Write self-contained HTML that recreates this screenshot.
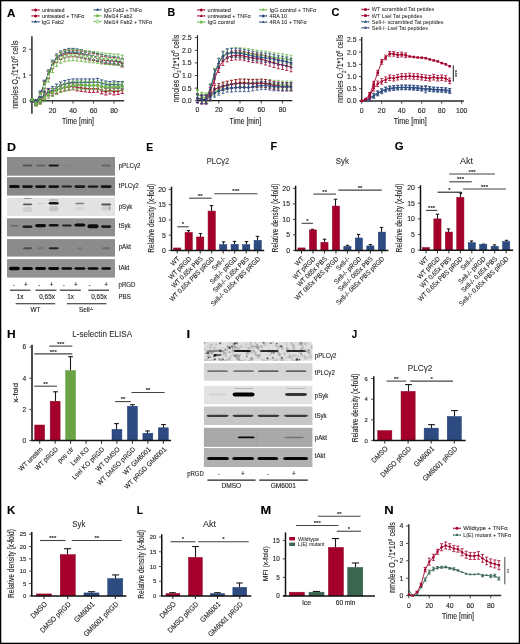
<!DOCTYPE html><html><head><meta charset="utf-8"><style>html,body{margin:0;padding:0;background:#fff;overflow:hidden;}svg{display:block;will-change:transform;}</style></head><body><svg width="520" height="644" viewBox="0 0 520 644" font-family='"Liberation Sans", sans-serif' fill="#1e1e1e"><defs><filter id="bl" x="-50%" y="-100%" width="200%" height="300%"><feGaussianBlur stdDeviation="0.55"/></filter><filter id="noiseI" filterUnits="userSpaceOnUse" x="203.9" y="341.9" width="108.5" height="18.9"><feTurbulence type="fractalNoise" baseFrequency="0.22" numOctaves="2" seed="7"/><feColorMatrix type="matrix" values="0 0 0 0 0  0 0 0 0 0  0 0 0 0 0  1.1 0 0 0 -0.52"/><feGaussianBlur stdDeviation="0.5"/><feComposite in2="SourceGraphic" operator="in"/></filter></defs><rect x="0" y="0" width="520" height="644" fill="#fff"/><text transform="translate(7.02 16.50) scale(1.001 1)" font-size="11.6" font-weight="bold" fill="#000" stroke="#000" stroke-width="0.12">A</text>
<line x1="31.80" y1="10.00" x2="39.30" y2="10.00" stroke="#a4002b" stroke-width="0.9"/>
<line x1="32.10" y1="9.10" x2="32.10" y2="10.90" stroke="#a4002b" stroke-width="0.6"/>
<line x1="39.00" y1="9.10" x2="39.00" y2="10.90" stroke="#a4002b" stroke-width="0.6"/>
<circle cx="35.55" cy="10.00" r="1.5" fill="#a4002b"/>
<text x="41.90" y="12.09" font-size="5.80" stroke="#1e1e1e" stroke-width="0.06" textLength="22.70" lengthAdjust="spacingAndGlyphs">untreated</text>
<line x1="31.80" y1="15.90" x2="39.30" y2="15.90" stroke="#a4002b" stroke-width="0.9"/>
<line x1="32.10" y1="15.00" x2="32.10" y2="16.80" stroke="#a4002b" stroke-width="0.6"/>
<line x1="39.00" y1="15.00" x2="39.00" y2="16.80" stroke="#a4002b" stroke-width="0.6"/>
<circle cx="35.55" cy="15.90" r="1.5" fill="#a4002b"/>
<text x="41.90" y="17.99" font-size="5.80" stroke="#1e1e1e" stroke-width="0.06" textLength="42.60" lengthAdjust="spacingAndGlyphs">untreated + TNF&#945;</text>
<line x1="31.80" y1="21.80" x2="39.30" y2="21.80" stroke="#2d4b80" stroke-width="0.9"/>
<line x1="32.10" y1="20.90" x2="32.10" y2="22.70" stroke="#2d4b80" stroke-width="0.6"/>
<line x1="39.00" y1="20.90" x2="39.00" y2="22.70" stroke="#2d4b80" stroke-width="0.6"/>
<path d="M35.55 20.10l1.6 2.7h-3.2z" fill="#2d4b80"/>
<text x="41.90" y="23.89" font-size="5.80" stroke="#1e1e1e" stroke-width="0.06" textLength="22.00" lengthAdjust="spacingAndGlyphs">IgG Fab2</text>
<line x1="93.80" y1="9.80" x2="101.30" y2="9.80" stroke="#2d4b80" stroke-width="0.9"/>
<line x1="94.10" y1="8.90" x2="94.10" y2="10.70" stroke="#2d4b80" stroke-width="0.6"/>
<line x1="101.00" y1="8.90" x2="101.00" y2="10.70" stroke="#2d4b80" stroke-width="0.6"/>
<path d="M97.55 8.10l1.6 2.7h-3.2z" fill="#2d4b80"/>
<text x="103.90" y="11.89" font-size="5.80" stroke="#1e1e1e" stroke-width="0.06" textLength="38.00" lengthAdjust="spacingAndGlyphs">IgG Fab2 + TNF&#945;</text>
<line x1="93.80" y1="15.80" x2="101.30" y2="15.80" stroke="#6cb84a" stroke-width="0.9"/>
<line x1="94.10" y1="14.90" x2="94.10" y2="16.70" stroke="#6cb84a" stroke-width="0.6"/>
<line x1="101.00" y1="14.90" x2="101.00" y2="16.70" stroke="#6cb84a" stroke-width="0.6"/>
<rect x="96.25" y="14.50" width="2.6" height="2.6" fill="#6cb84a"/>
<text x="103.90" y="17.89" font-size="5.80" stroke="#1e1e1e" stroke-width="0.06" textLength="28.50" lengthAdjust="spacingAndGlyphs">Mel14 Fab2</text>
<line x1="93.80" y1="21.60" x2="101.30" y2="21.60" stroke="#6cb84a" stroke-width="0.9"/>
<line x1="94.10" y1="20.70" x2="94.10" y2="22.50" stroke="#6cb84a" stroke-width="0.6"/>
<line x1="101.00" y1="20.70" x2="101.00" y2="22.50" stroke="#6cb84a" stroke-width="0.6"/>
<circle cx="97.55" cy="21.60" r="1.5" fill="#fff" stroke="#6cb84a" stroke-width="0.8"/>
<text x="103.90" y="23.69" font-size="5.80" stroke="#1e1e1e" stroke-width="0.06" textLength="48.30" lengthAdjust="spacingAndGlyphs">Mel14 Fab2 + TNF&#945;</text>
<line x1="31.90" y1="36.20" x2="31.90" y2="113.70" stroke="#444" stroke-width="1.7"/>
<line x1="29.20" y1="100.80" x2="31.90" y2="100.80" stroke="#333" stroke-width="0.9"/>
<text x="26.30" y="103.28" font-size="6.90" text-anchor="end" stroke="#1e1e1e" stroke-width="0.12">0</text>
<line x1="29.20" y1="75.10" x2="31.90" y2="75.10" stroke="#333" stroke-width="0.9"/>
<text x="26.30" y="77.58" font-size="6.90" text-anchor="end" stroke="#1e1e1e" stroke-width="0.12">1</text>
<line x1="29.20" y1="49.40" x2="31.90" y2="49.40" stroke="#333" stroke-width="0.9"/>
<text x="26.30" y="51.88" font-size="6.90" text-anchor="end" stroke="#1e1e1e" stroke-width="0.12">2</text>
<line x1="31.90" y1="100.80" x2="124.20" y2="100.80" stroke="#333" stroke-width="1.5"/>
<line x1="52.50" y1="100.80" x2="52.50" y2="103.60" stroke="#333" stroke-width="0.9"/>
<text x="52.50" y="112.68" font-size="6.90" text-anchor="middle" stroke="#1e1e1e" stroke-width="0.12">20</text>
<line x1="73.00" y1="100.80" x2="73.00" y2="103.60" stroke="#333" stroke-width="0.9"/>
<text x="73.00" y="112.68" font-size="6.90" text-anchor="middle" stroke="#1e1e1e" stroke-width="0.12">40</text>
<line x1="93.50" y1="100.80" x2="93.50" y2="103.60" stroke="#333" stroke-width="0.9"/>
<text x="93.50" y="112.68" font-size="6.90" text-anchor="middle" stroke="#1e1e1e" stroke-width="0.12">60</text>
<line x1="114.00" y1="100.80" x2="114.00" y2="103.60" stroke="#333" stroke-width="0.9"/>
<text x="114.00" y="112.68" font-size="6.90" text-anchor="middle" stroke="#1e1e1e" stroke-width="0.12">80</text>
<text x="78.00" y="124.00" font-size="8.60" text-anchor="middle" stroke="#1e1e1e" stroke-width="0.12" textLength="31.80" lengthAdjust="spacingAndGlyphs">Time [min]</text>
<text x="14.60" y="77.94" font-size="9.00" text-anchor="middle" stroke="#1e1e1e" stroke-width="0.12" textLength="68.30" lengthAdjust="spacingAndGlyphs" transform="rotate(-90 14.60 74.70)">nmoles O<tspan font-size="5.58" dy="2.52">2</tspan><tspan font-size="5.58" dy="-4.95">-</tspan><tspan dy="2.43">/1*10</tspan><tspan font-size="5.58" dy="-3.15">6</tspan><tspan dy="3.15"> cells</tspan></text>
<g stroke="#a4002b" fill="#a4002b" opacity="1.0">
<polyline points="32.00,100.80 36.10,102.08 40.20,95.66 44.30,84.87 48.40,75.10 52.50,65.33 56.60,59.17 60.70,56.08 64.80,54.54 68.90,53.51 73.00,53.25 77.10,53.77 81.20,54.54 85.30,55.57 89.40,56.60 93.50,57.11 97.60,58.14 101.70,59.68 105.80,60.19 109.90,60.96 114.00,60.96 118.10,61.74 122.20,63.53" fill="none" stroke-width="0.9"/>
<path d="M32.00 99.80V101.80M30.30 99.80h3.40M30.30 101.80h3.40" fill="none" stroke-width="0.9"/>
<circle cx="32.00" cy="100.80" r="1.3" stroke="none"/>
<path d="M36.10 99.88V104.28M34.40 99.88h3.40M34.40 104.28h3.40" fill="none" stroke-width="0.9"/>
<circle cx="36.10" cy="102.08" r="1.3" stroke="none"/>
<path d="M40.20 92.26V99.06M38.50 92.26h3.40M38.50 99.06h3.40" fill="none" stroke-width="0.9"/>
<circle cx="40.20" cy="95.66" r="1.3" stroke="none"/>
<path d="M44.30 81.47V88.27M42.60 81.47h3.40M42.60 88.27h3.40" fill="none" stroke-width="0.9"/>
<circle cx="44.30" cy="84.87" r="1.3" stroke="none"/>
<path d="M48.40 71.70V78.50M46.70 71.70h3.40M46.70 78.50h3.40" fill="none" stroke-width="0.9"/>
<circle cx="48.40" cy="75.10" r="1.3" stroke="none"/>
<path d="M52.50 61.93V68.73M50.80 61.93h3.40M50.80 68.73h3.40" fill="none" stroke-width="0.9"/>
<circle cx="52.50" cy="65.33" r="1.3" stroke="none"/>
<path d="M56.60 55.77V62.57M54.90 55.77h3.40M54.90 62.57h3.40" fill="none" stroke-width="0.9"/>
<circle cx="56.60" cy="59.17" r="1.3" stroke="none"/>
<path d="M60.70 52.68V59.48M59.00 52.68h3.40M59.00 59.48h3.40" fill="none" stroke-width="0.9"/>
<circle cx="60.70" cy="56.08" r="1.3" stroke="none"/>
<path d="M64.80 51.14V57.94M63.10 51.14h3.40M63.10 57.94h3.40" fill="none" stroke-width="0.9"/>
<circle cx="64.80" cy="54.54" r="1.3" stroke="none"/>
<path d="M68.90 50.11V56.91M67.20 50.11h3.40M67.20 56.91h3.40" fill="none" stroke-width="0.9"/>
<circle cx="68.90" cy="53.51" r="1.3" stroke="none"/>
<path d="M73.00 49.85V56.65M71.30 49.85h3.40M71.30 56.65h3.40" fill="none" stroke-width="0.9"/>
<circle cx="73.00" cy="53.25" r="1.3" stroke="none"/>
<path d="M77.10 50.37V57.17M75.40 50.37h3.40M75.40 57.17h3.40" fill="none" stroke-width="0.9"/>
<circle cx="77.10" cy="53.77" r="1.3" stroke="none"/>
<path d="M81.20 51.14V57.94M79.50 51.14h3.40M79.50 57.94h3.40" fill="none" stroke-width="0.9"/>
<circle cx="81.20" cy="54.54" r="1.3" stroke="none"/>
<path d="M85.30 52.17V58.97M83.60 52.17h3.40M83.60 58.97h3.40" fill="none" stroke-width="0.9"/>
<circle cx="85.30" cy="55.57" r="1.3" stroke="none"/>
<path d="M89.40 53.20V60.00M87.70 53.20h3.40M87.70 60.00h3.40" fill="none" stroke-width="0.9"/>
<circle cx="89.40" cy="56.60" r="1.3" stroke="none"/>
<path d="M93.50 53.71V60.51M91.80 53.71h3.40M91.80 60.51h3.40" fill="none" stroke-width="0.9"/>
<circle cx="93.50" cy="57.11" r="1.3" stroke="none"/>
<path d="M97.60 54.74V61.54M95.90 54.74h3.40M95.90 61.54h3.40" fill="none" stroke-width="0.9"/>
<circle cx="97.60" cy="58.14" r="1.3" stroke="none"/>
<path d="M101.70 56.28V63.08M100.00 56.28h3.40M100.00 63.08h3.40" fill="none" stroke-width="0.9"/>
<circle cx="101.70" cy="59.68" r="1.3" stroke="none"/>
<path d="M105.80 56.79V63.59M104.10 56.79h3.40M104.10 63.59h3.40" fill="none" stroke-width="0.9"/>
<circle cx="105.80" cy="60.19" r="1.3" stroke="none"/>
<path d="M109.90 57.56V64.36M108.20 57.56h3.40M108.20 64.36h3.40" fill="none" stroke-width="0.9"/>
<circle cx="109.90" cy="60.96" r="1.3" stroke="none"/>
<path d="M114.00 57.56V64.36M112.30 57.56h3.40M112.30 64.36h3.40" fill="none" stroke-width="0.9"/>
<circle cx="114.00" cy="60.96" r="1.3" stroke="none"/>
<path d="M118.10 58.34V65.14M116.40 58.34h3.40M116.40 65.14h3.40" fill="none" stroke-width="0.9"/>
<circle cx="118.10" cy="61.74" r="1.3" stroke="none"/>
<path d="M122.20 60.13V66.94M120.50 60.13h3.40M120.50 66.94h3.40" fill="none" stroke-width="0.9"/>
<circle cx="122.20" cy="63.53" r="1.3" stroke="none"/>
</g>
<g stroke="#2d4b80" fill="#2d4b80" opacity="1.0">
<polyline points="32.00,100.80 36.10,102.08 40.20,94.38 44.30,83.84 48.40,73.56 52.50,63.79 56.60,57.62 60.70,54.54 64.80,53.00 68.90,51.97 73.00,51.97 77.10,52.48 81.20,53.25 85.30,54.54 89.40,55.05 93.50,56.08 97.60,57.11 101.70,58.14 105.80,59.17 109.90,59.68 114.00,60.19 118.10,60.71 122.20,62.25" fill="none" stroke-width="0.9"/>
<path d="M32.00 99.80V101.80M30.30 99.80h3.40M30.30 101.80h3.40" fill="none" stroke-width="0.9"/>
<path d="M32.00 99.24L33.43 101.84L30.57 101.84Z" stroke="none"/>
<path d="M36.10 99.88V104.28M34.40 99.88h3.40M34.40 104.28h3.40" fill="none" stroke-width="0.9"/>
<path d="M36.10 100.52L37.53 103.12L34.67 103.12Z" stroke="none"/>
<path d="M40.20 90.97V97.78M38.50 90.97h3.40M38.50 97.78h3.40" fill="none" stroke-width="0.9"/>
<path d="M40.20 92.81L41.63 95.42L38.77 95.42Z" stroke="none"/>
<path d="M44.30 80.24V87.44M42.60 80.24h3.40M42.60 87.44h3.40" fill="none" stroke-width="0.9"/>
<path d="M44.30 82.28L45.73 84.88L42.87 84.88Z" stroke="none"/>
<path d="M48.40 69.96V77.16M46.70 69.96h3.40M46.70 77.16h3.40" fill="none" stroke-width="0.9"/>
<path d="M48.40 72.00L49.83 74.60L46.97 74.60Z" stroke="none"/>
<path d="M52.50 60.19V67.39M50.80 60.19h3.40M50.80 67.39h3.40" fill="none" stroke-width="0.9"/>
<path d="M52.50 62.23L53.93 64.83L51.07 64.83Z" stroke="none"/>
<path d="M56.60 54.02V61.22M54.90 54.02h3.40M54.90 61.22h3.40" fill="none" stroke-width="0.9"/>
<path d="M56.60 56.06L58.03 58.66L55.17 58.66Z" stroke="none"/>
<path d="M60.70 50.94V58.14M59.00 50.94h3.40M59.00 58.14h3.40" fill="none" stroke-width="0.9"/>
<path d="M60.70 52.98L62.13 55.58L59.27 55.58Z" stroke="none"/>
<path d="M64.80 49.40V56.60M63.10 49.40h3.40M63.10 56.60h3.40" fill="none" stroke-width="0.9"/>
<path d="M64.80 51.44L66.23 54.04L63.37 54.04Z" stroke="none"/>
<path d="M68.90 48.37V55.57M67.20 48.37h3.40M67.20 55.57h3.40" fill="none" stroke-width="0.9"/>
<path d="M68.90 50.41L70.33 53.01L67.47 53.01Z" stroke="none"/>
<path d="M73.00 48.37V55.57M71.30 48.37h3.40M71.30 55.57h3.40" fill="none" stroke-width="0.9"/>
<path d="M73.00 50.41L74.43 53.01L71.57 53.01Z" stroke="none"/>
<path d="M77.10 48.88V56.08M75.40 48.88h3.40M75.40 56.08h3.40" fill="none" stroke-width="0.9"/>
<path d="M77.10 50.92L78.53 53.52L75.67 53.52Z" stroke="none"/>
<path d="M81.20 49.65V56.85M79.50 49.65h3.40M79.50 56.85h3.40" fill="none" stroke-width="0.9"/>
<path d="M81.20 51.69L82.63 54.29L79.77 54.29Z" stroke="none"/>
<path d="M85.30 50.94V58.14M83.60 50.94h3.40M83.60 58.14h3.40" fill="none" stroke-width="0.9"/>
<path d="M85.30 52.98L86.73 55.58L83.87 55.58Z" stroke="none"/>
<path d="M89.40 51.45V58.65M87.70 51.45h3.40M87.70 58.65h3.40" fill="none" stroke-width="0.9"/>
<path d="M89.40 53.49L90.83 56.09L87.97 56.09Z" stroke="none"/>
<path d="M93.50 52.48V59.68M91.80 52.48h3.40M91.80 59.68h3.40" fill="none" stroke-width="0.9"/>
<path d="M93.50 54.52L94.93 57.12L92.07 57.12Z" stroke="none"/>
<path d="M97.60 53.51V60.71M95.90 53.51h3.40M95.90 60.71h3.40" fill="none" stroke-width="0.9"/>
<path d="M97.60 55.55L99.03 58.15L96.17 58.15Z" stroke="none"/>
<path d="M101.70 54.54V61.74M100.00 54.54h3.40M100.00 61.74h3.40" fill="none" stroke-width="0.9"/>
<path d="M101.70 56.58L103.13 59.18L100.27 59.18Z" stroke="none"/>
<path d="M105.80 55.57V62.77M104.10 55.57h3.40M104.10 62.77h3.40" fill="none" stroke-width="0.9"/>
<path d="M105.80 57.61L107.23 60.21L104.37 60.21Z" stroke="none"/>
<path d="M109.90 56.08V63.28M108.20 56.08h3.40M108.20 63.28h3.40" fill="none" stroke-width="0.9"/>
<path d="M109.90 58.12L111.33 60.72L108.47 60.72Z" stroke="none"/>
<path d="M114.00 56.59V63.79M112.30 56.59h3.40M112.30 63.79h3.40" fill="none" stroke-width="0.9"/>
<path d="M114.00 58.63L115.43 61.23L112.57 61.23Z" stroke="none"/>
<path d="M118.10 57.11V64.31M116.40 57.11h3.40M116.40 64.31h3.40" fill="none" stroke-width="0.9"/>
<path d="M118.10 59.15L119.53 61.75L116.67 61.75Z" stroke="none"/>
<path d="M122.20 58.65V65.85M120.50 58.65h3.40M120.50 65.85h3.40" fill="none" stroke-width="0.9"/>
<path d="M122.20 60.69L123.63 63.29L120.77 63.29Z" stroke="none"/>
</g>
<g stroke="#6cb84a" fill="#6cb84a" opacity="1.0">
<polyline points="32.00,100.80 36.10,103.37 40.20,96.17 44.30,86.66 48.40,76.38 52.50,66.88 56.60,60.71 60.70,57.62 64.80,56.08 68.90,55.31 73.00,55.05 77.10,55.31 81.20,55.82 85.30,56.34 89.40,56.60 93.50,57.11 97.60,57.62 101.70,58.40 105.80,58.91 109.90,59.17 114.00,59.68 118.10,59.68 122.20,60.71" fill="none" stroke-width="0.9"/>
<path d="M32.00 99.80V101.80M30.30 99.80h3.40M30.30 101.80h3.40" fill="none" stroke-width="0.9"/>
<circle cx="32.00" cy="100.80" r="1.3" fill="#fff" stroke-width="0.6"/>
<path d="M36.10 101.17V105.57M34.40 101.17h3.40M34.40 105.57h3.40" fill="none" stroke-width="0.9"/>
<circle cx="36.10" cy="103.37" r="1.3" fill="#fff" stroke-width="0.6"/>
<path d="M40.20 92.77V99.57M38.50 92.77h3.40M38.50 99.57h3.40" fill="none" stroke-width="0.9"/>
<circle cx="40.20" cy="96.17" r="1.3" fill="#fff" stroke-width="0.6"/>
<path d="M44.30 82.06V91.26M42.60 82.06h3.40M42.60 91.26h3.40" fill="none" stroke-width="0.9"/>
<circle cx="44.30" cy="86.66" r="1.3" fill="#fff" stroke-width="0.6"/>
<path d="M48.40 70.78V81.98M46.70 70.78h3.40M46.70 81.98h3.40" fill="none" stroke-width="0.9"/>
<circle cx="48.40" cy="76.38" r="1.3" fill="#fff" stroke-width="0.6"/>
<path d="M52.50 61.28V72.48M50.80 61.28h3.40M50.80 72.48h3.40" fill="none" stroke-width="0.9"/>
<circle cx="52.50" cy="66.88" r="1.3" fill="#fff" stroke-width="0.6"/>
<path d="M56.60 55.11V66.31M54.90 55.11h3.40M54.90 66.31h3.40" fill="none" stroke-width="0.9"/>
<circle cx="56.60" cy="60.71" r="1.3" fill="#fff" stroke-width="0.6"/>
<path d="M60.70 52.02V63.22M59.00 52.02h3.40M59.00 63.22h3.40" fill="none" stroke-width="0.9"/>
<circle cx="60.70" cy="57.62" r="1.3" fill="#fff" stroke-width="0.6"/>
<path d="M64.80 50.48V61.68M63.10 50.48h3.40M63.10 61.68h3.40" fill="none" stroke-width="0.9"/>
<circle cx="64.80" cy="56.08" r="1.3" fill="#fff" stroke-width="0.6"/>
<path d="M68.90 49.71V60.91M67.20 49.71h3.40M67.20 60.91h3.40" fill="none" stroke-width="0.9"/>
<circle cx="68.90" cy="55.31" r="1.3" fill="#fff" stroke-width="0.6"/>
<path d="M73.00 49.45V60.65M71.30 49.45h3.40M71.30 60.65h3.40" fill="none" stroke-width="0.9"/>
<circle cx="73.00" cy="55.05" r="1.3" fill="#fff" stroke-width="0.6"/>
<path d="M77.10 49.71V60.91M75.40 49.71h3.40M75.40 60.91h3.40" fill="none" stroke-width="0.9"/>
<circle cx="77.10" cy="55.31" r="1.3" fill="#fff" stroke-width="0.6"/>
<path d="M81.20 50.22V61.42M79.50 50.22h3.40M79.50 61.42h3.40" fill="none" stroke-width="0.9"/>
<circle cx="81.20" cy="55.82" r="1.3" fill="#fff" stroke-width="0.6"/>
<path d="M85.30 50.74V61.94M83.60 50.74h3.40M83.60 61.94h3.40" fill="none" stroke-width="0.9"/>
<circle cx="85.30" cy="56.34" r="1.3" fill="#fff" stroke-width="0.6"/>
<path d="M89.40 51.00V62.20M87.70 51.00h3.40M87.70 62.20h3.40" fill="none" stroke-width="0.9"/>
<circle cx="89.40" cy="56.60" r="1.3" fill="#fff" stroke-width="0.6"/>
<path d="M93.50 51.51V62.71M91.80 51.51h3.40M91.80 62.71h3.40" fill="none" stroke-width="0.9"/>
<circle cx="93.50" cy="57.11" r="1.3" fill="#fff" stroke-width="0.6"/>
<path d="M97.60 52.02V63.22M95.90 52.02h3.40M95.90 63.22h3.40" fill="none" stroke-width="0.9"/>
<circle cx="97.60" cy="57.62" r="1.3" fill="#fff" stroke-width="0.6"/>
<path d="M101.70 52.80V64.00M100.00 52.80h3.40M100.00 64.00h3.40" fill="none" stroke-width="0.9"/>
<circle cx="101.70" cy="58.40" r="1.3" fill="#fff" stroke-width="0.6"/>
<path d="M105.80 53.31V64.51M104.10 53.31h3.40M104.10 64.51h3.40" fill="none" stroke-width="0.9"/>
<circle cx="105.80" cy="58.91" r="1.3" fill="#fff" stroke-width="0.6"/>
<path d="M109.90 53.57V64.77M108.20 53.57h3.40M108.20 64.77h3.40" fill="none" stroke-width="0.9"/>
<circle cx="109.90" cy="59.17" r="1.3" fill="#fff" stroke-width="0.6"/>
<path d="M114.00 54.08V65.28M112.30 54.08h3.40M112.30 65.28h3.40" fill="none" stroke-width="0.9"/>
<circle cx="114.00" cy="59.68" r="1.3" fill="#fff" stroke-width="0.6"/>
<path d="M118.10 54.08V65.28M116.40 54.08h3.40M116.40 65.28h3.40" fill="none" stroke-width="0.9"/>
<circle cx="118.10" cy="59.68" r="1.3" fill="#fff" stroke-width="0.6"/>
<path d="M122.20 55.11V66.31M120.50 55.11h3.40M120.50 66.31h3.40" fill="none" stroke-width="0.9"/>
<circle cx="122.20" cy="60.71" r="1.3" fill="#fff" stroke-width="0.6"/>
</g>
<g stroke="#a4002b" fill="#a4002b" opacity="1.0">
<polyline points="32.00,100.80 36.10,103.88 40.20,100.80 44.30,95.66 48.40,92.58 52.50,91.80 56.60,90.01 60.70,88.46 64.80,87.44 68.90,86.92 73.00,86.41 77.10,87.44 81.20,87.95 85.30,88.46 89.40,88.98 93.50,88.98 97.60,88.72 101.70,90.52 105.80,91.55 109.90,90.52 114.00,91.55 118.10,91.03 122.20,90.01" fill="none" stroke-width="0.9"/>
<path d="M32.00 99.80V101.80M30.30 99.80h3.40M30.30 101.80h3.40" fill="none" stroke-width="0.9"/>
<circle cx="32.00" cy="100.80" r="1.3" stroke="none"/>
<path d="M36.10 101.88V105.88M34.40 101.88h3.40M34.40 105.88h3.40" fill="none" stroke-width="0.9"/>
<circle cx="36.10" cy="103.88" r="1.3" stroke="none"/>
<path d="M40.20 97.80V103.80M38.50 97.80h3.40M38.50 103.80h3.40" fill="none" stroke-width="0.9"/>
<circle cx="40.20" cy="100.80" r="1.3" stroke="none"/>
<path d="M44.30 92.26V99.06M42.60 92.26h3.40M42.60 99.06h3.40" fill="none" stroke-width="0.9"/>
<circle cx="44.30" cy="95.66" r="1.3" stroke="none"/>
<path d="M48.40 89.18V95.98M46.70 89.18h3.40M46.70 95.98h3.40" fill="none" stroke-width="0.9"/>
<circle cx="48.40" cy="92.58" r="1.3" stroke="none"/>
<path d="M52.50 88.40V95.20M50.80 88.40h3.40M50.80 95.20h3.40" fill="none" stroke-width="0.9"/>
<circle cx="52.50" cy="91.80" r="1.3" stroke="none"/>
<path d="M56.60 86.61V93.41M54.90 86.61h3.40M54.90 93.41h3.40" fill="none" stroke-width="0.9"/>
<circle cx="56.60" cy="90.01" r="1.3" stroke="none"/>
<path d="M60.70 85.06V91.86M59.00 85.06h3.40M59.00 91.86h3.40" fill="none" stroke-width="0.9"/>
<circle cx="60.70" cy="88.46" r="1.3" stroke="none"/>
<path d="M64.80 84.04V90.84M63.10 84.04h3.40M63.10 90.84h3.40" fill="none" stroke-width="0.9"/>
<circle cx="64.80" cy="87.44" r="1.3" stroke="none"/>
<path d="M68.90 83.52V90.32M67.20 83.52h3.40M67.20 90.32h3.40" fill="none" stroke-width="0.9"/>
<circle cx="68.90" cy="86.92" r="1.3" stroke="none"/>
<path d="M73.00 83.01V89.81M71.30 83.01h3.40M71.30 89.81h3.40" fill="none" stroke-width="0.9"/>
<circle cx="73.00" cy="86.41" r="1.3" stroke="none"/>
<path d="M77.10 84.04V90.84M75.40 84.04h3.40M75.40 90.84h3.40" fill="none" stroke-width="0.9"/>
<circle cx="77.10" cy="87.44" r="1.3" stroke="none"/>
<path d="M81.20 84.55V91.35M79.50 84.55h3.40M79.50 91.35h3.40" fill="none" stroke-width="0.9"/>
<circle cx="81.20" cy="87.95" r="1.3" stroke="none"/>
<path d="M85.30 85.06V91.86M83.60 85.06h3.40M83.60 91.86h3.40" fill="none" stroke-width="0.9"/>
<circle cx="85.30" cy="88.46" r="1.3" stroke="none"/>
<path d="M89.40 85.58V92.38M87.70 85.58h3.40M87.70 92.38h3.40" fill="none" stroke-width="0.9"/>
<circle cx="89.40" cy="88.98" r="1.3" stroke="none"/>
<path d="M93.50 85.58V92.38M91.80 85.58h3.40M91.80 92.38h3.40" fill="none" stroke-width="0.9"/>
<circle cx="93.50" cy="88.98" r="1.3" stroke="none"/>
<path d="M97.60 85.32V92.12M95.90 85.32h3.40M95.90 92.12h3.40" fill="none" stroke-width="0.9"/>
<circle cx="97.60" cy="88.72" r="1.3" stroke="none"/>
<path d="M101.70 87.12V93.92M100.00 87.12h3.40M100.00 93.92h3.40" fill="none" stroke-width="0.9"/>
<circle cx="101.70" cy="90.52" r="1.3" stroke="none"/>
<path d="M105.80 88.15V94.95M104.10 88.15h3.40M104.10 94.95h3.40" fill="none" stroke-width="0.9"/>
<circle cx="105.80" cy="91.55" r="1.3" stroke="none"/>
<path d="M109.90 87.12V93.92M108.20 87.12h3.40M108.20 93.92h3.40" fill="none" stroke-width="0.9"/>
<circle cx="109.90" cy="90.52" r="1.3" stroke="none"/>
<path d="M114.00 88.15V94.95M112.30 88.15h3.40M112.30 94.95h3.40" fill="none" stroke-width="0.9"/>
<circle cx="114.00" cy="91.55" r="1.3" stroke="none"/>
<path d="M118.10 87.63V94.43M116.40 87.63h3.40M116.40 94.43h3.40" fill="none" stroke-width="0.9"/>
<circle cx="118.10" cy="91.03" r="1.3" stroke="none"/>
<path d="M122.20 86.61V93.41M120.50 86.61h3.40M120.50 93.41h3.40" fill="none" stroke-width="0.9"/>
<circle cx="122.20" cy="90.01" r="1.3" stroke="none"/>
</g>
<g stroke="#2d4b80" fill="#2d4b80" opacity="1.0">
<polyline points="32.00,100.80 36.10,102.08 40.20,99.52 44.30,94.38 48.40,91.80 52.50,90.01 56.60,87.44 60.70,85.38 64.80,83.84 68.90,82.81 73.00,82.30 77.10,82.30 81.20,82.30 85.30,82.30 89.40,82.30 93.50,82.30 97.60,81.78 101.70,83.32 105.80,84.35 109.90,84.87 114.00,84.35 118.10,84.87 122.20,84.87" fill="none" stroke-width="0.9"/>
<path d="M32.00 99.80V101.80M30.30 99.80h3.40M30.30 101.80h3.40" fill="none" stroke-width="0.9"/>
<path d="M32.00 99.24L33.43 101.84L30.57 101.84Z" stroke="none"/>
<path d="M36.10 100.08V104.08M34.40 100.08h3.40M34.40 104.08h3.40" fill="none" stroke-width="0.9"/>
<path d="M36.10 100.52L37.53 103.12L34.67 103.12Z" stroke="none"/>
<path d="M40.20 96.52V102.52M38.50 96.52h3.40M38.50 102.52h3.40" fill="none" stroke-width="0.9"/>
<path d="M40.20 97.95L41.63 100.56L38.77 100.56Z" stroke="none"/>
<path d="M44.30 90.97V97.78M42.60 90.97h3.40M42.60 97.78h3.40" fill="none" stroke-width="0.9"/>
<path d="M44.30 92.81L45.73 95.42L42.87 95.42Z" stroke="none"/>
<path d="M48.40 88.40V95.20M46.70 88.40h3.40M46.70 95.20h3.40" fill="none" stroke-width="0.9"/>
<path d="M48.40 90.24L49.83 92.84L46.97 92.84Z" stroke="none"/>
<path d="M52.50 86.61V93.41M50.80 86.61h3.40M50.80 93.41h3.40" fill="none" stroke-width="0.9"/>
<path d="M52.50 88.45L53.93 91.05L51.07 91.05Z" stroke="none"/>
<path d="M56.60 84.04V90.84M54.90 84.04h3.40M54.90 90.84h3.40" fill="none" stroke-width="0.9"/>
<path d="M56.60 85.88L58.03 88.48L55.17 88.48Z" stroke="none"/>
<path d="M60.70 81.98V88.78M59.00 81.98h3.40M59.00 88.78h3.40" fill="none" stroke-width="0.9"/>
<path d="M60.70 83.82L62.13 86.42L59.27 86.42Z" stroke="none"/>
<path d="M64.80 80.44V87.24M63.10 80.44h3.40M63.10 87.24h3.40" fill="none" stroke-width="0.9"/>
<path d="M64.80 82.28L66.23 84.88L63.37 84.88Z" stroke="none"/>
<path d="M68.90 79.41V86.21M67.20 79.41h3.40M67.20 86.21h3.40" fill="none" stroke-width="0.9"/>
<path d="M68.90 81.25L70.33 83.85L67.47 83.85Z" stroke="none"/>
<path d="M73.00 78.90V85.70M71.30 78.90h3.40M71.30 85.70h3.40" fill="none" stroke-width="0.9"/>
<path d="M73.00 80.74L74.43 83.34L71.57 83.34Z" stroke="none"/>
<path d="M77.10 78.90V85.70M75.40 78.90h3.40M75.40 85.70h3.40" fill="none" stroke-width="0.9"/>
<path d="M77.10 80.74L78.53 83.34L75.67 83.34Z" stroke="none"/>
<path d="M81.20 78.90V85.70M79.50 78.90h3.40M79.50 85.70h3.40" fill="none" stroke-width="0.9"/>
<path d="M81.20 80.74L82.63 83.34L79.77 83.34Z" stroke="none"/>
<path d="M85.30 78.90V85.70M83.60 78.90h3.40M83.60 85.70h3.40" fill="none" stroke-width="0.9"/>
<path d="M85.30 80.74L86.73 83.34L83.87 83.34Z" stroke="none"/>
<path d="M89.40 78.90V85.70M87.70 78.90h3.40M87.70 85.70h3.40" fill="none" stroke-width="0.9"/>
<path d="M89.40 80.74L90.83 83.34L87.97 83.34Z" stroke="none"/>
<path d="M93.50 78.90V85.70M91.80 78.90h3.40M91.80 85.70h3.40" fill="none" stroke-width="0.9"/>
<path d="M93.50 80.74L94.93 83.34L92.07 83.34Z" stroke="none"/>
<path d="M97.60 78.38V85.18M95.90 78.38h3.40M95.90 85.18h3.40" fill="none" stroke-width="0.9"/>
<path d="M97.60 80.22L99.03 82.82L96.17 82.82Z" stroke="none"/>
<path d="M101.70 79.92V86.72M100.00 79.92h3.40M100.00 86.72h3.40" fill="none" stroke-width="0.9"/>
<path d="M101.70 81.76L103.13 84.36L100.27 84.36Z" stroke="none"/>
<path d="M105.80 80.95V87.75M104.10 80.95h3.40M104.10 87.75h3.40" fill="none" stroke-width="0.9"/>
<path d="M105.80 82.79L107.23 85.39L104.37 85.39Z" stroke="none"/>
<path d="M109.90 81.47V88.27M108.20 81.47h3.40M108.20 88.27h3.40" fill="none" stroke-width="0.9"/>
<path d="M109.90 83.31L111.33 85.91L108.47 85.91Z" stroke="none"/>
<path d="M114.00 80.95V87.75M112.30 80.95h3.40M112.30 87.75h3.40" fill="none" stroke-width="0.9"/>
<path d="M114.00 82.79L115.43 85.39L112.57 85.39Z" stroke="none"/>
<path d="M118.10 81.47V88.27M116.40 81.47h3.40M116.40 88.27h3.40" fill="none" stroke-width="0.9"/>
<path d="M118.10 83.31L119.53 85.91L116.67 85.91Z" stroke="none"/>
<path d="M122.20 81.47V88.27M120.50 81.47h3.40M120.50 88.27h3.40" fill="none" stroke-width="0.9"/>
<path d="M122.20 83.31L123.63 85.91L120.77 85.91Z" stroke="none"/>
</g>
<g stroke="#6cb84a" fill="#6cb84a" opacity="1.0">
<polyline points="32.00,99.52 36.10,103.88 40.20,101.31 44.30,97.72 48.40,94.38 52.50,92.58 56.60,90.52 60.70,88.46 64.80,87.44 68.90,86.15 73.00,85.38 77.10,84.87 81.20,84.87 85.30,85.38 89.40,85.38 93.50,85.38 97.60,85.38 101.70,86.41 105.80,86.66 109.90,87.44 114.00,86.66 118.10,86.66 122.20,86.66" fill="none" stroke-width="0.9"/>
<path d="M32.00 98.52V100.52M30.30 98.52h3.40M30.30 100.52h3.40" fill="none" stroke-width="0.9"/>
<rect x="30.70" y="98.22" width="2.60" height="2.60" stroke="none"/>
<path d="M36.10 101.88V105.88M34.40 101.88h3.40M34.40 105.88h3.40" fill="none" stroke-width="0.9"/>
<rect x="34.80" y="102.58" width="2.60" height="2.60" stroke="none"/>
<path d="M40.20 98.31V104.31M38.50 98.31h3.40M38.50 104.31h3.40" fill="none" stroke-width="0.9"/>
<rect x="38.90" y="100.01" width="2.60" height="2.60" stroke="none"/>
<path d="M44.30 93.72V101.72M42.60 93.72h3.40M42.60 101.72h3.40" fill="none" stroke-width="0.9"/>
<rect x="43.00" y="96.42" width="2.60" height="2.60" stroke="none"/>
<path d="M48.40 90.38V98.38M46.70 90.38h3.40M46.70 98.38h3.40" fill="none" stroke-width="0.9"/>
<rect x="47.10" y="93.08" width="2.60" height="2.60" stroke="none"/>
<path d="M52.50 88.58V96.58M50.80 88.58h3.40M50.80 96.58h3.40" fill="none" stroke-width="0.9"/>
<rect x="51.20" y="91.28" width="2.60" height="2.60" stroke="none"/>
<path d="M56.60 86.52V94.52M54.90 86.52h3.40M54.90 94.52h3.40" fill="none" stroke-width="0.9"/>
<rect x="55.30" y="89.22" width="2.60" height="2.60" stroke="none"/>
<path d="M60.70 84.46V92.46M59.00 84.46h3.40M59.00 92.46h3.40" fill="none" stroke-width="0.9"/>
<rect x="59.40" y="87.16" width="2.60" height="2.60" stroke="none"/>
<path d="M64.80 83.44V91.44M63.10 83.44h3.40M63.10 91.44h3.40" fill="none" stroke-width="0.9"/>
<rect x="63.50" y="86.14" width="2.60" height="2.60" stroke="none"/>
<path d="M68.90 82.15V90.15M67.20 82.15h3.40M67.20 90.15h3.40" fill="none" stroke-width="0.9"/>
<rect x="67.60" y="84.85" width="2.60" height="2.60" stroke="none"/>
<path d="M73.00 81.38V89.38M71.30 81.38h3.40M71.30 89.38h3.40" fill="none" stroke-width="0.9"/>
<rect x="71.70" y="84.08" width="2.60" height="2.60" stroke="none"/>
<path d="M77.10 80.87V88.87M75.40 80.87h3.40M75.40 88.87h3.40" fill="none" stroke-width="0.9"/>
<rect x="75.80" y="83.57" width="2.60" height="2.60" stroke="none"/>
<path d="M81.20 80.87V88.87M79.50 80.87h3.40M79.50 88.87h3.40" fill="none" stroke-width="0.9"/>
<rect x="79.90" y="83.57" width="2.60" height="2.60" stroke="none"/>
<path d="M85.30 81.38V89.38M83.60 81.38h3.40M83.60 89.38h3.40" fill="none" stroke-width="0.9"/>
<rect x="84.00" y="84.08" width="2.60" height="2.60" stroke="none"/>
<path d="M89.40 81.38V89.38M87.70 81.38h3.40M87.70 89.38h3.40" fill="none" stroke-width="0.9"/>
<rect x="88.10" y="84.08" width="2.60" height="2.60" stroke="none"/>
<path d="M93.50 81.38V89.38M91.80 81.38h3.40M91.80 89.38h3.40" fill="none" stroke-width="0.9"/>
<rect x="92.20" y="84.08" width="2.60" height="2.60" stroke="none"/>
<path d="M97.60 81.38V89.38M95.90 81.38h3.40M95.90 89.38h3.40" fill="none" stroke-width="0.9"/>
<rect x="96.30" y="84.08" width="2.60" height="2.60" stroke="none"/>
<path d="M101.70 82.41V90.41M100.00 82.41h3.40M100.00 90.41h3.40" fill="none" stroke-width="0.9"/>
<rect x="100.40" y="85.11" width="2.60" height="2.60" stroke="none"/>
<path d="M105.80 82.66V90.66M104.10 82.66h3.40M104.10 90.66h3.40" fill="none" stroke-width="0.9"/>
<rect x="104.50" y="85.36" width="2.60" height="2.60" stroke="none"/>
<path d="M109.90 83.44V91.44M108.20 83.44h3.40M108.20 91.44h3.40" fill="none" stroke-width="0.9"/>
<rect x="108.60" y="86.14" width="2.60" height="2.60" stroke="none"/>
<path d="M114.00 82.66V90.66M112.30 82.66h3.40M112.30 90.66h3.40" fill="none" stroke-width="0.9"/>
<rect x="112.70" y="85.36" width="2.60" height="2.60" stroke="none"/>
<path d="M118.10 82.66V90.66M116.40 82.66h3.40M116.40 90.66h3.40" fill="none" stroke-width="0.9"/>
<rect x="116.80" y="85.36" width="2.60" height="2.60" stroke="none"/>
<path d="M122.20 82.66V90.66M120.50 82.66h3.40M120.50 90.66h3.40" fill="none" stroke-width="0.9"/>
<rect x="120.90" y="85.36" width="2.60" height="2.60" stroke="none"/>
</g>
<text transform="translate(167.50 16.30) scale(0.917 1)" font-size="11.6" font-weight="bold" fill="#000" stroke="#000" stroke-width="0.12">B</text>
<line x1="197.50" y1="9.90" x2="205.00" y2="9.90" stroke="#a4002b" stroke-width="0.9"/>
<line x1="197.80" y1="9.00" x2="197.80" y2="10.80" stroke="#a4002b" stroke-width="0.6"/>
<line x1="204.70" y1="9.00" x2="204.70" y2="10.80" stroke="#a4002b" stroke-width="0.6"/>
<circle cx="201.25" cy="9.90" r="1.5" fill="#a4002b"/>
<text x="207.60" y="11.99" font-size="5.80" stroke="#1e1e1e" stroke-width="0.06" textLength="23.20" lengthAdjust="spacingAndGlyphs">untreated</text>
<line x1="197.50" y1="15.90" x2="205.00" y2="15.90" stroke="#a4002b" stroke-width="0.9"/>
<line x1="197.80" y1="15.00" x2="197.80" y2="16.80" stroke="#a4002b" stroke-width="0.6"/>
<line x1="204.70" y1="15.00" x2="204.70" y2="16.80" stroke="#a4002b" stroke-width="0.6"/>
<path d="M201.25 14.20l1.6 2.7h-3.2z" fill="#a4002b"/>
<text x="207.60" y="17.99" font-size="5.80" stroke="#1e1e1e" stroke-width="0.06" textLength="43.20" lengthAdjust="spacingAndGlyphs">untreated + TNF&#945;</text>
<line x1="197.50" y1="22.10" x2="205.00" y2="22.10" stroke="#6cb84a" stroke-width="0.9"/>
<line x1="197.80" y1="21.20" x2="197.80" y2="23.00" stroke="#6cb84a" stroke-width="0.6"/>
<line x1="204.70" y1="21.20" x2="204.70" y2="23.00" stroke="#6cb84a" stroke-width="0.6"/>
<circle cx="201.25" cy="22.10" r="1.5" fill="#6cb84a"/>
<text x="207.60" y="24.19" font-size="5.80" stroke="#1e1e1e" stroke-width="0.06" textLength="27.10" lengthAdjust="spacingAndGlyphs">IgG control</text>
<line x1="259.50" y1="9.70" x2="267.00" y2="9.70" stroke="#6cb84a" stroke-width="0.9"/>
<line x1="259.80" y1="8.80" x2="259.80" y2="10.60" stroke="#6cb84a" stroke-width="0.6"/>
<line x1="266.70" y1="8.80" x2="266.70" y2="10.60" stroke="#6cb84a" stroke-width="0.6"/>
<path d="M263.25 8.00l1.6 2.7h-3.2z" fill="#6cb84a"/>
<text x="269.60" y="11.79" font-size="5.80" stroke="#1e1e1e" stroke-width="0.06" textLength="46.70" lengthAdjust="spacingAndGlyphs">IgG control + TNF&#945;</text>
<line x1="259.50" y1="15.90" x2="267.00" y2="15.90" stroke="#2d4b80" stroke-width="0.9"/>
<line x1="259.80" y1="15.00" x2="259.80" y2="16.80" stroke="#2d4b80" stroke-width="0.6"/>
<line x1="266.70" y1="15.00" x2="266.70" y2="16.80" stroke="#2d4b80" stroke-width="0.6"/>
<circle cx="263.25" cy="15.90" r="1.5" fill="#2d4b80"/>
<text x="269.60" y="17.99" font-size="5.80" stroke="#1e1e1e" stroke-width="0.06" textLength="17.30" lengthAdjust="spacingAndGlyphs">4RA 10</text>
<line x1="259.50" y1="22.10" x2="267.00" y2="22.10" stroke="#2d4b80" stroke-width="0.9"/>
<line x1="259.80" y1="21.20" x2="259.80" y2="23.00" stroke="#2d4b80" stroke-width="0.6"/>
<line x1="266.70" y1="21.20" x2="266.70" y2="23.00" stroke="#2d4b80" stroke-width="0.6"/>
<path d="M263.25 20.40l1.6 2.7h-3.2z" fill="#2d4b80"/>
<text x="269.60" y="24.19" font-size="5.80" stroke="#1e1e1e" stroke-width="0.06" textLength="37.10" lengthAdjust="spacingAndGlyphs">4RA 10 + TNF&#945;</text>
<line x1="197.50" y1="35.20" x2="197.50" y2="100.70" stroke="#1a1a1a" stroke-width="1.1"/>
<line x1="194.80" y1="100.70" x2="197.50" y2="100.70" stroke="#333" stroke-width="0.9"/>
<text x="191.70" y="103.18" font-size="6.90" text-anchor="end" stroke="#1e1e1e" stroke-width="0.12">0.0</text>
<line x1="194.80" y1="88.10" x2="197.50" y2="88.10" stroke="#333" stroke-width="0.9"/>
<text x="191.70" y="90.58" font-size="6.90" text-anchor="end" stroke="#1e1e1e" stroke-width="0.12">0.5</text>
<line x1="194.80" y1="75.50" x2="197.50" y2="75.50" stroke="#333" stroke-width="0.9"/>
<text x="191.70" y="77.98" font-size="6.90" text-anchor="end" stroke="#1e1e1e" stroke-width="0.12">1.0</text>
<line x1="194.80" y1="62.90" x2="197.50" y2="62.90" stroke="#333" stroke-width="0.9"/>
<text x="191.70" y="65.38" font-size="6.90" text-anchor="end" stroke="#1e1e1e" stroke-width="0.12">1.5</text>
<line x1="194.80" y1="50.30" x2="197.50" y2="50.30" stroke="#333" stroke-width="0.9"/>
<text x="191.70" y="52.78" font-size="6.90" text-anchor="end" stroke="#1e1e1e" stroke-width="0.12">2.0</text>
<line x1="194.80" y1="37.70" x2="197.50" y2="37.70" stroke="#333" stroke-width="0.9"/>
<text x="191.70" y="40.18" font-size="6.90" text-anchor="end" stroke="#1e1e1e" stroke-width="0.12">2.5</text>
<line x1="197.50" y1="100.70" x2="292.30" y2="100.70" stroke="#1a1a1a" stroke-width="1.3"/>
<line x1="197.50" y1="100.70" x2="197.50" y2="103.50" stroke="#333" stroke-width="0.9"/>
<text x="197.50" y="111.98" font-size="6.90" text-anchor="middle" stroke="#1e1e1e" stroke-width="0.12">0</text>
<line x1="218.76" y1="100.70" x2="218.76" y2="103.50" stroke="#333" stroke-width="0.9"/>
<text x="218.76" y="111.98" font-size="6.90" text-anchor="middle" stroke="#1e1e1e" stroke-width="0.12">20</text>
<line x1="240.02" y1="100.70" x2="240.02" y2="103.50" stroke="#333" stroke-width="0.9"/>
<text x="240.02" y="111.98" font-size="6.90" text-anchor="middle" stroke="#1e1e1e" stroke-width="0.12">40</text>
<line x1="261.28" y1="100.70" x2="261.28" y2="103.50" stroke="#333" stroke-width="0.9"/>
<text x="261.28" y="111.98" font-size="6.90" text-anchor="middle" stroke="#1e1e1e" stroke-width="0.12">60</text>
<line x1="282.54" y1="100.70" x2="282.54" y2="103.50" stroke="#333" stroke-width="0.9"/>
<text x="282.54" y="111.98" font-size="6.90" text-anchor="middle" stroke="#1e1e1e" stroke-width="0.12">80</text>
<text x="245.40" y="123.90" font-size="8.60" text-anchor="middle" stroke="#1e1e1e" stroke-width="0.12" textLength="31.70" lengthAdjust="spacingAndGlyphs">Time [min]</text>
<text x="175.40" y="71.74" font-size="9.00" text-anchor="middle" stroke="#1e1e1e" stroke-width="0.12" textLength="67.60" lengthAdjust="spacingAndGlyphs" transform="rotate(-90 175.40 68.50)">nmoles O<tspan font-size="5.58" dy="2.52">2</tspan><tspan font-size="5.58" dy="-4.95">-</tspan><tspan dy="2.43">/1*10</tspan><tspan font-size="5.58" dy="-3.15">6</tspan><tspan dy="3.15"> cells</tspan></text>
<g stroke="#6cb84a" fill="#6cb84a" opacity="1.0">
<polyline points="197.50,94.40 201.75,96.92 206.00,97.68 210.26,88.10 214.51,72.98 218.76,62.90 223.01,56.60 227.26,53.83 231.52,52.82 235.77,52.32 240.02,52.32 244.27,52.82 248.52,53.32 252.78,54.08 257.03,54.84 261.28,55.34 265.53,55.84 269.78,56.60 274.04,57.36 278.29,57.86 282.54,58.36 286.79,59.12 291.04,59.88" fill="none" stroke-width="0.9"/>
<path d="M197.50 89.80V99.00M196.00 89.80h3.00M196.00 99.00h3.00" fill="none" stroke-width="0.8"/>
<path d="M197.50 92.84L198.93 95.44L196.07 95.44Z" stroke="none"/>
<path d="M201.75 92.32V101.52M200.25 92.32h3.00M200.25 101.52h3.00" fill="none" stroke-width="0.8"/>
<path d="M201.75 95.36L203.18 97.96L200.32 97.96Z" stroke="none"/>
<path d="M206.00 93.08V102.28M204.50 93.08h3.00M204.50 102.28h3.00" fill="none" stroke-width="0.8"/>
<path d="M206.00 96.12L207.43 98.72L204.57 98.72Z" stroke="none"/>
<path d="M210.26 83.50V92.70M208.76 83.50h3.00M208.76 92.70h3.00" fill="none" stroke-width="0.8"/>
<path d="M210.26 86.54L211.69 89.14L208.83 89.14Z" stroke="none"/>
<path d="M214.51 68.38V77.58M213.01 68.38h3.00M213.01 77.58h3.00" fill="none" stroke-width="0.8"/>
<path d="M214.51 71.42L215.94 74.02L213.08 74.02Z" stroke="none"/>
<path d="M218.76 58.30V67.50M217.26 58.30h3.00M217.26 67.50h3.00" fill="none" stroke-width="0.8"/>
<path d="M218.76 61.34L220.19 63.94L217.33 63.94Z" stroke="none"/>
<path d="M223.01 52.00V61.20M221.51 52.00h3.00M221.51 61.20h3.00" fill="none" stroke-width="0.8"/>
<path d="M223.01 55.04L224.44 57.64L221.58 57.64Z" stroke="none"/>
<path d="M227.26 49.23V58.43M225.76 49.23h3.00M225.76 58.43h3.00" fill="none" stroke-width="0.8"/>
<path d="M227.26 52.27L228.69 54.87L225.83 54.87Z" stroke="none"/>
<path d="M231.52 48.22V57.42M230.02 48.22h3.00M230.02 57.42h3.00" fill="none" stroke-width="0.8"/>
<path d="M231.52 51.26L232.95 53.86L230.09 53.86Z" stroke="none"/>
<path d="M235.77 47.72V56.92M234.27 47.72h3.00M234.27 56.92h3.00" fill="none" stroke-width="0.8"/>
<path d="M235.77 50.76L237.20 53.36L234.34 53.36Z" stroke="none"/>
<path d="M240.02 47.72V56.92M238.52 47.72h3.00M238.52 56.92h3.00" fill="none" stroke-width="0.8"/>
<path d="M240.02 50.76L241.45 53.36L238.59 53.36Z" stroke="none"/>
<path d="M244.27 48.22V57.42M242.77 48.22h3.00M242.77 57.42h3.00" fill="none" stroke-width="0.8"/>
<path d="M244.27 51.26L245.70 53.86L242.84 53.86Z" stroke="none"/>
<path d="M248.52 48.72V57.92M247.02 48.72h3.00M247.02 57.92h3.00" fill="none" stroke-width="0.8"/>
<path d="M248.52 51.76L249.95 54.36L247.09 54.36Z" stroke="none"/>
<path d="M252.78 49.48V58.68M251.28 49.48h3.00M251.28 58.68h3.00" fill="none" stroke-width="0.8"/>
<path d="M252.78 52.52L254.21 55.12L251.35 55.12Z" stroke="none"/>
<path d="M257.03 50.24V59.44M255.53 50.24h3.00M255.53 59.44h3.00" fill="none" stroke-width="0.8"/>
<path d="M257.03 53.28L258.46 55.88L255.60 55.88Z" stroke="none"/>
<path d="M261.28 50.74V59.94M259.78 50.74h3.00M259.78 59.94h3.00" fill="none" stroke-width="0.8"/>
<path d="M261.28 53.78L262.71 56.38L259.85 56.38Z" stroke="none"/>
<path d="M265.53 51.24V60.44M264.03 51.24h3.00M264.03 60.44h3.00" fill="none" stroke-width="0.8"/>
<path d="M265.53 54.28L266.96 56.88L264.10 56.88Z" stroke="none"/>
<path d="M269.78 52.00V61.20M268.28 52.00h3.00M268.28 61.20h3.00" fill="none" stroke-width="0.8"/>
<path d="M269.78 55.04L271.21 57.64L268.35 57.64Z" stroke="none"/>
<path d="M274.04 52.76V61.96M272.54 52.76h3.00M272.54 61.96h3.00" fill="none" stroke-width="0.8"/>
<path d="M274.04 55.80L275.47 58.40L272.61 58.40Z" stroke="none"/>
<path d="M278.29 53.26V62.46M276.79 53.26h3.00M276.79 62.46h3.00" fill="none" stroke-width="0.8"/>
<path d="M278.29 56.30L279.72 58.90L276.86 58.90Z" stroke="none"/>
<path d="M282.54 53.76V62.96M281.04 53.76h3.00M281.04 62.96h3.00" fill="none" stroke-width="0.8"/>
<path d="M282.54 56.80L283.97 59.40L281.11 59.40Z" stroke="none"/>
<path d="M286.79 54.52V63.72M285.29 54.52h3.00M285.29 63.72h3.00" fill="none" stroke-width="0.8"/>
<path d="M286.79 57.56L288.22 60.16L285.36 60.16Z" stroke="none"/>
<path d="M291.04 55.28V64.48M289.54 55.28h3.00M289.54 64.48h3.00" fill="none" stroke-width="0.8"/>
<path d="M291.04 58.32L292.47 60.92L289.61 60.92Z" stroke="none"/>
</g>
<g stroke="#a4002b" fill="#a4002b" opacity="1.0">
<polyline points="197.50,98.18 201.75,99.44 206.00,99.44 210.26,91.88 214.51,79.28 218.76,67.94 223.01,60.88 227.26,57.36 231.52,55.84 235.77,55.34 240.02,55.34 244.27,56.10 248.52,57.10 252.78,57.86 257.03,58.36 261.28,59.12 265.53,60.38 269.78,61.64 274.04,62.90 278.29,64.16 282.54,64.92 286.79,65.92 291.04,67.18" fill="none" stroke-width="0.9"/>
<path d="M197.50 93.58V102.78M196.00 93.58h3.00M196.00 102.78h3.00" fill="none" stroke-width="0.8"/>
<path d="M197.50 96.62L198.93 99.22L196.07 99.22Z" stroke="none"/>
<path d="M201.75 94.84V104.04M200.25 94.84h3.00M200.25 104.04h3.00" fill="none" stroke-width="0.8"/>
<path d="M201.75 97.88L203.18 100.48L200.32 100.48Z" stroke="none"/>
<path d="M206.00 94.84V104.04M204.50 94.84h3.00M204.50 104.04h3.00" fill="none" stroke-width="0.8"/>
<path d="M206.00 97.88L207.43 100.48L204.57 100.48Z" stroke="none"/>
<path d="M210.26 87.28V96.48M208.76 87.28h3.00M208.76 96.48h3.00" fill="none" stroke-width="0.8"/>
<path d="M210.26 90.32L211.69 92.92L208.83 92.92Z" stroke="none"/>
<path d="M214.51 74.68V83.88M213.01 74.68h3.00M213.01 83.88h3.00" fill="none" stroke-width="0.8"/>
<path d="M214.51 77.72L215.94 80.32L213.08 80.32Z" stroke="none"/>
<path d="M218.76 63.34V72.54M217.26 63.34h3.00M217.26 72.54h3.00" fill="none" stroke-width="0.8"/>
<path d="M218.76 66.38L220.19 68.98L217.33 68.98Z" stroke="none"/>
<path d="M223.01 56.28V65.48M221.51 56.28h3.00M221.51 65.48h3.00" fill="none" stroke-width="0.8"/>
<path d="M223.01 59.32L224.44 61.92L221.58 61.92Z" stroke="none"/>
<path d="M227.26 52.76V61.96M225.76 52.76h3.00M225.76 61.96h3.00" fill="none" stroke-width="0.8"/>
<path d="M227.26 55.80L228.69 58.40L225.83 58.40Z" stroke="none"/>
<path d="M231.52 51.24V60.44M230.02 51.24h3.00M230.02 60.44h3.00" fill="none" stroke-width="0.8"/>
<path d="M231.52 54.28L232.95 56.88L230.09 56.88Z" stroke="none"/>
<path d="M235.77 50.74V59.94M234.27 50.74h3.00M234.27 59.94h3.00" fill="none" stroke-width="0.8"/>
<path d="M235.77 53.78L237.20 56.38L234.34 56.38Z" stroke="none"/>
<path d="M240.02 50.74V59.94M238.52 50.74h3.00M238.52 59.94h3.00" fill="none" stroke-width="0.8"/>
<path d="M240.02 53.78L241.45 56.38L238.59 56.38Z" stroke="none"/>
<path d="M244.27 51.50V60.70M242.77 51.50h3.00M242.77 60.70h3.00" fill="none" stroke-width="0.8"/>
<path d="M244.27 54.54L245.70 57.14L242.84 57.14Z" stroke="none"/>
<path d="M248.52 52.50V61.70M247.02 52.50h3.00M247.02 61.70h3.00" fill="none" stroke-width="0.8"/>
<path d="M248.52 55.54L249.95 58.14L247.09 58.14Z" stroke="none"/>
<path d="M252.78 53.26V62.46M251.28 53.26h3.00M251.28 62.46h3.00" fill="none" stroke-width="0.8"/>
<path d="M252.78 56.30L254.21 58.90L251.35 58.90Z" stroke="none"/>
<path d="M257.03 53.76V62.96M255.53 53.76h3.00M255.53 62.96h3.00" fill="none" stroke-width="0.8"/>
<path d="M257.03 56.80L258.46 59.40L255.60 59.40Z" stroke="none"/>
<path d="M261.28 54.52V63.72M259.78 54.52h3.00M259.78 63.72h3.00" fill="none" stroke-width="0.8"/>
<path d="M261.28 57.56L262.71 60.16L259.85 60.16Z" stroke="none"/>
<path d="M265.53 55.78V64.98M264.03 55.78h3.00M264.03 64.98h3.00" fill="none" stroke-width="0.8"/>
<path d="M265.53 58.82L266.96 61.42L264.10 61.42Z" stroke="none"/>
<path d="M269.78 57.04V66.24M268.28 57.04h3.00M268.28 66.24h3.00" fill="none" stroke-width="0.8"/>
<path d="M269.78 60.08L271.21 62.68L268.35 62.68Z" stroke="none"/>
<path d="M274.04 58.30V67.50M272.54 58.30h3.00M272.54 67.50h3.00" fill="none" stroke-width="0.8"/>
<path d="M274.04 61.34L275.47 63.94L272.61 63.94Z" stroke="none"/>
<path d="M278.29 59.56V68.76M276.79 59.56h3.00M276.79 68.76h3.00" fill="none" stroke-width="0.8"/>
<path d="M278.29 62.60L279.72 65.20L276.86 65.20Z" stroke="none"/>
<path d="M282.54 60.32V69.52M281.04 60.32h3.00M281.04 69.52h3.00" fill="none" stroke-width="0.8"/>
<path d="M282.54 63.36L283.97 65.96L281.11 65.96Z" stroke="none"/>
<path d="M286.79 61.32V70.52M285.29 61.32h3.00M285.29 70.52h3.00" fill="none" stroke-width="0.8"/>
<path d="M286.79 64.36L288.22 66.96L285.36 66.96Z" stroke="none"/>
<path d="M291.04 62.58V71.78M289.54 62.58h3.00M289.54 71.78h3.00" fill="none" stroke-width="0.8"/>
<path d="M291.04 65.62L292.47 68.22L289.61 68.22Z" stroke="none"/>
</g>
<g stroke="#2d4b80" fill="#2d4b80" opacity="1.0">
<polyline points="197.50,98.18 201.75,99.44 206.00,99.44 210.26,89.36 214.51,74.24 218.76,62.90 223.01,55.84 227.26,53.32 231.52,52.82 235.77,52.82 240.02,53.32 244.27,54.08 248.52,54.84 252.78,55.84 257.03,56.60 261.28,57.36 265.53,57.86 269.78,58.36 274.04,59.12 278.29,60.38 282.54,60.88 286.79,61.64 291.04,62.90" fill="none" stroke-width="0.9"/>
<path d="M197.50 93.58V102.78M196.00 93.58h3.00M196.00 102.78h3.00" fill="none" stroke-width="0.8"/>
<path d="M197.50 96.62L198.93 99.22L196.07 99.22Z" stroke="none"/>
<path d="M201.75 94.84V104.04M200.25 94.84h3.00M200.25 104.04h3.00" fill="none" stroke-width="0.8"/>
<path d="M201.75 97.88L203.18 100.48L200.32 100.48Z" stroke="none"/>
<path d="M206.00 94.84V104.04M204.50 94.84h3.00M204.50 104.04h3.00" fill="none" stroke-width="0.8"/>
<path d="M206.00 97.88L207.43 100.48L204.57 100.48Z" stroke="none"/>
<path d="M210.26 84.76V93.96M208.76 84.76h3.00M208.76 93.96h3.00" fill="none" stroke-width="0.8"/>
<path d="M210.26 87.80L211.69 90.40L208.83 90.40Z" stroke="none"/>
<path d="M214.51 69.64V78.84M213.01 69.64h3.00M213.01 78.84h3.00" fill="none" stroke-width="0.8"/>
<path d="M214.51 72.68L215.94 75.28L213.08 75.28Z" stroke="none"/>
<path d="M218.76 58.30V67.50M217.26 58.30h3.00M217.26 67.50h3.00" fill="none" stroke-width="0.8"/>
<path d="M218.76 61.34L220.19 63.94L217.33 63.94Z" stroke="none"/>
<path d="M223.01 51.24V60.44M221.51 51.24h3.00M221.51 60.44h3.00" fill="none" stroke-width="0.8"/>
<path d="M223.01 54.28L224.44 56.88L221.58 56.88Z" stroke="none"/>
<path d="M227.26 48.72V57.92M225.76 48.72h3.00M225.76 57.92h3.00" fill="none" stroke-width="0.8"/>
<path d="M227.26 51.76L228.69 54.36L225.83 54.36Z" stroke="none"/>
<path d="M231.52 48.22V57.42M230.02 48.22h3.00M230.02 57.42h3.00" fill="none" stroke-width="0.8"/>
<path d="M231.52 51.26L232.95 53.86L230.09 53.86Z" stroke="none"/>
<path d="M235.77 48.22V57.42M234.27 48.22h3.00M234.27 57.42h3.00" fill="none" stroke-width="0.8"/>
<path d="M235.77 51.26L237.20 53.86L234.34 53.86Z" stroke="none"/>
<path d="M240.02 48.72V57.92M238.52 48.72h3.00M238.52 57.92h3.00" fill="none" stroke-width="0.8"/>
<path d="M240.02 51.76L241.45 54.36L238.59 54.36Z" stroke="none"/>
<path d="M244.27 49.48V58.68M242.77 49.48h3.00M242.77 58.68h3.00" fill="none" stroke-width="0.8"/>
<path d="M244.27 52.52L245.70 55.12L242.84 55.12Z" stroke="none"/>
<path d="M248.52 50.24V59.44M247.02 50.24h3.00M247.02 59.44h3.00" fill="none" stroke-width="0.8"/>
<path d="M248.52 53.28L249.95 55.88L247.09 55.88Z" stroke="none"/>
<path d="M252.78 51.24V60.44M251.28 51.24h3.00M251.28 60.44h3.00" fill="none" stroke-width="0.8"/>
<path d="M252.78 54.28L254.21 56.88L251.35 56.88Z" stroke="none"/>
<path d="M257.03 52.00V61.20M255.53 52.00h3.00M255.53 61.20h3.00" fill="none" stroke-width="0.8"/>
<path d="M257.03 55.04L258.46 57.64L255.60 57.64Z" stroke="none"/>
<path d="M261.28 52.76V61.96M259.78 52.76h3.00M259.78 61.96h3.00" fill="none" stroke-width="0.8"/>
<path d="M261.28 55.80L262.71 58.40L259.85 58.40Z" stroke="none"/>
<path d="M265.53 53.26V62.46M264.03 53.26h3.00M264.03 62.46h3.00" fill="none" stroke-width="0.8"/>
<path d="M265.53 56.30L266.96 58.90L264.10 58.90Z" stroke="none"/>
<path d="M269.78 53.76V62.96M268.28 53.76h3.00M268.28 62.96h3.00" fill="none" stroke-width="0.8"/>
<path d="M269.78 56.80L271.21 59.40L268.35 59.40Z" stroke="none"/>
<path d="M274.04 54.52V63.72M272.54 54.52h3.00M272.54 63.72h3.00" fill="none" stroke-width="0.8"/>
<path d="M274.04 57.56L275.47 60.16L272.61 60.16Z" stroke="none"/>
<path d="M278.29 55.78V64.98M276.79 55.78h3.00M276.79 64.98h3.00" fill="none" stroke-width="0.8"/>
<path d="M278.29 58.82L279.72 61.42L276.86 61.42Z" stroke="none"/>
<path d="M282.54 56.28V65.48M281.04 56.28h3.00M281.04 65.48h3.00" fill="none" stroke-width="0.8"/>
<path d="M282.54 59.32L283.97 61.92L281.11 61.92Z" stroke="none"/>
<path d="M286.79 57.04V66.24M285.29 57.04h3.00M285.29 66.24h3.00" fill="none" stroke-width="0.8"/>
<path d="M286.79 60.08L288.22 62.68L285.36 62.68Z" stroke="none"/>
<path d="M291.04 58.30V67.50M289.54 58.30h3.00M289.54 67.50h3.00" fill="none" stroke-width="0.8"/>
<path d="M291.04 61.34L292.47 63.94L289.61 63.94Z" stroke="none"/>
</g>
<g stroke="#6cb84a" fill="#6cb84a" opacity="1.0">
<polyline points="197.50,94.40 201.75,96.92 206.00,98.18 210.26,95.66 214.51,91.88 218.76,89.36 223.01,86.84 227.26,85.58 231.52,84.32 235.77,83.56 240.02,83.06 244.27,83.06 248.52,83.06 252.78,83.06 257.03,83.06 261.28,83.06 265.53,83.56 269.78,83.56 274.04,84.32 278.29,84.32 282.54,85.08 286.79,85.08 291.04,85.08" fill="none" stroke-width="0.9"/>
<path d="M197.50 90.40V98.40M196.00 90.40h3.00M196.00 98.40h3.00" fill="none" stroke-width="0.8"/>
<circle cx="197.50" cy="94.40" r="1.3" stroke="none"/>
<path d="M201.75 92.92V100.92M200.25 92.92h3.00M200.25 100.92h3.00" fill="none" stroke-width="0.8"/>
<circle cx="201.75" cy="96.92" r="1.3" stroke="none"/>
<path d="M206.00 94.18V102.18M204.50 94.18h3.00M204.50 102.18h3.00" fill="none" stroke-width="0.8"/>
<circle cx="206.00" cy="98.18" r="1.3" stroke="none"/>
<path d="M210.26 91.66V99.66M208.76 91.66h3.00M208.76 99.66h3.00" fill="none" stroke-width="0.8"/>
<circle cx="210.26" cy="95.66" r="1.3" stroke="none"/>
<path d="M214.51 87.88V95.88M213.01 87.88h3.00M213.01 95.88h3.00" fill="none" stroke-width="0.8"/>
<circle cx="214.51" cy="91.88" r="1.3" stroke="none"/>
<path d="M218.76 85.36V93.36M217.26 85.36h3.00M217.26 93.36h3.00" fill="none" stroke-width="0.8"/>
<circle cx="218.76" cy="89.36" r="1.3" stroke="none"/>
<path d="M223.01 82.84V90.84M221.51 82.84h3.00M221.51 90.84h3.00" fill="none" stroke-width="0.8"/>
<circle cx="223.01" cy="86.84" r="1.3" stroke="none"/>
<path d="M227.26 81.58V89.58M225.76 81.58h3.00M225.76 89.58h3.00" fill="none" stroke-width="0.8"/>
<circle cx="227.26" cy="85.58" r="1.3" stroke="none"/>
<path d="M231.52 80.32V88.32M230.02 80.32h3.00M230.02 88.32h3.00" fill="none" stroke-width="0.8"/>
<circle cx="231.52" cy="84.32" r="1.3" stroke="none"/>
<path d="M235.77 79.56V87.56M234.27 79.56h3.00M234.27 87.56h3.00" fill="none" stroke-width="0.8"/>
<circle cx="235.77" cy="83.56" r="1.3" stroke="none"/>
<path d="M240.02 79.06V87.06M238.52 79.06h3.00M238.52 87.06h3.00" fill="none" stroke-width="0.8"/>
<circle cx="240.02" cy="83.06" r="1.3" stroke="none"/>
<path d="M244.27 79.06V87.06M242.77 79.06h3.00M242.77 87.06h3.00" fill="none" stroke-width="0.8"/>
<circle cx="244.27" cy="83.06" r="1.3" stroke="none"/>
<path d="M248.52 79.06V87.06M247.02 79.06h3.00M247.02 87.06h3.00" fill="none" stroke-width="0.8"/>
<circle cx="248.52" cy="83.06" r="1.3" stroke="none"/>
<path d="M252.78 79.06V87.06M251.28 79.06h3.00M251.28 87.06h3.00" fill="none" stroke-width="0.8"/>
<circle cx="252.78" cy="83.06" r="1.3" stroke="none"/>
<path d="M257.03 79.06V87.06M255.53 79.06h3.00M255.53 87.06h3.00" fill="none" stroke-width="0.8"/>
<circle cx="257.03" cy="83.06" r="1.3" stroke="none"/>
<path d="M261.28 79.06V87.06M259.78 79.06h3.00M259.78 87.06h3.00" fill="none" stroke-width="0.8"/>
<circle cx="261.28" cy="83.06" r="1.3" stroke="none"/>
<path d="M265.53 79.56V87.56M264.03 79.56h3.00M264.03 87.56h3.00" fill="none" stroke-width="0.8"/>
<circle cx="265.53" cy="83.56" r="1.3" stroke="none"/>
<path d="M269.78 79.56V87.56M268.28 79.56h3.00M268.28 87.56h3.00" fill="none" stroke-width="0.8"/>
<circle cx="269.78" cy="83.56" r="1.3" stroke="none"/>
<path d="M274.04 80.32V88.32M272.54 80.32h3.00M272.54 88.32h3.00" fill="none" stroke-width="0.8"/>
<circle cx="274.04" cy="84.32" r="1.3" stroke="none"/>
<path d="M278.29 80.32V88.32M276.79 80.32h3.00M276.79 88.32h3.00" fill="none" stroke-width="0.8"/>
<circle cx="278.29" cy="84.32" r="1.3" stroke="none"/>
<path d="M282.54 81.08V89.08M281.04 81.08h3.00M281.04 89.08h3.00" fill="none" stroke-width="0.8"/>
<circle cx="282.54" cy="85.08" r="1.3" stroke="none"/>
<path d="M286.79 81.08V89.08M285.29 81.08h3.00M285.29 89.08h3.00" fill="none" stroke-width="0.8"/>
<circle cx="286.79" cy="85.08" r="1.3" stroke="none"/>
<path d="M291.04 81.08V89.08M289.54 81.08h3.00M289.54 89.08h3.00" fill="none" stroke-width="0.8"/>
<circle cx="291.04" cy="85.08" r="1.3" stroke="none"/>
</g>
<g stroke="#a4002b" fill="#a4002b" opacity="1.0">
<polyline points="197.50,98.18 201.75,99.44 206.00,99.44 210.26,95.16 214.51,89.36 218.76,87.60 223.01,86.08 227.26,85.08 231.52,84.32 235.77,83.56 240.02,83.06 244.27,83.06 248.52,83.56 252.78,83.56 257.03,83.56 261.28,83.06 265.53,83.56 269.78,84.32 274.04,85.58 278.29,86.08 282.54,86.84 286.79,86.84 291.04,86.84" fill="none" stroke-width="0.9"/>
<path d="M197.50 94.18V102.18M196.00 94.18h3.00M196.00 102.18h3.00" fill="none" stroke-width="0.8"/>
<circle cx="197.50" cy="98.18" r="1.3" stroke="none"/>
<path d="M201.75 95.44V103.44M200.25 95.44h3.00M200.25 103.44h3.00" fill="none" stroke-width="0.8"/>
<circle cx="201.75" cy="99.44" r="1.3" stroke="none"/>
<path d="M206.00 95.44V103.44M204.50 95.44h3.00M204.50 103.44h3.00" fill="none" stroke-width="0.8"/>
<circle cx="206.00" cy="99.44" r="1.3" stroke="none"/>
<path d="M210.26 91.16V99.16M208.76 91.16h3.00M208.76 99.16h3.00" fill="none" stroke-width="0.8"/>
<circle cx="210.26" cy="95.16" r="1.3" stroke="none"/>
<path d="M214.51 85.36V93.36M213.01 85.36h3.00M213.01 93.36h3.00" fill="none" stroke-width="0.8"/>
<circle cx="214.51" cy="89.36" r="1.3" stroke="none"/>
<path d="M218.76 83.60V91.60M217.26 83.60h3.00M217.26 91.60h3.00" fill="none" stroke-width="0.8"/>
<circle cx="218.76" cy="87.60" r="1.3" stroke="none"/>
<path d="M223.01 82.08V90.08M221.51 82.08h3.00M221.51 90.08h3.00" fill="none" stroke-width="0.8"/>
<circle cx="223.01" cy="86.08" r="1.3" stroke="none"/>
<path d="M227.26 81.08V89.08M225.76 81.08h3.00M225.76 89.08h3.00" fill="none" stroke-width="0.8"/>
<circle cx="227.26" cy="85.08" r="1.3" stroke="none"/>
<path d="M231.52 80.32V88.32M230.02 80.32h3.00M230.02 88.32h3.00" fill="none" stroke-width="0.8"/>
<circle cx="231.52" cy="84.32" r="1.3" stroke="none"/>
<path d="M235.77 79.56V87.56M234.27 79.56h3.00M234.27 87.56h3.00" fill="none" stroke-width="0.8"/>
<circle cx="235.77" cy="83.56" r="1.3" stroke="none"/>
<path d="M240.02 79.06V87.06M238.52 79.06h3.00M238.52 87.06h3.00" fill="none" stroke-width="0.8"/>
<circle cx="240.02" cy="83.06" r="1.3" stroke="none"/>
<path d="M244.27 79.06V87.06M242.77 79.06h3.00M242.77 87.06h3.00" fill="none" stroke-width="0.8"/>
<circle cx="244.27" cy="83.06" r="1.3" stroke="none"/>
<path d="M248.52 79.56V87.56M247.02 79.56h3.00M247.02 87.56h3.00" fill="none" stroke-width="0.8"/>
<circle cx="248.52" cy="83.56" r="1.3" stroke="none"/>
<path d="M252.78 79.56V87.56M251.28 79.56h3.00M251.28 87.56h3.00" fill="none" stroke-width="0.8"/>
<circle cx="252.78" cy="83.56" r="1.3" stroke="none"/>
<path d="M257.03 79.56V87.56M255.53 79.56h3.00M255.53 87.56h3.00" fill="none" stroke-width="0.8"/>
<circle cx="257.03" cy="83.56" r="1.3" stroke="none"/>
<path d="M261.28 79.06V87.06M259.78 79.06h3.00M259.78 87.06h3.00" fill="none" stroke-width="0.8"/>
<circle cx="261.28" cy="83.06" r="1.3" stroke="none"/>
<path d="M265.53 79.56V87.56M264.03 79.56h3.00M264.03 87.56h3.00" fill="none" stroke-width="0.8"/>
<circle cx="265.53" cy="83.56" r="1.3" stroke="none"/>
<path d="M269.78 80.32V88.32M268.28 80.32h3.00M268.28 88.32h3.00" fill="none" stroke-width="0.8"/>
<circle cx="269.78" cy="84.32" r="1.3" stroke="none"/>
<path d="M274.04 81.58V89.58M272.54 81.58h3.00M272.54 89.58h3.00" fill="none" stroke-width="0.8"/>
<circle cx="274.04" cy="85.58" r="1.3" stroke="none"/>
<path d="M278.29 82.08V90.08M276.79 82.08h3.00M276.79 90.08h3.00" fill="none" stroke-width="0.8"/>
<circle cx="278.29" cy="86.08" r="1.3" stroke="none"/>
<path d="M282.54 82.84V90.84M281.04 82.84h3.00M281.04 90.84h3.00" fill="none" stroke-width="0.8"/>
<circle cx="282.54" cy="86.84" r="1.3" stroke="none"/>
<path d="M286.79 82.84V90.84M285.29 82.84h3.00M285.29 90.84h3.00" fill="none" stroke-width="0.8"/>
<circle cx="286.79" cy="86.84" r="1.3" stroke="none"/>
<path d="M291.04 82.84V90.84M289.54 82.84h3.00M289.54 90.84h3.00" fill="none" stroke-width="0.8"/>
<circle cx="291.04" cy="86.84" r="1.3" stroke="none"/>
</g>
<g stroke="#2d4b80" fill="#2d4b80" opacity="1.0">
<polyline points="197.50,98.18 201.75,99.44 206.00,99.44 210.26,96.92 214.51,93.14 218.76,91.12 223.01,89.36 227.26,88.10 231.52,88.10 235.77,87.60 240.02,87.60 244.27,87.60 248.52,87.60 252.78,86.84 257.03,86.08 261.28,85.58 265.53,85.58 269.78,86.08 274.04,86.84 278.29,86.84 282.54,86.84 286.79,86.84 291.04,86.84" fill="none" stroke-width="0.9"/>
<path d="M197.50 94.18V102.18M196.00 94.18h3.00M196.00 102.18h3.00" fill="none" stroke-width="0.8"/>
<circle cx="197.50" cy="98.18" r="1.3" stroke="none"/>
<path d="M201.75 95.44V103.44M200.25 95.44h3.00M200.25 103.44h3.00" fill="none" stroke-width="0.8"/>
<circle cx="201.75" cy="99.44" r="1.3" stroke="none"/>
<path d="M206.00 95.44V103.44M204.50 95.44h3.00M204.50 103.44h3.00" fill="none" stroke-width="0.8"/>
<circle cx="206.00" cy="99.44" r="1.3" stroke="none"/>
<path d="M210.26 92.92V100.92M208.76 92.92h3.00M208.76 100.92h3.00" fill="none" stroke-width="0.8"/>
<circle cx="210.26" cy="96.92" r="1.3" stroke="none"/>
<path d="M214.51 89.14V97.14M213.01 89.14h3.00M213.01 97.14h3.00" fill="none" stroke-width="0.8"/>
<circle cx="214.51" cy="93.14" r="1.3" stroke="none"/>
<path d="M218.76 87.12V95.12M217.26 87.12h3.00M217.26 95.12h3.00" fill="none" stroke-width="0.8"/>
<circle cx="218.76" cy="91.12" r="1.3" stroke="none"/>
<path d="M223.01 85.36V93.36M221.51 85.36h3.00M221.51 93.36h3.00" fill="none" stroke-width="0.8"/>
<circle cx="223.01" cy="89.36" r="1.3" stroke="none"/>
<path d="M227.26 84.10V92.10M225.76 84.10h3.00M225.76 92.10h3.00" fill="none" stroke-width="0.8"/>
<circle cx="227.26" cy="88.10" r="1.3" stroke="none"/>
<path d="M231.52 84.10V92.10M230.02 84.10h3.00M230.02 92.10h3.00" fill="none" stroke-width="0.8"/>
<circle cx="231.52" cy="88.10" r="1.3" stroke="none"/>
<path d="M235.77 83.60V91.60M234.27 83.60h3.00M234.27 91.60h3.00" fill="none" stroke-width="0.8"/>
<circle cx="235.77" cy="87.60" r="1.3" stroke="none"/>
<path d="M240.02 83.60V91.60M238.52 83.60h3.00M238.52 91.60h3.00" fill="none" stroke-width="0.8"/>
<circle cx="240.02" cy="87.60" r="1.3" stroke="none"/>
<path d="M244.27 83.60V91.60M242.77 83.60h3.00M242.77 91.60h3.00" fill="none" stroke-width="0.8"/>
<circle cx="244.27" cy="87.60" r="1.3" stroke="none"/>
<path d="M248.52 83.60V91.60M247.02 83.60h3.00M247.02 91.60h3.00" fill="none" stroke-width="0.8"/>
<circle cx="248.52" cy="87.60" r="1.3" stroke="none"/>
<path d="M252.78 82.84V90.84M251.28 82.84h3.00M251.28 90.84h3.00" fill="none" stroke-width="0.8"/>
<circle cx="252.78" cy="86.84" r="1.3" stroke="none"/>
<path d="M257.03 82.08V90.08M255.53 82.08h3.00M255.53 90.08h3.00" fill="none" stroke-width="0.8"/>
<circle cx="257.03" cy="86.08" r="1.3" stroke="none"/>
<path d="M261.28 81.58V89.58M259.78 81.58h3.00M259.78 89.58h3.00" fill="none" stroke-width="0.8"/>
<circle cx="261.28" cy="85.58" r="1.3" stroke="none"/>
<path d="M265.53 81.58V89.58M264.03 81.58h3.00M264.03 89.58h3.00" fill="none" stroke-width="0.8"/>
<circle cx="265.53" cy="85.58" r="1.3" stroke="none"/>
<path d="M269.78 82.08V90.08M268.28 82.08h3.00M268.28 90.08h3.00" fill="none" stroke-width="0.8"/>
<circle cx="269.78" cy="86.08" r="1.3" stroke="none"/>
<path d="M274.04 82.84V90.84M272.54 82.84h3.00M272.54 90.84h3.00" fill="none" stroke-width="0.8"/>
<circle cx="274.04" cy="86.84" r="1.3" stroke="none"/>
<path d="M278.29 82.84V90.84M276.79 82.84h3.00M276.79 90.84h3.00" fill="none" stroke-width="0.8"/>
<circle cx="278.29" cy="86.84" r="1.3" stroke="none"/>
<path d="M282.54 82.84V90.84M281.04 82.84h3.00M281.04 90.84h3.00" fill="none" stroke-width="0.8"/>
<circle cx="282.54" cy="86.84" r="1.3" stroke="none"/>
<path d="M286.79 82.84V90.84M285.29 82.84h3.00M285.29 90.84h3.00" fill="none" stroke-width="0.8"/>
<circle cx="286.79" cy="86.84" r="1.3" stroke="none"/>
<path d="M291.04 82.84V90.84M289.54 82.84h3.00M289.54 90.84h3.00" fill="none" stroke-width="0.8"/>
<circle cx="291.04" cy="86.84" r="1.3" stroke="none"/>
</g>
<text transform="translate(331.55 16.30) scale(0.949 1)" font-size="11.6" font-weight="bold" fill="#000" stroke="#000" stroke-width="0.12">C</text>
<line x1="361.70" y1="9.40" x2="369.20" y2="9.40" stroke="#a4002b" stroke-width="0.9"/>
<line x1="362.00" y1="8.50" x2="362.00" y2="10.30" stroke="#a4002b" stroke-width="0.6"/>
<line x1="368.90" y1="8.50" x2="368.90" y2="10.30" stroke="#a4002b" stroke-width="0.6"/>
<circle cx="365.45" cy="9.40" r="1.5" fill="#a4002b"/>
<text x="371.80" y="11.45" font-size="5.70" stroke="#1e1e1e" stroke-width="0.03" textLength="62.50" lengthAdjust="spacingAndGlyphs">WT scrambled Tat petides</text>
<line x1="361.70" y1="15.60" x2="369.20" y2="15.60" stroke="#a4002b" stroke-width="0.9"/>
<line x1="362.00" y1="14.70" x2="362.00" y2="16.50" stroke="#a4002b" stroke-width="0.6"/>
<line x1="368.90" y1="14.70" x2="368.90" y2="16.50" stroke="#a4002b" stroke-width="0.6"/>
<rect x="364.15" y="14.30" width="2.6" height="2.6" fill="#a4002b"/>
<text x="371.80" y="17.65" font-size="5.70" stroke="#1e1e1e" stroke-width="0.03" textLength="50.40" lengthAdjust="spacingAndGlyphs">WT Lsel Tat peptides</text>
<line x1="361.70" y1="21.80" x2="369.20" y2="21.80" stroke="#2d4b80" stroke-width="0.9"/>
<line x1="362.00" y1="20.90" x2="362.00" y2="22.70" stroke="#2d4b80" stroke-width="0.6"/>
<line x1="368.90" y1="20.90" x2="368.90" y2="22.70" stroke="#2d4b80" stroke-width="0.6"/>
<path d="M365.45 20.10l1.6 2.7h-3.2z" fill="#2d4b80"/>
<text x="371.80" y="23.85" font-size="5.70" stroke="#1e1e1e" stroke-width="0.03" textLength="71.80" lengthAdjust="spacingAndGlyphs">Sell-/- scrambled Tat peptides</text>
<line x1="361.70" y1="27.80" x2="369.20" y2="27.80" stroke="#2d4b80" stroke-width="0.9"/>
<line x1="362.00" y1="26.90" x2="362.00" y2="28.70" stroke="#2d4b80" stroke-width="0.6"/>
<line x1="368.90" y1="26.90" x2="368.90" y2="28.70" stroke="#2d4b80" stroke-width="0.6"/>
<path d="M365.45 26.10l1.6 2.7h-3.2z" fill="#2d4b80"/>
<text x="371.80" y="29.85" font-size="5.70" stroke="#1e1e1e" stroke-width="0.03" textLength="56.20" lengthAdjust="spacingAndGlyphs">Sell-/- Lsel Tat peptides</text>
<line x1="361.70" y1="37.00" x2="361.70" y2="100.90" stroke="#2a2a2a" stroke-width="1.4"/>
<line x1="359.00" y1="100.90" x2="361.70" y2="100.90" stroke="#333" stroke-width="0.9"/>
<text x="356.50" y="103.38" font-size="6.90" text-anchor="end" stroke="#1e1e1e" stroke-width="0.12">0.0</text>
<line x1="359.00" y1="88.70" x2="361.70" y2="88.70" stroke="#333" stroke-width="0.9"/>
<text x="356.50" y="91.18" font-size="6.90" text-anchor="end" stroke="#1e1e1e" stroke-width="0.12">0.5</text>
<line x1="359.00" y1="76.50" x2="361.70" y2="76.50" stroke="#333" stroke-width="0.9"/>
<text x="356.50" y="78.98" font-size="6.90" text-anchor="end" stroke="#1e1e1e" stroke-width="0.12">1.0</text>
<line x1="359.00" y1="64.30" x2="361.70" y2="64.30" stroke="#333" stroke-width="0.9"/>
<text x="356.50" y="66.78" font-size="6.90" text-anchor="end" stroke="#1e1e1e" stroke-width="0.12">1.5</text>
<line x1="359.00" y1="52.10" x2="361.70" y2="52.10" stroke="#333" stroke-width="0.9"/>
<text x="356.50" y="54.58" font-size="6.90" text-anchor="end" stroke="#1e1e1e" stroke-width="0.12">2.0</text>
<line x1="359.00" y1="39.90" x2="361.70" y2="39.90" stroke="#333" stroke-width="0.9"/>
<text x="356.50" y="42.38" font-size="6.90" text-anchor="end" stroke="#1e1e1e" stroke-width="0.12">2.5</text>
<line x1="361.70" y1="100.90" x2="463.90" y2="100.90" stroke="#2a2a2a" stroke-width="1.5"/>
<line x1="361.70" y1="100.90" x2="361.70" y2="103.70" stroke="#333" stroke-width="0.9"/>
<text x="361.70" y="112.68" font-size="6.90" text-anchor="middle" stroke="#1e1e1e" stroke-width="0.12">0</text>
<line x1="381.70" y1="100.90" x2="381.70" y2="103.70" stroke="#333" stroke-width="0.9"/>
<text x="381.70" y="112.68" font-size="6.90" text-anchor="middle" stroke="#1e1e1e" stroke-width="0.12">20</text>
<line x1="401.70" y1="100.90" x2="401.70" y2="103.70" stroke="#333" stroke-width="0.9"/>
<text x="401.70" y="112.68" font-size="6.90" text-anchor="middle" stroke="#1e1e1e" stroke-width="0.12">40</text>
<line x1="421.70" y1="100.90" x2="421.70" y2="103.70" stroke="#333" stroke-width="0.9"/>
<text x="421.70" y="112.68" font-size="6.90" text-anchor="middle" stroke="#1e1e1e" stroke-width="0.12">60</text>
<line x1="441.70" y1="100.90" x2="441.70" y2="103.70" stroke="#333" stroke-width="0.9"/>
<text x="441.70" y="112.68" font-size="6.90" text-anchor="middle" stroke="#1e1e1e" stroke-width="0.12">80</text>
<line x1="461.70" y1="100.90" x2="461.70" y2="103.70" stroke="#333" stroke-width="0.9"/>
<text x="461.70" y="112.68" font-size="6.90" text-anchor="middle" stroke="#1e1e1e" stroke-width="0.12">100</text>
<text x="410.20" y="124.10" font-size="8.60" text-anchor="middle" stroke="#1e1e1e" stroke-width="0.12" textLength="33.00" lengthAdjust="spacingAndGlyphs">Time [min]</text>
<text x="340.20" y="72.04" font-size="9.00" text-anchor="middle" stroke="#1e1e1e" stroke-width="0.12" textLength="68.30" lengthAdjust="spacingAndGlyphs" transform="rotate(-90 340.20 68.80)">nmoles O<tspan font-size="5.58" dy="2.52">2</tspan><tspan font-size="5.58" dy="-4.95">-</tspan><tspan dy="2.43">/1*10</tspan><tspan font-size="5.58" dy="-3.15">6</tspan><tspan dy="3.15"> cells</tspan></text>
<g stroke="#2d4b80" fill="#2d4b80" opacity="1.0">
<polyline points="361.70,100.90 365.70,100.41 369.70,97.97 373.70,95.53 377.70,93.09 381.70,90.90 385.70,89.19 389.70,88.21 393.70,87.72 397.70,87.48 401.70,87.24 405.70,87.24 409.70,87.24 413.70,87.48 417.70,87.72 421.70,88.21 425.70,88.70 429.70,88.70 433.70,89.19 437.70,89.43 441.70,89.68 445.70,89.92 449.70,90.65" fill="none" stroke-width="0.9"/>
<path d="M361.70 99.40L363.07 101.90L360.32 101.90Z" stroke="none"/>
<path d="M365.70 98.91L367.07 101.41L364.32 101.41Z" stroke="none"/>
<path d="M369.70 95.77V100.17M368.20 95.77h3.00M368.20 100.17h3.00" fill="none" stroke-width="0.8"/>
<path d="M369.70 96.47L371.07 98.97L368.32 98.97Z" stroke="none"/>
<path d="M373.70 93.33V97.73M372.20 93.33h3.00M372.20 97.73h3.00" fill="none" stroke-width="0.8"/>
<path d="M373.70 94.03L375.07 96.53L372.32 96.53Z" stroke="none"/>
<path d="M377.70 90.89V95.29M376.20 90.89h3.00M376.20 95.29h3.00" fill="none" stroke-width="0.8"/>
<path d="M377.70 91.59L379.07 94.09L376.32 94.09Z" stroke="none"/>
<path d="M381.70 88.70V93.10M380.20 88.70h3.00M380.20 93.10h3.00" fill="none" stroke-width="0.8"/>
<path d="M381.70 89.40L383.07 91.90L380.32 91.90Z" stroke="none"/>
<path d="M385.70 86.99V91.39M384.20 86.99h3.00M384.20 91.39h3.00" fill="none" stroke-width="0.8"/>
<path d="M385.70 87.69L387.07 90.19L384.32 90.19Z" stroke="none"/>
<path d="M389.70 86.01V90.41M388.20 86.01h3.00M388.20 90.41h3.00" fill="none" stroke-width="0.8"/>
<path d="M389.70 86.71L391.07 89.21L388.32 89.21Z" stroke="none"/>
<path d="M393.70 85.52V89.92M392.20 85.52h3.00M392.20 89.92h3.00" fill="none" stroke-width="0.8"/>
<path d="M393.70 86.22L395.07 88.72L392.32 88.72Z" stroke="none"/>
<path d="M397.70 85.28V89.68M396.20 85.28h3.00M396.20 89.68h3.00" fill="none" stroke-width="0.8"/>
<path d="M397.70 85.98L399.07 88.48L396.32 88.48Z" stroke="none"/>
<path d="M401.70 85.04V89.44M400.20 85.04h3.00M400.20 89.44h3.00" fill="none" stroke-width="0.8"/>
<path d="M401.70 85.74L403.07 88.24L400.32 88.24Z" stroke="none"/>
<path d="M405.70 85.04V89.44M404.20 85.04h3.00M404.20 89.44h3.00" fill="none" stroke-width="0.8"/>
<path d="M405.70 85.74L407.07 88.24L404.32 88.24Z" stroke="none"/>
<path d="M409.70 85.04V89.44M408.20 85.04h3.00M408.20 89.44h3.00" fill="none" stroke-width="0.8"/>
<path d="M409.70 85.74L411.07 88.24L408.32 88.24Z" stroke="none"/>
<path d="M413.70 85.28V89.68M412.20 85.28h3.00M412.20 89.68h3.00" fill="none" stroke-width="0.8"/>
<path d="M413.70 85.98L415.07 88.48L412.32 88.48Z" stroke="none"/>
<path d="M417.70 85.52V89.92M416.20 85.52h3.00M416.20 89.92h3.00" fill="none" stroke-width="0.8"/>
<path d="M417.70 86.22L419.07 88.72L416.32 88.72Z" stroke="none"/>
<path d="M421.70 86.01V90.41M420.20 86.01h3.00M420.20 90.41h3.00" fill="none" stroke-width="0.8"/>
<path d="M421.70 86.71L423.07 89.21L420.32 89.21Z" stroke="none"/>
<path d="M425.70 86.50V90.90M424.20 86.50h3.00M424.20 90.90h3.00" fill="none" stroke-width="0.8"/>
<path d="M425.70 87.20L427.07 89.70L424.32 89.70Z" stroke="none"/>
<path d="M429.70 86.50V90.90M428.20 86.50h3.00M428.20 90.90h3.00" fill="none" stroke-width="0.8"/>
<path d="M429.70 87.20L431.07 89.70L428.32 89.70Z" stroke="none"/>
<path d="M433.70 86.99V91.39M432.20 86.99h3.00M432.20 91.39h3.00" fill="none" stroke-width="0.8"/>
<path d="M433.70 87.69L435.07 90.19L432.32 90.19Z" stroke="none"/>
<path d="M437.70 87.23V91.63M436.20 87.23h3.00M436.20 91.63h3.00" fill="none" stroke-width="0.8"/>
<path d="M437.70 87.93L439.07 90.43L436.32 90.43Z" stroke="none"/>
<path d="M441.70 87.48V91.88M440.20 87.48h3.00M440.20 91.88h3.00" fill="none" stroke-width="0.8"/>
<path d="M441.70 88.18L443.07 90.68L440.32 90.68Z" stroke="none"/>
<path d="M445.70 87.72V92.12M444.20 87.72h3.00M444.20 92.12h3.00" fill="none" stroke-width="0.8"/>
<path d="M445.70 88.42L447.07 90.92L444.32 90.92Z" stroke="none"/>
<path d="M449.70 88.45V92.85M448.20 88.45h3.00M448.20 92.85h3.00" fill="none" stroke-width="0.8"/>
<path d="M449.70 89.15L451.07 91.65L448.32 91.65Z" stroke="none"/>
</g>
<g stroke="#2d4b80" fill="#2d4b80" opacity="1.0">
<polyline points="361.70,100.90 365.70,100.41 369.70,98.46 373.70,96.02 377.70,93.58 381.70,91.38 385.70,89.68 389.70,88.70 393.70,88.21 397.70,87.72 401.70,87.48 405.70,87.48 409.70,87.72 413.70,87.97 417.70,88.21 421.70,88.70 425.70,89.19 429.70,89.19 433.70,89.68 437.70,89.92 441.70,89.92 445.70,90.41 449.70,91.14" fill="none" stroke-width="0.9"/>
<path d="M361.70 99.40L363.07 101.90L360.32 101.90Z" stroke="none"/>
<path d="M365.70 98.91L367.07 101.41L364.32 101.41Z" stroke="none"/>
<path d="M369.70 96.16V100.76M368.20 96.16h3.00M368.20 100.76h3.00" fill="none" stroke-width="0.8"/>
<path d="M369.70 96.96L371.07 99.46L368.32 99.46Z" stroke="none"/>
<path d="M373.70 93.72V98.32M372.20 93.72h3.00M372.20 98.32h3.00" fill="none" stroke-width="0.8"/>
<path d="M373.70 94.52L375.07 97.02L372.32 97.02Z" stroke="none"/>
<path d="M377.70 91.28V95.88M376.20 91.28h3.00M376.20 95.88h3.00" fill="none" stroke-width="0.8"/>
<path d="M377.70 92.08L379.07 94.58L376.32 94.58Z" stroke="none"/>
<path d="M381.70 89.08V93.68M380.20 89.08h3.00M380.20 93.68h3.00" fill="none" stroke-width="0.8"/>
<path d="M381.70 89.88L383.07 92.38L380.32 92.38Z" stroke="none"/>
<path d="M385.70 87.38V91.98M384.20 87.38h3.00M384.20 91.98h3.00" fill="none" stroke-width="0.8"/>
<path d="M385.70 88.18L387.07 90.68L384.32 90.68Z" stroke="none"/>
<path d="M389.70 86.40V91.00M388.20 86.40h3.00M388.20 91.00h3.00" fill="none" stroke-width="0.8"/>
<path d="M389.70 87.20L391.07 89.70L388.32 89.70Z" stroke="none"/>
<path d="M393.70 85.91V90.51M392.20 85.91h3.00M392.20 90.51h3.00" fill="none" stroke-width="0.8"/>
<path d="M393.70 86.71L395.07 89.21L392.32 89.21Z" stroke="none"/>
<path d="M397.70 85.42V90.02M396.20 85.42h3.00M396.20 90.02h3.00" fill="none" stroke-width="0.8"/>
<path d="M397.70 86.22L399.07 88.72L396.32 88.72Z" stroke="none"/>
<path d="M401.70 85.18V89.78M400.20 85.18h3.00M400.20 89.78h3.00" fill="none" stroke-width="0.8"/>
<path d="M401.70 85.98L403.07 88.48L400.32 88.48Z" stroke="none"/>
<path d="M405.70 85.18V89.78M404.20 85.18h3.00M404.20 89.78h3.00" fill="none" stroke-width="0.8"/>
<path d="M405.70 85.98L407.07 88.48L404.32 88.48Z" stroke="none"/>
<path d="M409.70 85.42V90.02M408.20 85.42h3.00M408.20 90.02h3.00" fill="none" stroke-width="0.8"/>
<path d="M409.70 86.22L411.07 88.72L408.32 88.72Z" stroke="none"/>
<path d="M413.70 85.67V90.27M412.20 85.67h3.00M412.20 90.27h3.00" fill="none" stroke-width="0.8"/>
<path d="M413.70 86.47L415.07 88.97L412.32 88.97Z" stroke="none"/>
<path d="M417.70 85.91V90.51M416.20 85.91h3.00M416.20 90.51h3.00" fill="none" stroke-width="0.8"/>
<path d="M417.70 86.71L419.07 89.21L416.32 89.21Z" stroke="none"/>
<path d="M421.70 86.40V91.00M420.20 86.40h3.00M420.20 91.00h3.00" fill="none" stroke-width="0.8"/>
<path d="M421.70 87.20L423.07 89.70L420.32 89.70Z" stroke="none"/>
<path d="M425.70 85.59V92.79M424.20 85.59h3.00M424.20 92.79h3.00" fill="none" stroke-width="0.8"/>
<path d="M425.70 87.69L427.07 90.19L424.32 90.19Z" stroke="none"/>
<path d="M429.70 86.89V91.49M428.20 86.89h3.00M428.20 91.49h3.00" fill="none" stroke-width="0.8"/>
<path d="M429.70 87.69L431.07 90.19L428.32 90.19Z" stroke="none"/>
<path d="M433.70 87.38V91.98M432.20 87.38h3.00M432.20 91.98h3.00" fill="none" stroke-width="0.8"/>
<path d="M433.70 88.18L435.07 90.68L432.32 90.68Z" stroke="none"/>
<path d="M437.70 87.62V92.22M436.20 87.62h3.00M436.20 92.22h3.00" fill="none" stroke-width="0.8"/>
<path d="M437.70 88.42L439.07 90.92L436.32 90.92Z" stroke="none"/>
<path d="M441.70 87.62V92.22M440.20 87.62h3.00M440.20 92.22h3.00" fill="none" stroke-width="0.8"/>
<path d="M441.70 88.42L443.07 90.92L440.32 90.92Z" stroke="none"/>
<path d="M445.70 88.11V92.71M444.20 88.11h3.00M444.20 92.71h3.00" fill="none" stroke-width="0.8"/>
<path d="M445.70 88.91L447.07 91.41L444.32 91.41Z" stroke="none"/>
<path d="M449.70 88.84V93.44M448.20 88.84h3.00M448.20 93.44h3.00" fill="none" stroke-width="0.8"/>
<path d="M449.70 89.64L451.07 92.14L448.32 92.14Z" stroke="none"/>
</g>
<g stroke="#a4002b" fill="#a4002b" opacity="1.0">
<polyline points="361.70,100.90 365.70,99.68 369.70,96.02 373.70,88.21 377.70,83.82 381.70,81.38 385.70,79.67 389.70,77.72 393.70,78.21 397.70,77.23 401.70,76.50 405.70,76.50 409.70,76.01 413.70,76.50 417.70,76.50 421.70,77.23 425.70,77.72 429.70,78.21 433.70,77.23 437.70,78.21 441.70,77.72 445.70,78.45 449.70,80.89" fill="none" stroke-width="0.9"/>
<circle cx="361.70" cy="100.90" r="1.25" stroke="none"/>
<circle cx="365.70" cy="99.68" r="1.25" stroke="none"/>
<path d="M369.70 93.22V98.82M368.20 93.22h3.00M368.20 98.82h3.00" fill="none" stroke-width="0.8"/>
<circle cx="369.70" cy="96.02" r="1.25" stroke="none"/>
<path d="M373.70 85.41V91.01M372.20 85.41h3.00M372.20 91.01h3.00" fill="none" stroke-width="0.8"/>
<circle cx="373.70" cy="88.21" r="1.25" stroke="none"/>
<path d="M377.70 81.02V86.62M376.20 81.02h3.00M376.20 86.62h3.00" fill="none" stroke-width="0.8"/>
<circle cx="377.70" cy="83.82" r="1.25" stroke="none"/>
<path d="M381.70 78.58V84.18M380.20 78.58h3.00M380.20 84.18h3.00" fill="none" stroke-width="0.8"/>
<circle cx="381.70" cy="81.38" r="1.25" stroke="none"/>
<path d="M385.70 76.87V82.47M384.20 76.87h3.00M384.20 82.47h3.00" fill="none" stroke-width="0.8"/>
<circle cx="385.70" cy="79.67" r="1.25" stroke="none"/>
<path d="M389.70 74.92V80.52M388.20 74.92h3.00M388.20 80.52h3.00" fill="none" stroke-width="0.8"/>
<circle cx="389.70" cy="77.72" r="1.25" stroke="none"/>
<path d="M393.70 75.41V81.01M392.20 75.41h3.00M392.20 81.01h3.00" fill="none" stroke-width="0.8"/>
<circle cx="393.70" cy="78.21" r="1.25" stroke="none"/>
<path d="M397.70 74.43V80.03M396.20 74.43h3.00M396.20 80.03h3.00" fill="none" stroke-width="0.8"/>
<circle cx="397.70" cy="77.23" r="1.25" stroke="none"/>
<path d="M401.70 73.70V79.30M400.20 73.70h3.00M400.20 79.30h3.00" fill="none" stroke-width="0.8"/>
<circle cx="401.70" cy="76.50" r="1.25" stroke="none"/>
<path d="M405.70 73.70V79.30M404.20 73.70h3.00M404.20 79.30h3.00" fill="none" stroke-width="0.8"/>
<circle cx="405.70" cy="76.50" r="1.25" stroke="none"/>
<path d="M409.70 73.21V78.81M408.20 73.21h3.00M408.20 78.81h3.00" fill="none" stroke-width="0.8"/>
<circle cx="409.70" cy="76.01" r="1.25" stroke="none"/>
<path d="M413.70 73.70V79.30M412.20 73.70h3.00M412.20 79.30h3.00" fill="none" stroke-width="0.8"/>
<circle cx="413.70" cy="76.50" r="1.25" stroke="none"/>
<path d="M417.70 73.70V79.30M416.20 73.70h3.00M416.20 79.30h3.00" fill="none" stroke-width="0.8"/>
<circle cx="417.70" cy="76.50" r="1.25" stroke="none"/>
<path d="M421.70 74.43V80.03M420.20 74.43h3.00M420.20 80.03h3.00" fill="none" stroke-width="0.8"/>
<circle cx="421.70" cy="77.23" r="1.25" stroke="none"/>
<path d="M425.70 74.92V80.52M424.20 74.92h3.00M424.20 80.52h3.00" fill="none" stroke-width="0.8"/>
<circle cx="425.70" cy="77.72" r="1.25" stroke="none"/>
<path d="M429.70 75.41V81.01M428.20 75.41h3.00M428.20 81.01h3.00" fill="none" stroke-width="0.8"/>
<circle cx="429.70" cy="78.21" r="1.25" stroke="none"/>
<path d="M433.70 74.43V80.03M432.20 74.43h3.00M432.20 80.03h3.00" fill="none" stroke-width="0.8"/>
<circle cx="433.70" cy="77.23" r="1.25" stroke="none"/>
<path d="M437.70 75.41V81.01M436.20 75.41h3.00M436.20 81.01h3.00" fill="none" stroke-width="0.8"/>
<circle cx="437.70" cy="78.21" r="1.25" stroke="none"/>
<path d="M441.70 74.92V80.52M440.20 74.92h3.00M440.20 80.52h3.00" fill="none" stroke-width="0.8"/>
<circle cx="441.70" cy="77.72" r="1.25" stroke="none"/>
<path d="M445.70 75.65V81.25M444.20 75.65h3.00M444.20 81.25h3.00" fill="none" stroke-width="0.8"/>
<circle cx="445.70" cy="78.45" r="1.25" stroke="none"/>
<path d="M449.70 78.09V83.69M448.20 78.09h3.00M448.20 83.69h3.00" fill="none" stroke-width="0.8"/>
<circle cx="449.70" cy="80.89" r="1.25" stroke="none"/>
</g>
<g stroke="#a4002b" fill="#a4002b" opacity="1.0">
<polyline points="361.70,100.90 365.70,98.95 369.70,94.80 373.70,83.82 377.70,72.84 381.70,61.86 385.70,57.47 389.70,53.81 393.70,53.81 397.70,55.03 401.70,54.54 405.70,55.27 409.70,56.49 413.70,56.98 417.70,57.47 421.70,57.71 425.70,58.20 429.70,59.42 433.70,60.40 437.70,61.37 441.70,63.08 445.70,64.30 449.70,66.25" fill="none" stroke-width="0.9"/>
<rect x="360.45" y="99.65" width="2.50" height="2.50" stroke="none"/>
<rect x="364.45" y="97.70" width="2.50" height="2.50" stroke="none"/>
<path d="M369.70 92.40V97.20M368.20 92.40h3.00M368.20 97.20h3.00" fill="none" stroke-width="0.8"/>
<rect x="368.45" y="93.55" width="2.50" height="2.50" stroke="none"/>
<path d="M373.70 81.42V86.22M372.20 81.42h3.00M372.20 86.22h3.00" fill="none" stroke-width="0.8"/>
<rect x="372.45" y="82.57" width="2.50" height="2.50" stroke="none"/>
<path d="M377.70 70.44V75.24M376.20 70.44h3.00M376.20 75.24h3.00" fill="none" stroke-width="0.8"/>
<rect x="376.45" y="71.59" width="2.50" height="2.50" stroke="none"/>
<path d="M381.70 59.46V64.26M380.20 59.46h3.00M380.20 64.26h3.00" fill="none" stroke-width="0.8"/>
<rect x="380.45" y="60.61" width="2.50" height="2.50" stroke="none"/>
<path d="M385.70 55.07V59.87M384.20 55.07h3.00M384.20 59.87h3.00" fill="none" stroke-width="0.8"/>
<rect x="384.45" y="56.22" width="2.50" height="2.50" stroke="none"/>
<path d="M389.70 51.41V56.21M388.20 51.41h3.00M388.20 56.21h3.00" fill="none" stroke-width="0.8"/>
<rect x="388.45" y="52.56" width="2.50" height="2.50" stroke="none"/>
<path d="M393.70 51.41V56.21M392.20 51.41h3.00M392.20 56.21h3.00" fill="none" stroke-width="0.8"/>
<rect x="392.45" y="52.56" width="2.50" height="2.50" stroke="none"/>
<path d="M397.70 52.63V57.43M396.20 52.63h3.00M396.20 57.43h3.00" fill="none" stroke-width="0.8"/>
<rect x="396.45" y="53.78" width="2.50" height="2.50" stroke="none"/>
<path d="M401.70 52.14V56.94M400.20 52.14h3.00M400.20 56.94h3.00" fill="none" stroke-width="0.8"/>
<rect x="400.45" y="53.29" width="2.50" height="2.50" stroke="none"/>
<path d="M405.70 52.87V57.67M404.20 52.87h3.00M404.20 57.67h3.00" fill="none" stroke-width="0.8"/>
<rect x="404.45" y="54.02" width="2.50" height="2.50" stroke="none"/>
<rect x="408.45" y="55.24" width="2.50" height="2.50" stroke="none"/>
<rect x="412.45" y="55.73" width="2.50" height="2.50" stroke="none"/>
<rect x="416.45" y="56.22" width="2.50" height="2.50" stroke="none"/>
<rect x="420.45" y="56.46" width="2.50" height="2.50" stroke="none"/>
<rect x="424.45" y="56.95" width="2.50" height="2.50" stroke="none"/>
<rect x="428.45" y="58.17" width="2.50" height="2.50" stroke="none"/>
<rect x="432.45" y="59.15" width="2.50" height="2.50" stroke="none"/>
<rect x="436.45" y="60.12" width="2.50" height="2.50" stroke="none"/>
<rect x="440.45" y="61.83" width="2.50" height="2.50" stroke="none"/>
<rect x="444.45" y="63.05" width="2.50" height="2.50" stroke="none"/>
<rect x="448.45" y="65.00" width="2.50" height="2.50" stroke="none"/>
</g>
<line x1="453.30" y1="65.40" x2="453.30" y2="81.60" stroke="#1a1a1a" stroke-width="1.0"/>
<text x="456.60" y="75.66" font-size="6.00" text-anchor="middle" stroke="#1e1e1e" stroke-width="0.12" transform="rotate(-90 456.60 73.50)">***</text>
<text transform="translate(384.34 514.40) scale(1.127 1)" font-size="11.6" font-weight="bold" fill="#000" stroke="#000" stroke-width="0.12">N</text>
<line x1="453.20" y1="528.30" x2="460.70" y2="528.30" stroke="#a4002b" stroke-width="0.9"/>
<line x1="453.50" y1="527.40" x2="453.50" y2="529.20" stroke="#a4002b" stroke-width="0.6"/>
<line x1="460.40" y1="527.40" x2="460.40" y2="529.20" stroke="#a4002b" stroke-width="0.6"/>
<circle cx="456.95" cy="528.30" r="1.5" fill="#a4002b"/>
<text x="463.30" y="530.39" font-size="5.80" stroke="#1e1e1e" stroke-width="0.06" textLength="44.40" lengthAdjust="spacingAndGlyphs">Wildtype + TNF&#945;</text>
<line x1="453.20" y1="535.00" x2="460.70" y2="535.00" stroke="#3a6650" stroke-width="0.9"/>
<line x1="453.50" y1="534.10" x2="453.50" y2="535.90" stroke="#3a6650" stroke-width="0.6"/>
<line x1="460.40" y1="534.10" x2="460.40" y2="535.90" stroke="#3a6650" stroke-width="0.6"/>
<path d="M456.95 533.30l1.6 2.7h-3.2z" fill="#3a6650"/>
<text x="463.30" y="537.09" font-size="5.80" stroke="#1e1e1e" stroke-width="0.06" textLength="47.70" lengthAdjust="spacingAndGlyphs">L(E) mutant + TNF&#945;</text>
<line x1="408.80" y1="524.20" x2="408.80" y2="595.60" stroke="#2a2a2a" stroke-width="1.4"/>
<line x1="406.10" y1="595.60" x2="408.80" y2="595.60" stroke="#333" stroke-width="0.9"/>
<text x="403.40" y="598.08" font-size="6.90" text-anchor="end" stroke="#1e1e1e" stroke-width="0.12">0</text>
<line x1="406.10" y1="578.20" x2="408.80" y2="578.20" stroke="#333" stroke-width="0.9"/>
<text x="403.40" y="580.68" font-size="6.90" text-anchor="end" stroke="#1e1e1e" stroke-width="0.12">1</text>
<line x1="406.10" y1="560.80" x2="408.80" y2="560.80" stroke="#333" stroke-width="0.9"/>
<text x="403.40" y="563.28" font-size="6.90" text-anchor="end" stroke="#1e1e1e" stroke-width="0.12">2</text>
<line x1="406.10" y1="543.40" x2="408.80" y2="543.40" stroke="#333" stroke-width="0.9"/>
<text x="403.40" y="545.88" font-size="6.90" text-anchor="end" stroke="#1e1e1e" stroke-width="0.12">3</text>
<line x1="406.10" y1="526.00" x2="408.80" y2="526.00" stroke="#333" stroke-width="0.9"/>
<text x="403.40" y="528.48" font-size="6.90" text-anchor="end" stroke="#1e1e1e" stroke-width="0.12">4</text>
<line x1="408.80" y1="595.60" x2="501.20" y2="595.60" stroke="#2a2a2a" stroke-width="1.5"/>
<line x1="408.80" y1="595.60" x2="408.80" y2="598.40" stroke="#333" stroke-width="0.9"/>
<text x="408.80" y="607.68" font-size="6.90" text-anchor="middle" stroke="#1e1e1e" stroke-width="0.12">0</text>
<line x1="429.28" y1="595.60" x2="429.28" y2="598.40" stroke="#333" stroke-width="0.9"/>
<text x="429.28" y="607.68" font-size="6.90" text-anchor="middle" stroke="#1e1e1e" stroke-width="0.12">20</text>
<line x1="449.76" y1="595.60" x2="449.76" y2="598.40" stroke="#333" stroke-width="0.9"/>
<text x="449.76" y="607.68" font-size="6.90" text-anchor="middle" stroke="#1e1e1e" stroke-width="0.12">40</text>
<line x1="470.24" y1="595.60" x2="470.24" y2="598.40" stroke="#333" stroke-width="0.9"/>
<text x="470.24" y="607.68" font-size="6.90" text-anchor="middle" stroke="#1e1e1e" stroke-width="0.12">60</text>
<line x1="490.72" y1="595.60" x2="490.72" y2="598.40" stroke="#333" stroke-width="0.9"/>
<text x="490.72" y="607.68" font-size="6.90" text-anchor="middle" stroke="#1e1e1e" stroke-width="0.12">80</text>
<text x="458.00" y="618.90" font-size="8.60" text-anchor="middle" stroke="#1e1e1e" stroke-width="0.12" textLength="32.00" lengthAdjust="spacingAndGlyphs">Time [min]</text>
<text x="391.80" y="560.84" font-size="9.00" text-anchor="middle" stroke="#1e1e1e" stroke-width="0.12" textLength="71.00" lengthAdjust="spacingAndGlyphs" transform="rotate(-90 391.80 557.60)">nmoles O<tspan font-size="5.58" dy="2.52">2</tspan><tspan font-size="5.58" dy="-4.95">-</tspan><tspan dy="2.43">/1*10</tspan><tspan font-size="5.58" dy="-3.15">6</tspan><tspan dy="3.15"> cells</tspan></text>
<g stroke="#3a6650" fill="#3a6650" opacity="1.0">
<polyline points="408.80,590.21 412.90,595.60 416.99,594.56 421.09,586.90 425.18,579.59 429.28,572.11 433.38,568.98 437.47,567.76 441.57,567.24 445.66,567.06 449.76,568.28 453.86,568.98 457.95,570.37 462.05,572.11 466.14,573.68 470.24,574.37 474.34,574.37 478.43,573.85 482.53,575.59 486.62,575.07 490.72,576.11 494.82,575.59 498.91,578.55" fill="none" stroke-width="0.9"/>
<path d="M408.80 588.77L410.12 591.17L407.48 591.17Z" stroke="none"/>
<path d="M412.90 594.16L414.22 596.56L411.58 596.56Z" stroke="none"/>
<path d="M416.99 593.12L418.31 595.52L415.67 595.52Z" stroke="none"/>
<path d="M421.09 586.10V587.70M419.59 586.10h3.00M419.59 587.70h3.00" fill="none" stroke-width="0.8"/>
<path d="M421.09 585.46L422.41 587.86L419.77 587.86Z" stroke="none"/>
<path d="M425.18 577.99V581.19M423.68 577.99h3.00M423.68 581.19h3.00" fill="none" stroke-width="0.8"/>
<path d="M425.18 578.15L426.50 580.55L423.86 580.55Z" stroke="none"/>
<path d="M429.28 570.11V574.11M427.78 570.11h3.00M427.78 574.11h3.00" fill="none" stroke-width="0.8"/>
<path d="M429.28 570.67L430.60 573.07L427.96 573.07Z" stroke="none"/>
<path d="M433.38 567.18V570.78M431.88 567.18h3.00M431.88 570.78h3.00" fill="none" stroke-width="0.8"/>
<path d="M433.38 567.54L434.70 569.94L432.06 569.94Z" stroke="none"/>
<path d="M437.47 566.56V568.96M435.97 566.56h3.00M435.97 568.96h3.00" fill="none" stroke-width="0.8"/>
<path d="M437.47 566.32L438.79 568.72L436.15 568.72Z" stroke="none"/>
<path d="M441.57 566.24V568.24M440.07 566.24h3.00M440.07 568.24h3.00" fill="none" stroke-width="0.8"/>
<path d="M441.57 565.80L442.89 568.20L440.25 568.20Z" stroke="none"/>
<path d="M445.66 566.26V567.86M444.16 566.26h3.00M444.16 567.86h3.00" fill="none" stroke-width="0.8"/>
<path d="M445.66 565.62L446.98 568.02L444.34 568.02Z" stroke="none"/>
<path d="M449.76 567.48V569.08M448.26 567.48h3.00M448.26 569.08h3.00" fill="none" stroke-width="0.8"/>
<path d="M449.76 566.84L451.08 569.24L448.44 569.24Z" stroke="none"/>
<path d="M453.86 567.78V570.18M452.36 567.78h3.00M452.36 570.18h3.00" fill="none" stroke-width="0.8"/>
<path d="M453.86 567.54L455.18 569.94L452.54 569.94Z" stroke="none"/>
<path d="M457.95 569.77V570.97M456.45 569.77h3.00M456.45 570.97h3.00" fill="none" stroke-width="0.8"/>
<path d="M457.95 568.93L459.27 571.33L456.63 571.33Z" stroke="none"/>
<path d="M462.05 570.67L463.37 573.07L460.73 573.07Z" stroke="none"/>
<path d="M466.14 572.24L467.46 574.64L464.82 574.64Z" stroke="none"/>
<path d="M470.24 572.93L471.56 575.33L468.92 575.33Z" stroke="none"/>
<path d="M474.34 572.93L475.66 575.33L473.02 575.33Z" stroke="none"/>
<path d="M478.43 572.41L479.75 574.81L477.11 574.81Z" stroke="none"/>
<path d="M482.53 574.39V576.79M481.03 574.39h3.00M481.03 576.79h3.00" fill="none" stroke-width="0.8"/>
<path d="M482.53 574.15L483.85 576.55L481.21 576.55Z" stroke="none"/>
<path d="M486.62 573.63L487.94 576.03L485.30 576.03Z" stroke="none"/>
<path d="M490.72 574.61V577.61M489.22 574.61h3.00M489.22 577.61h3.00" fill="none" stroke-width="0.8"/>
<path d="M490.72 574.67L492.04 577.07L489.40 577.07Z" stroke="none"/>
<path d="M494.82 574.09V577.09M493.32 574.09h3.00M493.32 577.09h3.00" fill="none" stroke-width="0.8"/>
<path d="M494.82 574.15L496.14 576.55L493.50 576.55Z" stroke="none"/>
<path d="M498.91 577.05V580.05M497.41 577.05h3.00M497.41 580.05h3.00" fill="none" stroke-width="0.8"/>
<path d="M498.91 577.11L500.23 579.51L497.59 579.51Z" stroke="none"/>
</g>
<g stroke="#a4002b" fill="#a4002b" opacity="1.0">
<polyline points="408.80,594.38 412.90,595.60 416.99,592.12 421.09,584.64 425.18,569.67 429.28,561.67 433.38,557.32 437.47,551.75 441.57,547.23 445.66,545.49 449.76,546.71 453.86,548.62 457.95,549.14 462.05,552.27 466.14,554.71 470.24,555.93 474.34,555.93 478.43,555.41 482.53,558.36 486.62,560.97 490.72,562.89 494.82,563.93 498.91,565.15" fill="none" stroke-width="0.9"/>
<circle cx="408.80" cy="594.38" r="1.2" stroke="none"/>
<circle cx="412.90" cy="595.60" r="1.2" stroke="none"/>
<path d="M416.99 591.32V592.92M415.39 591.32h3.20M415.39 592.92h3.20" fill="none" stroke-width="0.8"/>
<circle cx="416.99" cy="592.12" r="1.2" stroke="none"/>
<path d="M421.09 583.04V586.24M419.49 583.04h3.20M419.49 586.24h3.20" fill="none" stroke-width="0.8"/>
<circle cx="421.09" cy="584.64" r="1.2" stroke="none"/>
<path d="M425.18 567.47V571.87M423.58 567.47h3.20M423.58 571.87h3.20" fill="none" stroke-width="0.8"/>
<circle cx="425.18" cy="569.67" r="1.2" stroke="none"/>
<path d="M429.28 558.17V565.17M427.68 558.17h3.20M427.68 565.17h3.20" fill="none" stroke-width="0.8"/>
<circle cx="429.28" cy="561.67" r="1.2" stroke="none"/>
<path d="M433.38 554.32V560.32M431.78 554.32h3.20M431.78 560.32h3.20" fill="none" stroke-width="0.8"/>
<circle cx="433.38" cy="557.32" r="1.2" stroke="none"/>
<path d="M437.47 549.25V554.25M435.87 549.25h3.20M435.87 554.25h3.20" fill="none" stroke-width="0.8"/>
<circle cx="437.47" cy="551.75" r="1.2" stroke="none"/>
<path d="M441.57 543.73V550.73M439.97 543.73h3.20M439.97 550.73h3.20" fill="none" stroke-width="0.8"/>
<circle cx="441.57" cy="547.23" r="1.2" stroke="none"/>
<path d="M445.66 541.99V548.99M444.06 541.99h3.20M444.06 548.99h3.20" fill="none" stroke-width="0.8"/>
<circle cx="445.66" cy="545.49" r="1.2" stroke="none"/>
<path d="M449.76 543.71V549.71M448.16 543.71h3.20M448.16 549.71h3.20" fill="none" stroke-width="0.8"/>
<circle cx="449.76" cy="546.71" r="1.2" stroke="none"/>
<path d="M453.86 545.62V551.62M452.26 545.62h3.20M452.26 551.62h3.20" fill="none" stroke-width="0.8"/>
<circle cx="453.86" cy="548.62" r="1.2" stroke="none"/>
<path d="M457.95 546.14V552.14M456.35 546.14h3.20M456.35 552.14h3.20" fill="none" stroke-width="0.8"/>
<circle cx="457.95" cy="549.14" r="1.2" stroke="none"/>
<path d="M462.05 548.77V555.77M460.45 548.77h3.20M460.45 555.77h3.20" fill="none" stroke-width="0.8"/>
<circle cx="462.05" cy="552.27" r="1.2" stroke="none"/>
<path d="M466.14 551.21V558.21M464.54 551.21h3.20M464.54 558.21h3.20" fill="none" stroke-width="0.8"/>
<circle cx="466.14" cy="554.71" r="1.2" stroke="none"/>
<path d="M470.24 552.43V559.43M468.64 552.43h3.20M468.64 559.43h3.20" fill="none" stroke-width="0.8"/>
<circle cx="470.24" cy="555.93" r="1.2" stroke="none"/>
<path d="M474.34 552.43V559.43M472.74 552.43h3.20M472.74 559.43h3.20" fill="none" stroke-width="0.8"/>
<circle cx="474.34" cy="555.93" r="1.2" stroke="none"/>
<path d="M478.43 551.61V559.21M476.83 551.61h3.20M476.83 559.21h3.20" fill="none" stroke-width="0.8"/>
<circle cx="478.43" cy="555.41" r="1.2" stroke="none"/>
<path d="M482.53 554.56V562.16M480.93 554.56h3.20M480.93 562.16h3.20" fill="none" stroke-width="0.8"/>
<circle cx="482.53" cy="558.36" r="1.2" stroke="none"/>
<path d="M486.62 557.17V564.77M485.02 557.17h3.20M485.02 564.77h3.20" fill="none" stroke-width="0.8"/>
<circle cx="486.62" cy="560.97" r="1.2" stroke="none"/>
<path d="M490.72 558.89V566.89M489.12 558.89h3.20M489.12 566.89h3.20" fill="none" stroke-width="0.8"/>
<circle cx="490.72" cy="562.89" r="1.2" stroke="none"/>
<path d="M494.82 559.93V567.93M493.22 559.93h3.20M493.22 567.93h3.20" fill="none" stroke-width="0.8"/>
<circle cx="494.82" cy="563.93" r="1.2" stroke="none"/>
<path d="M498.91 560.65V569.65M497.31 560.65h3.20M497.31 569.65h3.20" fill="none" stroke-width="0.8"/>
<circle cx="498.91" cy="565.15" r="1.2" stroke="none"/>
</g>
<line x1="504.80" y1="557.00" x2="504.80" y2="584.20" stroke="#666" stroke-width="1.2"/>
<text x="508.40" y="573.16" font-size="6.00" text-anchor="middle" fill="#444" stroke="#444" stroke-width="0.05" transform="rotate(-90 508.40 571.00)">**</text>
<text transform="translate(146.32 150.50) scale(0.890 1)" font-size="11.6" font-weight="bold" fill="#000" stroke="#000" stroke-width="0.12">E</text>
<text x="218.00" y="164.07" font-size="8.80" text-anchor="middle" stroke="#1e1e1e" stroke-width="0.05" textLength="22.60" lengthAdjust="spacingAndGlyphs">PLC&#947;2</text>
<line x1="171.50" y1="186.70" x2="171.50" y2="250.40" stroke="#111" stroke-width="1.5"/>
<line x1="168.80" y1="250.40" x2="171.50" y2="250.40" stroke="#333" stroke-width="0.9"/>
<text x="165.90" y="252.88" font-size="6.90" text-anchor="end" stroke="#1e1e1e" stroke-width="0.12">0</text>
<line x1="168.80" y1="235.15" x2="171.50" y2="235.15" stroke="#333" stroke-width="0.9"/>
<text x="165.90" y="237.63" font-size="6.90" text-anchor="end" stroke="#1e1e1e" stroke-width="0.12">5</text>
<line x1="168.80" y1="219.90" x2="171.50" y2="219.90" stroke="#333" stroke-width="0.9"/>
<text x="165.90" y="222.38" font-size="6.90" text-anchor="end" stroke="#1e1e1e" stroke-width="0.12">10</text>
<line x1="168.80" y1="204.65" x2="171.50" y2="204.65" stroke="#333" stroke-width="0.9"/>
<text x="165.90" y="207.13" font-size="6.90" text-anchor="end" stroke="#1e1e1e" stroke-width="0.12">15</text>
<line x1="168.80" y1="189.40" x2="171.50" y2="189.40" stroke="#333" stroke-width="0.9"/>
<text x="165.90" y="191.88" font-size="6.90" text-anchor="end" stroke="#1e1e1e" stroke-width="0.12">20</text>
<rect x="173.55" y="247.96" width="7.30" height="2.44" fill="#a4002b" stroke="#8e0022" stroke-width="0.5"/>
<line x1="188.50" y1="230.58" x2="188.50" y2="232.41" stroke="#1a1a1a" stroke-width="1.1"/>
<line x1="186.75" y1="230.58" x2="190.25" y2="230.58" stroke="#1a1a1a" stroke-width="1.1"/>
<rect x="185.05" y="232.41" width="7.30" height="18.00" fill="#a4002b" stroke="#8e0022" stroke-width="0.5"/>
<line x1="200.50" y1="233.62" x2="200.50" y2="236.98" stroke="#1a1a1a" stroke-width="1.1"/>
<line x1="198.75" y1="233.62" x2="202.25" y2="233.62" stroke="#1a1a1a" stroke-width="1.1"/>
<rect x="196.55" y="236.98" width="7.30" height="13.42" fill="#a4002b" stroke="#8e0022" stroke-width="0.5"/>
<line x1="211.50" y1="205.56" x2="211.50" y2="211.06" stroke="#1a1a1a" stroke-width="1.1"/>
<line x1="209.75" y1="205.56" x2="213.25" y2="205.56" stroke="#1a1a1a" stroke-width="1.1"/>
<rect x="208.05" y="211.06" width="7.30" height="39.34" fill="#a4002b" stroke="#8e0022" stroke-width="0.5"/>
<line x1="223.50" y1="241.86" x2="223.50" y2="244.61" stroke="#1a1a1a" stroke-width="1.1"/>
<line x1="221.75" y1="241.86" x2="225.25" y2="241.86" stroke="#1a1a1a" stroke-width="1.1"/>
<rect x="219.55" y="244.61" width="7.30" height="5.79" fill="#2d4b80" stroke="#1b3a75" stroke-width="0.5"/>
<line x1="234.50" y1="241.40" x2="234.50" y2="244.30" stroke="#1a1a1a" stroke-width="1.1"/>
<line x1="232.75" y1="241.40" x2="236.25" y2="241.40" stroke="#1a1a1a" stroke-width="1.1"/>
<rect x="231.05" y="244.30" width="7.30" height="6.10" fill="#2d4b80" stroke="#1b3a75" stroke-width="0.5"/>
<line x1="246.50" y1="241.56" x2="246.50" y2="244.61" stroke="#1a1a1a" stroke-width="1.1"/>
<line x1="244.75" y1="241.56" x2="248.25" y2="241.56" stroke="#1a1a1a" stroke-width="1.1"/>
<rect x="242.55" y="244.61" width="7.30" height="5.79" fill="#2d4b80" stroke="#1b3a75" stroke-width="0.5"/>
<line x1="257.50" y1="236.37" x2="257.50" y2="240.34" stroke="#1a1a1a" stroke-width="1.1"/>
<line x1="255.75" y1="236.37" x2="259.25" y2="236.37" stroke="#1a1a1a" stroke-width="1.1"/>
<rect x="254.05" y="240.34" width="7.30" height="10.06" fill="#2d4b80" stroke="#1b3a75" stroke-width="0.5"/>
<line x1="170.75" y1="250.40" x2="264.20" y2="250.40" stroke="#111" stroke-width="1.5"/>
<line x1="177.20" y1="250.40" x2="177.20" y2="253.50" stroke="#222" stroke-width="1.0"/>
<line x1="188.70" y1="250.40" x2="188.70" y2="253.50" stroke="#222" stroke-width="1.0"/>
<line x1="200.20" y1="250.40" x2="200.20" y2="253.50" stroke="#222" stroke-width="1.0"/>
<line x1="211.70" y1="250.40" x2="211.70" y2="253.50" stroke="#222" stroke-width="1.0"/>
<line x1="223.20" y1="250.40" x2="223.20" y2="253.50" stroke="#222" stroke-width="1.0"/>
<line x1="234.70" y1="250.40" x2="234.70" y2="253.50" stroke="#222" stroke-width="1.0"/>
<line x1="246.20" y1="250.40" x2="246.20" y2="253.50" stroke="#222" stroke-width="1.0"/>
<line x1="257.70" y1="250.40" x2="257.70" y2="253.50" stroke="#222" stroke-width="1.0"/>
<text x="150.70" y="221.37" font-size="8.80" text-anchor="middle" stroke="#1e1e1e" stroke-width="0.12" textLength="68.90" lengthAdjust="spacingAndGlyphs" transform="rotate(-90 150.70 218.20)">Relative density (x-fold)</text>
<line x1="177.30" y1="226.80" x2="188.70" y2="226.80" stroke="#444" stroke-width="1.1"/>
<text x="183.00" y="226.46" font-size="6.00" text-anchor="middle" fill="#222" stroke="#222" stroke-width="0.15">*</text>
<line x1="189.10" y1="198.20" x2="211.60" y2="198.20" stroke="#444" stroke-width="1.1"/>
<text x="200.35" y="197.86" font-size="6.00" text-anchor="middle" fill="#222" stroke="#222" stroke-width="0.15">**</text>
<line x1="214.20" y1="193.70" x2="257.50" y2="193.70" stroke="#444" stroke-width="1.1"/>
<text x="235.85" y="193.36" font-size="6.00" text-anchor="middle" fill="#222" stroke="#222" stroke-width="0.15">***</text>
<text x="180.10" y="259.40" font-size="6.8" text-anchor="end" stroke="#1e1e1e" stroke-width="0.1" textLength="9.73" lengthAdjust="spacingAndGlyphs" transform="rotate(-45 180.10 259.40)">WT</text>
<text x="191.60" y="259.40" font-size="6.8" text-anchor="end" stroke="#1e1e1e" stroke-width="0.1" textLength="28.73" lengthAdjust="spacingAndGlyphs" transform="rotate(-45 191.60 259.40)">WT pRGD</text>
<text x="203.10" y="259.40" font-size="6.8" text-anchor="end" stroke="#1e1e1e" stroke-width="0.1" textLength="40.91" lengthAdjust="spacingAndGlyphs" transform="rotate(-45 203.10 259.40)">WT 0.65x PBS</text>
<text x="214.60" y="259.40" font-size="6.8" text-anchor="end" stroke="#1e1e1e" stroke-width="0.1" textLength="60.03" lengthAdjust="spacingAndGlyphs" transform="rotate(-45 214.60 259.40)">WT 0.65x PBS pRGD</text>
<text x="226.10" y="259.40" font-size="6.8" text-anchor="end" stroke="#1e1e1e" stroke-width="0.1" textLength="16.34" lengthAdjust="spacingAndGlyphs" transform="rotate(-45 226.10 259.40)">Sell-/-</text>
<text x="237.60" y="259.40" font-size="6.8" text-anchor="end" stroke="#1e1e1e" stroke-width="0.1" textLength="35.45" lengthAdjust="spacingAndGlyphs" transform="rotate(-45 237.60 259.40)">Sell-/- pRGD</text>
<text x="249.10" y="259.40" font-size="6.8" text-anchor="end" stroke="#1e1e1e" stroke-width="0.1" textLength="47.63" lengthAdjust="spacingAndGlyphs" transform="rotate(-45 249.10 259.40)">Sell-/- 0.65x PBS</text>
<text x="260.60" y="259.40" font-size="6.8" text-anchor="end" stroke="#1e1e1e" stroke-width="0.1" textLength="66.75" lengthAdjust="spacingAndGlyphs" transform="rotate(-45 260.60 259.40)">Sell-/- 0.65x PBS pRGD</text>
<text transform="translate(270.49 150.40) scale(0.932 1)" font-size="11.6" font-weight="bold" fill="#000" stroke="#000" stroke-width="0.12">F</text>
<text x="342.40" y="163.74" font-size="9.00" text-anchor="middle" stroke="#1e1e1e" stroke-width="0.05" textLength="13.20" lengthAdjust="spacingAndGlyphs">Syk</text>
<line x1="295.60" y1="185.70" x2="295.60" y2="250.40" stroke="#111" stroke-width="1.5"/>
<line x1="292.90" y1="250.40" x2="295.60" y2="250.40" stroke="#333" stroke-width="0.9"/>
<text x="290.00" y="252.88" font-size="6.90" text-anchor="end" stroke="#1e1e1e" stroke-width="0.12">0</text>
<line x1="292.90" y1="234.90" x2="295.60" y2="234.90" stroke="#333" stroke-width="0.9"/>
<text x="290.00" y="237.38" font-size="6.90" text-anchor="end" stroke="#1e1e1e" stroke-width="0.12">5</text>
<line x1="292.90" y1="219.40" x2="295.60" y2="219.40" stroke="#333" stroke-width="0.9"/>
<text x="290.00" y="221.88" font-size="6.90" text-anchor="end" stroke="#1e1e1e" stroke-width="0.12">10</text>
<line x1="292.90" y1="203.90" x2="295.60" y2="203.90" stroke="#333" stroke-width="0.9"/>
<text x="290.00" y="206.38" font-size="6.90" text-anchor="end" stroke="#1e1e1e" stroke-width="0.12">15</text>
<line x1="292.90" y1="188.40" x2="295.60" y2="188.40" stroke="#333" stroke-width="0.9"/>
<text x="290.00" y="190.88" font-size="6.90" text-anchor="end" stroke="#1e1e1e" stroke-width="0.12">20</text>
<rect x="297.90" y="247.92" width="7.20" height="2.48" fill="#a4002b" stroke="#8e0022" stroke-width="0.5"/>
<line x1="312.50" y1="229.32" x2="312.50" y2="229.94" stroke="#1a1a1a" stroke-width="1.1"/>
<line x1="310.77" y1="229.32" x2="314.23" y2="229.32" stroke="#1a1a1a" stroke-width="1.1"/>
<rect x="309.38" y="229.94" width="7.20" height="20.46" fill="#a4002b" stroke="#8e0022" stroke-width="0.5"/>
<line x1="324.50" y1="239.24" x2="324.50" y2="242.34" stroke="#1a1a1a" stroke-width="1.1"/>
<line x1="322.77" y1="239.24" x2="326.23" y2="239.24" stroke="#1a1a1a" stroke-width="1.1"/>
<rect x="320.86" y="242.34" width="7.20" height="8.06" fill="#a4002b" stroke="#8e0022" stroke-width="0.5"/>
<line x1="335.50" y1="199.25" x2="335.50" y2="206.07" stroke="#1a1a1a" stroke-width="1.1"/>
<line x1="333.77" y1="199.25" x2="337.23" y2="199.25" stroke="#1a1a1a" stroke-width="1.1"/>
<rect x="332.34" y="206.07" width="7.20" height="44.33" fill="#a4002b" stroke="#8e0022" stroke-width="0.5"/>
<line x1="347.50" y1="245.28" x2="347.50" y2="246.37" stroke="#1a1a1a" stroke-width="1.1"/>
<line x1="345.77" y1="245.28" x2="349.23" y2="245.28" stroke="#1a1a1a" stroke-width="1.1"/>
<rect x="343.82" y="246.37" width="7.20" height="4.03" fill="#2d4b80" stroke="#1b3a75" stroke-width="0.5"/>
<line x1="358.50" y1="234.44" x2="358.50" y2="238.00" stroke="#1a1a1a" stroke-width="1.1"/>
<line x1="356.77" y1="234.44" x2="360.23" y2="234.44" stroke="#1a1a1a" stroke-width="1.1"/>
<rect x="355.30" y="238.00" width="7.20" height="12.40" fill="#2d4b80" stroke="#1b3a75" stroke-width="0.5"/>
<line x1="370.50" y1="244.51" x2="370.50" y2="245.91" stroke="#1a1a1a" stroke-width="1.1"/>
<line x1="368.77" y1="244.51" x2="372.23" y2="244.51" stroke="#1a1a1a" stroke-width="1.1"/>
<rect x="366.78" y="245.91" width="7.20" height="4.50" fill="#2d4b80" stroke="#1b3a75" stroke-width="0.5"/>
<line x1="381.50" y1="227.46" x2="381.50" y2="232.11" stroke="#1a1a1a" stroke-width="1.1"/>
<line x1="379.77" y1="227.46" x2="383.23" y2="227.46" stroke="#1a1a1a" stroke-width="1.1"/>
<rect x="378.26" y="232.11" width="7.20" height="18.29" fill="#2d4b80" stroke="#1b3a75" stroke-width="0.5"/>
<line x1="294.85" y1="250.40" x2="388.50" y2="250.40" stroke="#111" stroke-width="1.5"/>
<line x1="301.50" y1="250.40" x2="301.50" y2="253.50" stroke="#222" stroke-width="1.0"/>
<line x1="312.98" y1="250.40" x2="312.98" y2="253.50" stroke="#222" stroke-width="1.0"/>
<line x1="324.46" y1="250.40" x2="324.46" y2="253.50" stroke="#222" stroke-width="1.0"/>
<line x1="335.94" y1="250.40" x2="335.94" y2="253.50" stroke="#222" stroke-width="1.0"/>
<line x1="347.42" y1="250.40" x2="347.42" y2="253.50" stroke="#222" stroke-width="1.0"/>
<line x1="358.90" y1="250.40" x2="358.90" y2="253.50" stroke="#222" stroke-width="1.0"/>
<line x1="370.38" y1="250.40" x2="370.38" y2="253.50" stroke="#222" stroke-width="1.0"/>
<line x1="381.86" y1="250.40" x2="381.86" y2="253.50" stroke="#222" stroke-width="1.0"/>
<text x="274.80" y="221.17" font-size="8.80" text-anchor="middle" stroke="#1e1e1e" stroke-width="0.12" textLength="68.90" lengthAdjust="spacingAndGlyphs" transform="rotate(-90 274.80 218.00)">Relative density (x-fold)</text>
<line x1="301.60" y1="223.30" x2="313.00" y2="223.30" stroke="#444" stroke-width="1.1"/>
<text x="307.30" y="222.96" font-size="6.00" text-anchor="middle" fill="#222" stroke="#222" stroke-width="0.15">*</text>
<line x1="313.30" y1="194.10" x2="336.00" y2="194.10" stroke="#444" stroke-width="1.1"/>
<text x="324.65" y="193.76" font-size="6.00" text-anchor="middle" fill="#222" stroke="#222" stroke-width="0.15">**</text>
<line x1="338.30" y1="190.10" x2="381.80" y2="190.10" stroke="#444" stroke-width="1.1"/>
<text x="360.05" y="189.76" font-size="6.00" text-anchor="middle" fill="#222" stroke="#222" stroke-width="0.15">**</text>
<text x="304.40" y="259.40" font-size="6.8" text-anchor="end" stroke="#1e1e1e" stroke-width="0.1" textLength="9.73" lengthAdjust="spacingAndGlyphs" transform="rotate(-45 304.40 259.40)">WT</text>
<text x="315.88" y="259.40" font-size="6.8" text-anchor="end" stroke="#1e1e1e" stroke-width="0.1" textLength="28.73" lengthAdjust="spacingAndGlyphs" transform="rotate(-45 315.88 259.40)">WT pRGD</text>
<text x="327.36" y="259.40" font-size="6.8" text-anchor="end" stroke="#1e1e1e" stroke-width="0.1" textLength="39.17" lengthAdjust="spacingAndGlyphs" transform="rotate(-45 327.36 259.40)">WT 065x PBS</text>
<text x="338.84" y="259.40" font-size="6.8" text-anchor="end" stroke="#1e1e1e" stroke-width="0.1" textLength="58.29" lengthAdjust="spacingAndGlyphs" transform="rotate(-45 338.84 259.40)">WT 065x PBS pRGD</text>
<text x="350.32" y="259.40" font-size="6.8" text-anchor="end" stroke="#1e1e1e" stroke-width="0.1" textLength="16.34" lengthAdjust="spacingAndGlyphs" transform="rotate(-45 350.32 259.40)">Sell-/-</text>
<text x="361.80" y="259.40" font-size="6.8" text-anchor="end" stroke="#1e1e1e" stroke-width="0.1" textLength="35.45" lengthAdjust="spacingAndGlyphs" transform="rotate(-45 361.80 259.40)">Sell-/- pRGD</text>
<text x="373.28" y="259.40" font-size="6.8" text-anchor="end" stroke="#1e1e1e" stroke-width="0.1" textLength="45.90" lengthAdjust="spacingAndGlyphs" transform="rotate(-45 373.28 259.40)">Sell-/- 065x PBS</text>
<text x="384.76" y="259.40" font-size="6.8" text-anchor="end" stroke="#1e1e1e" stroke-width="0.1" textLength="65.01" lengthAdjust="spacingAndGlyphs" transform="rotate(-45 384.76 259.40)">Sell-/- 065x PBS pRGD</text>
<text transform="translate(394.73 150.40) scale(0.983 1)" font-size="11.6" font-weight="bold" fill="#000" stroke="#000" stroke-width="0.12">G</text>
<text x="466.40" y="163.74" font-size="9.00" text-anchor="middle" stroke="#1e1e1e" stroke-width="0.05" textLength="13.00" lengthAdjust="spacingAndGlyphs">Akt</text>
<line x1="420.50" y1="185.20" x2="420.50" y2="250.20" stroke="#111" stroke-width="1.5"/>
<line x1="417.80" y1="250.20" x2="420.50" y2="250.20" stroke="#333" stroke-width="0.9"/>
<text x="414.90" y="252.68" font-size="6.90" text-anchor="end" stroke="#1e1e1e" stroke-width="0.12">0</text>
<line x1="417.80" y1="234.55" x2="420.50" y2="234.55" stroke="#333" stroke-width="0.9"/>
<text x="414.90" y="237.03" font-size="6.90" text-anchor="end" stroke="#1e1e1e" stroke-width="0.12">5</text>
<line x1="417.80" y1="218.90" x2="420.50" y2="218.90" stroke="#333" stroke-width="0.9"/>
<text x="414.90" y="221.38" font-size="6.90" text-anchor="end" stroke="#1e1e1e" stroke-width="0.12">10</text>
<line x1="417.80" y1="203.25" x2="420.50" y2="203.25" stroke="#333" stroke-width="0.9"/>
<text x="414.90" y="205.73" font-size="6.90" text-anchor="end" stroke="#1e1e1e" stroke-width="0.12">15</text>
<line x1="417.80" y1="187.60" x2="420.50" y2="187.60" stroke="#333" stroke-width="0.9"/>
<text x="414.90" y="190.08" font-size="6.90" text-anchor="end" stroke="#1e1e1e" stroke-width="0.12">20</text>
<rect x="422.40" y="247.54" width="7.20" height="2.66" fill="#a4002b" stroke="#8e0022" stroke-width="0.5"/>
<line x1="437.50" y1="214.20" x2="437.50" y2="218.90" stroke="#1a1a1a" stroke-width="1.1"/>
<line x1="435.77" y1="214.20" x2="439.23" y2="214.20" stroke="#1a1a1a" stroke-width="1.1"/>
<rect x="433.85" y="218.90" width="7.20" height="31.30" fill="#a4002b" stroke="#8e0022" stroke-width="0.5"/>
<line x1="448.50" y1="228.92" x2="448.50" y2="232.05" stroke="#1a1a1a" stroke-width="1.1"/>
<line x1="446.77" y1="228.92" x2="450.23" y2="228.92" stroke="#1a1a1a" stroke-width="1.1"/>
<rect x="445.30" y="232.05" width="7.20" height="18.15" fill="#a4002b" stroke="#8e0022" stroke-width="0.5"/>
<line x1="460.50" y1="192.92" x2="460.50" y2="197.30" stroke="#1a1a1a" stroke-width="1.1"/>
<line x1="458.77" y1="192.92" x2="462.23" y2="192.92" stroke="#1a1a1a" stroke-width="1.1"/>
<rect x="456.75" y="197.30" width="7.20" height="52.90" fill="#a4002b" stroke="#8e0022" stroke-width="0.5"/>
<line x1="471.50" y1="240.97" x2="471.50" y2="242.69" stroke="#1a1a1a" stroke-width="1.1"/>
<line x1="469.77" y1="240.97" x2="473.23" y2="240.97" stroke="#1a1a1a" stroke-width="1.1"/>
<rect x="468.20" y="242.69" width="7.20" height="7.51" fill="#2d4b80" stroke="#1b3a75" stroke-width="0.5"/>
<line x1="483.50" y1="244.10" x2="483.50" y2="244.41" stroke="#1a1a1a" stroke-width="1.1"/>
<line x1="481.77" y1="244.10" x2="485.23" y2="244.10" stroke="#1a1a1a" stroke-width="1.1"/>
<rect x="479.65" y="244.41" width="7.20" height="5.79" fill="#2d4b80" stroke="#1b3a75" stroke-width="0.5"/>
<line x1="494.50" y1="244.88" x2="494.50" y2="246.29" stroke="#1a1a1a" stroke-width="1.1"/>
<line x1="492.77" y1="244.88" x2="496.23" y2="244.88" stroke="#1a1a1a" stroke-width="1.1"/>
<rect x="491.10" y="246.29" width="7.20" height="3.91" fill="#2d4b80" stroke="#1b3a75" stroke-width="0.5"/>
<line x1="506.50" y1="240.34" x2="506.50" y2="241.59" stroke="#1a1a1a" stroke-width="1.1"/>
<line x1="504.77" y1="240.34" x2="508.23" y2="240.34" stroke="#1a1a1a" stroke-width="1.1"/>
<rect x="502.55" y="241.59" width="7.20" height="8.61" fill="#2d4b80" stroke="#1b3a75" stroke-width="0.5"/>
<line x1="419.75" y1="250.20" x2="513.10" y2="250.20" stroke="#111" stroke-width="1.5"/>
<line x1="426.00" y1="250.20" x2="426.00" y2="253.30" stroke="#222" stroke-width="1.0"/>
<line x1="437.45" y1="250.20" x2="437.45" y2="253.30" stroke="#222" stroke-width="1.0"/>
<line x1="448.90" y1="250.20" x2="448.90" y2="253.30" stroke="#222" stroke-width="1.0"/>
<line x1="460.35" y1="250.20" x2="460.35" y2="253.30" stroke="#222" stroke-width="1.0"/>
<line x1="471.80" y1="250.20" x2="471.80" y2="253.30" stroke="#222" stroke-width="1.0"/>
<line x1="483.25" y1="250.20" x2="483.25" y2="253.30" stroke="#222" stroke-width="1.0"/>
<line x1="494.70" y1="250.20" x2="494.70" y2="253.30" stroke="#222" stroke-width="1.0"/>
<line x1="506.15" y1="250.20" x2="506.15" y2="253.30" stroke="#222" stroke-width="1.0"/>
<text x="399.30" y="221.17" font-size="8.80" text-anchor="middle" stroke="#1e1e1e" stroke-width="0.12" textLength="68.90" lengthAdjust="spacingAndGlyphs" transform="rotate(-90 399.30 218.00)">Relative density (x-fold)</text>
<line x1="426.00" y1="210.40" x2="437.20" y2="210.40" stroke="#444" stroke-width="1.1"/>
<text x="431.60" y="210.06" font-size="6.00" text-anchor="middle" fill="#222" stroke="#222" stroke-width="0.15">***</text>
<line x1="437.60" y1="192.20" x2="461.40" y2="192.20" stroke="#222" stroke-width="1.1"/>
<text x="449.50" y="191.86" font-size="6.00" text-anchor="middle" fill="#222" stroke="#222" stroke-width="0.15">*</text>
<line x1="461.40" y1="192.20" x2="461.40" y2="194.20" stroke="#222" stroke-width="1.0"/>
<line x1="449.20" y1="174.00" x2="495.00" y2="174.00" stroke="#444" stroke-width="1.1"/>
<text x="472.10" y="173.66" font-size="6.00" text-anchor="middle" fill="#222" stroke="#222" stroke-width="0.15">***</text>
<line x1="449.20" y1="181.80" x2="471.80" y2="181.80" stroke="#444" stroke-width="1.1"/>
<text x="460.50" y="181.46" font-size="6.00" text-anchor="middle" fill="#222" stroke="#222" stroke-width="0.15">***</text>
<line x1="463.00" y1="189.00" x2="506.00" y2="189.00" stroke="#444" stroke-width="1.1"/>
<text x="484.50" y="188.66" font-size="6.00" text-anchor="middle" fill="#222" stroke="#222" stroke-width="0.15">***</text>
<text x="428.90" y="259.20" font-size="6.8" text-anchor="end" stroke="#1e1e1e" stroke-width="0.1" textLength="9.73" lengthAdjust="spacingAndGlyphs" transform="rotate(-45 428.90 259.20)">WT</text>
<text x="440.35" y="259.20" font-size="6.8" text-anchor="end" stroke="#1e1e1e" stroke-width="0.1" textLength="28.73" lengthAdjust="spacingAndGlyphs" transform="rotate(-45 440.35 259.20)">WT pRGD</text>
<text x="451.80" y="259.20" font-size="6.8" text-anchor="end" stroke="#1e1e1e" stroke-width="0.1" textLength="40.91" lengthAdjust="spacingAndGlyphs" transform="rotate(-45 451.80 259.20)">WT 0.65x PBS</text>
<text x="463.25" y="259.20" font-size="6.8" text-anchor="end" stroke="#1e1e1e" stroke-width="0.1" textLength="60.03" lengthAdjust="spacingAndGlyphs" transform="rotate(-45 463.25 259.20)">WT 0.65x PBS pRGD</text>
<text x="474.70" y="259.20" font-size="6.8" text-anchor="end" stroke="#1e1e1e" stroke-width="0.1" textLength="16.34" lengthAdjust="spacingAndGlyphs" transform="rotate(-45 474.70 259.20)">Sell-/-</text>
<text x="486.15" y="259.20" font-size="6.8" text-anchor="end" stroke="#1e1e1e" stroke-width="0.1" textLength="35.45" lengthAdjust="spacingAndGlyphs" transform="rotate(-45 486.15 259.20)">Sell-/- pRGD</text>
<text x="497.60" y="259.20" font-size="6.8" text-anchor="end" stroke="#1e1e1e" stroke-width="0.1" textLength="47.63" lengthAdjust="spacingAndGlyphs" transform="rotate(-45 497.60 259.20)">Sell-/- 0.65x PBS</text>
<text x="509.05" y="259.20" font-size="6.8" text-anchor="end" stroke="#1e1e1e" stroke-width="0.1" textLength="66.75" lengthAdjust="spacingAndGlyphs" transform="rotate(-45 509.05 259.20)">Sell-/- 0.65x PBS pRGD</text>
<text transform="translate(7.00 338.10) scale(1.039 1)" font-size="11.6" font-weight="bold" fill="#000" stroke="#000" stroke-width="0.12">H</text>
<text x="102.20" y="336.77" font-size="8.80" text-anchor="middle" stroke="#1e1e1e" stroke-width="0.05" textLength="59.70" lengthAdjust="spacingAndGlyphs">L-selectin ELISA</text>
<line x1="32.00" y1="344.70" x2="32.00" y2="440.60" stroke="#111" stroke-width="1.5"/>
<line x1="29.30" y1="440.60" x2="32.00" y2="440.60" stroke="#333" stroke-width="0.9"/>
<text x="26.20" y="442.98" font-size="6.60" text-anchor="end" stroke="#1e1e1e" stroke-width="0.12">0</text>
<line x1="29.30" y1="409.40" x2="32.00" y2="409.40" stroke="#333" stroke-width="0.9"/>
<text x="26.20" y="411.78" font-size="6.60" text-anchor="end" stroke="#1e1e1e" stroke-width="0.12">2</text>
<line x1="29.30" y1="378.20" x2="32.00" y2="378.20" stroke="#333" stroke-width="0.9"/>
<text x="26.20" y="380.58" font-size="6.60" text-anchor="end" stroke="#1e1e1e" stroke-width="0.12">4</text>
<line x1="29.30" y1="347.00" x2="32.00" y2="347.00" stroke="#333" stroke-width="0.9"/>
<text x="26.20" y="349.38" font-size="6.60" text-anchor="end" stroke="#1e1e1e" stroke-width="0.12">6</text>
<rect x="34.75" y="425.00" width="9.90" height="15.60" fill="#a4002b" stroke="#8e0022" stroke-width="0.5"/>
<line x1="55.50" y1="391.77" x2="55.50" y2="401.29" stroke="#1a1a1a" stroke-width="1.1"/>
<line x1="53.12" y1="391.77" x2="57.88" y2="391.77" stroke="#1a1a1a" stroke-width="1.1"/>
<rect x="50.20" y="401.29" width="9.90" height="39.31" fill="#a4002b" stroke="#8e0022" stroke-width="0.5"/>
<line x1="70.50" y1="356.67" x2="70.50" y2="370.56" stroke="#1a1a1a" stroke-width="1.1"/>
<line x1="68.12" y1="356.67" x2="72.88" y2="356.67" stroke="#1a1a1a" stroke-width="1.1"/>
<rect x="65.65" y="370.56" width="9.90" height="70.04" fill="#6aa444" stroke="#5f9a3c" stroke-width="0.5"/>
<line x1="116.50" y1="423.60" x2="116.50" y2="429.37" stroke="#1a1a1a" stroke-width="1.1"/>
<line x1="114.12" y1="423.60" x2="118.88" y2="423.60" stroke="#1a1a1a" stroke-width="1.1"/>
<rect x="112.00" y="429.37" width="9.90" height="11.23" fill="#2d4b80" stroke="#1b3a75" stroke-width="0.5"/>
<line x1="132.50" y1="404.72" x2="132.50" y2="406.28" stroke="#1a1a1a" stroke-width="1.1"/>
<line x1="130.12" y1="404.72" x2="134.88" y2="404.72" stroke="#1a1a1a" stroke-width="1.1"/>
<rect x="127.45" y="406.28" width="9.90" height="34.32" fill="#2d4b80" stroke="#1b3a75" stroke-width="0.5"/>
<line x1="147.50" y1="430.93" x2="147.50" y2="433.27" stroke="#1a1a1a" stroke-width="1.1"/>
<line x1="145.12" y1="430.93" x2="149.88" y2="430.93" stroke="#1a1a1a" stroke-width="1.1"/>
<rect x="142.90" y="433.27" width="9.90" height="7.33" fill="#2d4b80" stroke="#1b3a75" stroke-width="0.5"/>
<line x1="163.50" y1="424.53" x2="163.50" y2="427.81" stroke="#1a1a1a" stroke-width="1.1"/>
<line x1="161.12" y1="424.53" x2="165.88" y2="424.53" stroke="#1a1a1a" stroke-width="1.1"/>
<rect x="158.35" y="427.81" width="9.90" height="12.79" fill="#2d4b80" stroke="#1b3a75" stroke-width="0.5"/>
<line x1="31.25" y1="440.60" x2="171.10" y2="440.60" stroke="#111" stroke-width="1.5"/>
<line x1="39.70" y1="440.60" x2="39.70" y2="443.70" stroke="#222" stroke-width="1.0"/>
<line x1="55.15" y1="440.60" x2="55.15" y2="443.70" stroke="#222" stroke-width="1.0"/>
<line x1="70.60" y1="440.60" x2="70.60" y2="443.70" stroke="#222" stroke-width="1.0"/>
<line x1="86.05" y1="440.60" x2="86.05" y2="443.70" stroke="#222" stroke-width="1.0"/>
<line x1="101.50" y1="440.60" x2="101.50" y2="443.70" stroke="#222" stroke-width="1.0"/>
<line x1="116.95" y1="440.60" x2="116.95" y2="443.70" stroke="#222" stroke-width="1.0"/>
<line x1="132.40" y1="440.60" x2="132.40" y2="443.70" stroke="#222" stroke-width="1.0"/>
<line x1="147.85" y1="440.60" x2="147.85" y2="443.70" stroke="#222" stroke-width="1.0"/>
<line x1="163.30" y1="440.60" x2="163.30" y2="443.70" stroke="#222" stroke-width="1.0"/>
<text x="15.20" y="395.58" font-size="8.00" text-anchor="middle" stroke="#1e1e1e" stroke-width="0.12" textLength="19.50" lengthAdjust="spacingAndGlyphs" transform="rotate(-90 15.20 392.70)">x-fold</text>
<line x1="34.20" y1="386.20" x2="56.90" y2="386.20" stroke="#444" stroke-width="1.1"/>
<text x="45.55" y="385.86" font-size="6.00" text-anchor="middle" fill="#222" stroke="#222" stroke-width="0.15">**</text>
<line x1="34.20" y1="353.90" x2="72.30" y2="353.90" stroke="#444" stroke-width="1.1"/>
<text x="53.25" y="353.56" font-size="6.00" text-anchor="middle" fill="#222" stroke="#222" stroke-width="0.15">***</text>
<line x1="49.20" y1="346.10" x2="72.30" y2="346.10" stroke="#444" stroke-width="1.1"/>
<text x="60.75" y="345.76" font-size="6.00" text-anchor="middle" fill="#222" stroke="#222" stroke-width="0.15">***</text>
<line x1="115.20" y1="401.60" x2="130.80" y2="401.60" stroke="#444" stroke-width="1.1"/>
<text x="123.00" y="401.26" font-size="6.00" text-anchor="middle" fill="#222" stroke="#222" stroke-width="0.15">**</text>
<line x1="131.50" y1="392.50" x2="164.60" y2="392.50" stroke="#444" stroke-width="1.1"/>
<text x="148.05" y="392.16" font-size="6.00" text-anchor="middle" fill="#222" stroke="#222" stroke-width="0.15">**</text>
<text x="43.10" y="449.80" font-size="6.8" text-anchor="end" stroke="#1e1e1e" stroke-width="0.1" textLength="30.75" lengthAdjust="spacingAndGlyphs" transform="rotate(-45 43.10 449.80)">WT unstim</text>
<text x="58.55" y="449.80" font-size="6.8" text-anchor="end" stroke="#1e1e1e" stroke-width="0.1" textLength="29.67" lengthAdjust="spacingAndGlyphs" transform="rotate(-45 58.55 449.80)">WT pRGD</text>
<text x="74.00" y="449.80" font-size="6.8" text-anchor="end" stroke="#1e1e1e" stroke-width="0.1" textLength="19.39" lengthAdjust="spacingAndGlyphs" transform="rotate(-45 74.00 449.80)">pos ctr</text>
<text x="89.45" y="449.80" font-size="6.8" text-anchor="end" stroke="#1e1e1e" stroke-width="0.1" textLength="22.98" lengthAdjust="spacingAndGlyphs" transform="rotate(-45 89.45 449.80)">Lsel KO</text>
<text x="104.90" y="449.80" font-size="6.8" text-anchor="end" stroke="#1e1e1e" stroke-width="0.1" textLength="42.72" lengthAdjust="spacingAndGlyphs" transform="rotate(-45 104.90 449.80)">Lsel KO pRGD</text>
<text x="120.35" y="449.80" font-size="6.8" text-anchor="end" stroke="#1e1e1e" stroke-width="0.1" textLength="31.10" lengthAdjust="spacingAndGlyphs" transform="rotate(-45 120.35 449.80)">WT DMSO</text>
<text x="135.80" y="449.80" font-size="6.8" text-anchor="end" stroke="#1e1e1e" stroke-width="0.1" textLength="50.84" lengthAdjust="spacingAndGlyphs" transform="rotate(-45 135.80 449.80)">WT DMSO pRGD</text>
<text x="151.25" y="449.80" font-size="6.8" text-anchor="end" stroke="#1e1e1e" stroke-width="0.1" textLength="36.50" lengthAdjust="spacingAndGlyphs" transform="rotate(-45 151.25 449.80)">WT GM6001</text>
<text x="166.70" y="449.80" font-size="6.8" text-anchor="end" stroke="#1e1e1e" stroke-width="0.1" textLength="56.24" lengthAdjust="spacingAndGlyphs" transform="rotate(-45 166.70 449.80)">WT pRGD GM6001</text>
<text transform="translate(351.75 338.40) scale(0.838 1)" font-size="11.6" font-weight="bold" fill="#000" stroke="#000" stroke-width="0.12">J</text>
<text x="420.10" y="370.64" font-size="9.00" text-anchor="middle" stroke="#1e1e1e" stroke-width="0.05" textLength="24.60" lengthAdjust="spacingAndGlyphs">PLC&#947;2</text>
<line x1="373.80" y1="376.20" x2="373.80" y2="440.40" stroke="#111" stroke-width="1.5"/>
<line x1="371.10" y1="440.40" x2="373.80" y2="440.40" stroke="#333" stroke-width="0.9"/>
<text x="367.80" y="442.52" font-size="5.90" text-anchor="end" stroke="#1e1e1e" stroke-width="0.12">0</text>
<line x1="371.10" y1="419.80" x2="373.80" y2="419.80" stroke="#333" stroke-width="0.9"/>
<text x="367.80" y="421.92" font-size="5.90" text-anchor="end" stroke="#1e1e1e" stroke-width="0.12">2</text>
<line x1="371.10" y1="399.20" x2="373.80" y2="399.20" stroke="#333" stroke-width="0.9"/>
<text x="367.80" y="401.32" font-size="5.90" text-anchor="end" stroke="#1e1e1e" stroke-width="0.12">4</text>
<line x1="371.10" y1="378.60" x2="373.80" y2="378.60" stroke="#333" stroke-width="0.9"/>
<text x="367.80" y="380.72" font-size="5.90" text-anchor="end" stroke="#1e1e1e" stroke-width="0.12">6</text>
<rect x="377.75" y="430.61" width="14.10" height="9.79" fill="#a4002b" stroke="#8e0022" stroke-width="0.5"/>
<line x1="408.50" y1="384.57" x2="408.50" y2="391.37" stroke="#1a1a1a" stroke-width="1.1"/>
<line x1="405.12" y1="384.57" x2="411.88" y2="384.57" stroke="#1a1a1a" stroke-width="1.1"/>
<rect x="401.05" y="391.37" width="14.10" height="49.03" fill="#a4002b" stroke="#8e0022" stroke-width="0.5"/>
<line x1="431.50" y1="424.64" x2="431.50" y2="428.14" stroke="#1a1a1a" stroke-width="1.1"/>
<line x1="428.12" y1="424.64" x2="434.88" y2="424.64" stroke="#1a1a1a" stroke-width="1.1"/>
<rect x="424.15" y="428.14" width="14.10" height="12.26" fill="#2d4b80" stroke="#1b3a75" stroke-width="0.5"/>
<line x1="454.50" y1="410.53" x2="454.50" y2="416.50" stroke="#1a1a1a" stroke-width="1.1"/>
<line x1="451.12" y1="410.53" x2="457.88" y2="410.53" stroke="#1a1a1a" stroke-width="1.1"/>
<rect x="447.25" y="416.50" width="14.10" height="23.90" fill="#2d4b80" stroke="#1b3a75" stroke-width="0.5"/>
<line x1="373.05" y1="440.40" x2="465.70" y2="440.40" stroke="#111" stroke-width="1.5"/>
<line x1="384.80" y1="440.40" x2="384.80" y2="443.50" stroke="#222" stroke-width="1.0"/>
<line x1="408.10" y1="440.40" x2="408.10" y2="443.50" stroke="#222" stroke-width="1.0"/>
<line x1="431.20" y1="440.40" x2="431.20" y2="443.50" stroke="#222" stroke-width="1.0"/>
<line x1="454.30" y1="440.40" x2="454.30" y2="443.50" stroke="#222" stroke-width="1.0"/>
<text x="355.50" y="410.85" font-size="8.20" text-anchor="middle" stroke="#1e1e1e" stroke-width="0.12" textLength="68.80" lengthAdjust="spacingAndGlyphs" transform="rotate(-90 355.50 407.90)">Relative density (x-fold)</text>
<line x1="386.50" y1="381.10" x2="406.20" y2="381.10" stroke="#444" stroke-width="1.1"/>
<text x="396.35" y="380.76" font-size="6.00" text-anchor="middle" fill="#222" stroke="#222" stroke-width="0.15">**</text>
<line x1="410.30" y1="381.10" x2="453.00" y2="381.10" stroke="#444" stroke-width="1.1"/>
<text x="431.65" y="380.76" font-size="6.00" text-anchor="middle" fill="#222" stroke="#222" stroke-width="0.15">*</text>
<text x="388.40" y="449.20" font-size="7.3" text-anchor="end" stroke="#1e1e1e" stroke-width="0.1" textLength="19.93" lengthAdjust="spacingAndGlyphs" transform="rotate(-45 388.40 449.20)">DMSO</text>
<text x="411.70" y="449.20" font-size="7.3" text-anchor="end" stroke="#1e1e1e" stroke-width="0.1" textLength="40.23" lengthAdjust="spacingAndGlyphs" transform="rotate(-45 411.70 449.20)">DMSO pRGD</text>
<text x="434.80" y="449.20" font-size="7.3" text-anchor="end" stroke="#1e1e1e" stroke-width="0.1" textLength="25.48" lengthAdjust="spacingAndGlyphs" transform="rotate(-45 434.80 449.20)">GM6001</text>
<text x="457.90" y="449.20" font-size="7.3" text-anchor="end" stroke="#1e1e1e" stroke-width="0.1" textLength="45.78" lengthAdjust="spacingAndGlyphs" transform="rotate(-45 457.90 449.20)">GM6001 pRGD</text>
<text transform="translate(6.95 514.30) scale(0.986 1)" font-size="11.6" font-weight="bold" fill="#000" stroke="#000" stroke-width="0.12">K</text>
<text x="78.80" y="527.44" font-size="9.00" text-anchor="middle" stroke="#1e1e1e" stroke-width="0.05" textLength="13.20" lengthAdjust="spacingAndGlyphs">Syk</text>
<line x1="31.75" y1="532.00" x2="31.75" y2="595.90" stroke="#111" stroke-width="1.5"/>
<line x1="29.05" y1="595.90" x2="31.75" y2="595.90" stroke="#333" stroke-width="0.9"/>
<text x="26.25" y="598.02" font-size="5.90" text-anchor="end" stroke="#1e1e1e" stroke-width="0.12">0</text>
<line x1="29.05" y1="583.55" x2="31.75" y2="583.55" stroke="#333" stroke-width="0.9"/>
<text x="26.25" y="585.67" font-size="5.90" text-anchor="end" stroke="#1e1e1e" stroke-width="0.12">5</text>
<line x1="29.05" y1="571.20" x2="31.75" y2="571.20" stroke="#333" stroke-width="0.9"/>
<text x="26.25" y="573.32" font-size="5.90" text-anchor="end" stroke="#1e1e1e" stroke-width="0.12">10</text>
<line x1="29.05" y1="558.85" x2="31.75" y2="558.85" stroke="#333" stroke-width="0.9"/>
<text x="26.25" y="560.97" font-size="5.90" text-anchor="end" stroke="#1e1e1e" stroke-width="0.12">15</text>
<line x1="29.05" y1="546.50" x2="31.75" y2="546.50" stroke="#333" stroke-width="0.9"/>
<text x="26.25" y="548.62" font-size="5.90" text-anchor="end" stroke="#1e1e1e" stroke-width="0.12">20</text>
<line x1="29.05" y1="534.15" x2="31.75" y2="534.15" stroke="#333" stroke-width="0.9"/>
<text x="26.25" y="536.27" font-size="5.90" text-anchor="end" stroke="#1e1e1e" stroke-width="0.12">25</text>
<rect x="36.50" y="593.92" width="15.00" height="1.98" fill="#a4002b" stroke="#8e0022" stroke-width="0.5"/>
<line x1="67.50" y1="548.72" x2="67.50" y2="554.65" stroke="#1a1a1a" stroke-width="1.1"/>
<line x1="63.90" y1="548.72" x2="71.10" y2="548.72" stroke="#1a1a1a" stroke-width="1.1"/>
<rect x="60.25" y="554.65" width="15.00" height="41.25" fill="#a4002b" stroke="#8e0022" stroke-width="0.5"/>
<line x1="91.50" y1="591.70" x2="91.50" y2="592.94" stroke="#1a1a1a" stroke-width="1.1"/>
<line x1="87.90" y1="591.70" x2="95.10" y2="591.70" stroke="#1a1a1a" stroke-width="1.1"/>
<rect x="84.00" y="592.94" width="15.00" height="2.96" fill="#2d4b80" stroke="#1b3a75" stroke-width="0.5"/>
<line x1="115.50" y1="574.90" x2="115.50" y2="578.61" stroke="#1a1a1a" stroke-width="1.1"/>
<line x1="111.90" y1="574.90" x2="119.10" y2="574.90" stroke="#1a1a1a" stroke-width="1.1"/>
<rect x="107.75" y="578.61" width="15.00" height="17.29" fill="#2d4b80" stroke="#1b3a75" stroke-width="0.5"/>
<line x1="31.00" y1="595.90" x2="126.50" y2="595.90" stroke="#111" stroke-width="1.5"/>
<line x1="44.00" y1="595.90" x2="44.00" y2="599.00" stroke="#222" stroke-width="1.0"/>
<line x1="67.75" y1="595.90" x2="67.75" y2="599.00" stroke="#222" stroke-width="1.0"/>
<line x1="91.50" y1="595.90" x2="91.50" y2="599.00" stroke="#222" stroke-width="1.0"/>
<line x1="115.25" y1="595.90" x2="115.25" y2="599.00" stroke="#222" stroke-width="1.0"/>
<text x="10.80" y="566.49" font-size="8.30" text-anchor="middle" stroke="#1e1e1e" stroke-width="0.12" textLength="68.80" lengthAdjust="spacingAndGlyphs" transform="rotate(-90 10.80 563.50)">Relative density (x-fold)</text>
<line x1="40.00" y1="540.50" x2="65.50" y2="540.50" stroke="#444" stroke-width="1.1"/>
<text x="52.75" y="540.16" font-size="6.00" text-anchor="middle" fill="#222" stroke="#222" stroke-width="0.15">***</text>
<line x1="71.75" y1="540.50" x2="121.75" y2="540.50" stroke="#444" stroke-width="1.1"/>
<text x="96.75" y="540.16" font-size="6.00" text-anchor="middle" fill="#222" stroke="#222" stroke-width="0.15">**</text>
<text x="47.60" y="604.70" font-size="7.3" text-anchor="end" stroke="#1e1e1e" stroke-width="0.1" textLength="19.93" lengthAdjust="spacingAndGlyphs" transform="rotate(-45 47.60 604.70)">DMSO</text>
<text x="71.35" y="604.70" font-size="7.3" text-anchor="end" stroke="#1e1e1e" stroke-width="0.1" textLength="40.23" lengthAdjust="spacingAndGlyphs" transform="rotate(-45 71.35 604.70)">DMSO pRGD</text>
<text x="95.10" y="604.70" font-size="7.3" text-anchor="end" stroke="#1e1e1e" stroke-width="0.1" textLength="25.48" lengthAdjust="spacingAndGlyphs" transform="rotate(-45 95.10 604.70)">GM6001</text>
<text x="118.85" y="604.70" font-size="7.3" text-anchor="end" stroke="#1e1e1e" stroke-width="0.1" textLength="45.78" lengthAdjust="spacingAndGlyphs" transform="rotate(-45 118.85 604.70)">GM6001 pRGD</text>
<text transform="translate(136.63 514.40) scale(0.870 1)" font-size="11.6" font-weight="bold" fill="#000" stroke="#000" stroke-width="0.12">L</text>
<text x="209.50" y="527.44" font-size="9.00" text-anchor="middle" stroke="#1e1e1e" stroke-width="0.05" textLength="13.00" lengthAdjust="spacingAndGlyphs">Akt</text>
<line x1="161.75" y1="534.25" x2="161.75" y2="595.90" stroke="#111" stroke-width="1.5"/>
<line x1="159.05" y1="595.90" x2="161.75" y2="595.90" stroke="#333" stroke-width="0.9"/>
<text x="156.25" y="598.02" font-size="5.90" text-anchor="end" stroke="#1e1e1e" stroke-width="0.12">0</text>
<line x1="159.05" y1="581.20" x2="161.75" y2="581.20" stroke="#333" stroke-width="0.9"/>
<text x="156.25" y="583.32" font-size="5.90" text-anchor="end" stroke="#1e1e1e" stroke-width="0.12">5</text>
<line x1="159.05" y1="566.50" x2="161.75" y2="566.50" stroke="#333" stroke-width="0.9"/>
<text x="156.25" y="568.62" font-size="5.90" text-anchor="end" stroke="#1e1e1e" stroke-width="0.12">10</text>
<line x1="159.05" y1="551.80" x2="161.75" y2="551.80" stroke="#333" stroke-width="0.9"/>
<text x="156.25" y="553.92" font-size="5.90" text-anchor="end" stroke="#1e1e1e" stroke-width="0.12">15</text>
<line x1="159.05" y1="537.10" x2="161.75" y2="537.10" stroke="#333" stroke-width="0.9"/>
<text x="156.25" y="539.22" font-size="5.90" text-anchor="end" stroke="#1e1e1e" stroke-width="0.12">20</text>
<line x1="172.50" y1="592.67" x2="172.50" y2="593.55" stroke="#1a1a1a" stroke-width="1.1"/>
<line x1="169.19" y1="592.67" x2="175.81" y2="592.67" stroke="#1a1a1a" stroke-width="1.1"/>
<rect x="166.00" y="593.55" width="13.80" height="2.35" fill="#a4002b" stroke="#8e0022" stroke-width="0.5"/>
<line x1="195.50" y1="546.51" x2="195.50" y2="557.39" stroke="#1a1a1a" stroke-width="1.1"/>
<line x1="192.19" y1="546.51" x2="198.81" y2="546.51" stroke="#1a1a1a" stroke-width="1.1"/>
<rect x="188.50" y="557.39" width="13.80" height="38.51" fill="#a4002b" stroke="#8e0022" stroke-width="0.5"/>
<line x1="217.50" y1="592.67" x2="217.50" y2="593.55" stroke="#1a1a1a" stroke-width="1.1"/>
<line x1="214.19" y1="592.67" x2="220.81" y2="592.67" stroke="#1a1a1a" stroke-width="1.1"/>
<rect x="210.60" y="593.55" width="13.80" height="2.35" fill="#2d4b80" stroke="#1b3a75" stroke-width="0.5"/>
<line x1="239.50" y1="582.96" x2="239.50" y2="587.37" stroke="#1a1a1a" stroke-width="1.1"/>
<line x1="236.19" y1="582.96" x2="242.81" y2="582.96" stroke="#1a1a1a" stroke-width="1.1"/>
<rect x="232.85" y="587.37" width="13.80" height="8.53" fill="#2d4b80" stroke="#1b3a75" stroke-width="0.5"/>
<line x1="161.00" y1="595.90" x2="251.25" y2="595.90" stroke="#111" stroke-width="1.5"/>
<line x1="172.90" y1="595.90" x2="172.90" y2="599.00" stroke="#222" stroke-width="1.0"/>
<line x1="195.40" y1="595.90" x2="195.40" y2="599.00" stroke="#222" stroke-width="1.0"/>
<line x1="217.50" y1="595.90" x2="217.50" y2="599.00" stroke="#222" stroke-width="1.0"/>
<line x1="239.75" y1="595.90" x2="239.75" y2="599.00" stroke="#222" stroke-width="1.0"/>
<text x="141.40" y="567.29" font-size="8.30" text-anchor="middle" stroke="#1e1e1e" stroke-width="0.12" textLength="68.80" lengthAdjust="spacingAndGlyphs" transform="rotate(-90 141.40 564.30)">Relative density (x-fold)</text>
<line x1="170.50" y1="541.75" x2="195.50" y2="541.75" stroke="#444" stroke-width="1.1"/>
<text x="183.00" y="541.41" font-size="6.00" text-anchor="middle" fill="#222" stroke="#222" stroke-width="0.15">*</text>
<line x1="198.00" y1="541.75" x2="248.75" y2="541.75" stroke="#444" stroke-width="1.1"/>
<text x="223.38" y="541.41" font-size="6.00" text-anchor="middle" fill="#222" stroke="#222" stroke-width="0.15">*</text>
<text x="176.50" y="604.70" font-size="7.3" text-anchor="end" stroke="#1e1e1e" stroke-width="0.1" textLength="19.93" lengthAdjust="spacingAndGlyphs" transform="rotate(-45 176.50 604.70)">DMSO</text>
<text x="199.00" y="604.70" font-size="7.3" text-anchor="end" stroke="#1e1e1e" stroke-width="0.1" textLength="40.23" lengthAdjust="spacingAndGlyphs" transform="rotate(-45 199.00 604.70)">DMSO pRGD</text>
<text x="221.10" y="604.70" font-size="7.3" text-anchor="end" stroke="#1e1e1e" stroke-width="0.1" textLength="25.48" lengthAdjust="spacingAndGlyphs" transform="rotate(-45 221.10 604.70)">GM6001</text>
<text x="243.35" y="604.70" font-size="7.3" text-anchor="end" stroke="#1e1e1e" stroke-width="0.1" textLength="45.78" lengthAdjust="spacingAndGlyphs" transform="rotate(-45 243.35 604.70)">GM6001 pRGD</text>
<text transform="translate(260.45 514.40) scale(1.107 1)" font-size="11.6" font-weight="bold" fill="#000" stroke="#000" stroke-width="0.12">M</text>
<line x1="285.50" y1="532.50" x2="285.50" y2="595.90" stroke="#111" stroke-width="1.5"/>
<line x1="282.80" y1="595.90" x2="285.50" y2="595.90" stroke="#333" stroke-width="0.9"/>
<text x="279.90" y="598.20" font-size="6.40" text-anchor="end" stroke="#1e1e1e" stroke-width="0.12">0</text>
<line x1="282.80" y1="577.40" x2="285.50" y2="577.40" stroke="#333" stroke-width="0.9"/>
<text x="279.90" y="579.70" font-size="6.40" text-anchor="end" stroke="#1e1e1e" stroke-width="0.12">5</text>
<line x1="282.80" y1="558.90" x2="285.50" y2="558.90" stroke="#333" stroke-width="0.9"/>
<text x="279.90" y="561.20" font-size="6.40" text-anchor="end" stroke="#1e1e1e" stroke-width="0.12">10</text>
<line x1="282.80" y1="540.40" x2="285.50" y2="540.40" stroke="#333" stroke-width="0.9"/>
<text x="279.90" y="542.70" font-size="6.40" text-anchor="end" stroke="#1e1e1e" stroke-width="0.12">15</text>
<rect x="289.40" y="592.20" width="15.00" height="3.70" fill="#a4002b" stroke="#8e0022" stroke-width="0.5"/>
<line x1="316.50" y1="591.46" x2="316.50" y2="592.20" stroke="#1a1a1a" stroke-width="1.1"/>
<line x1="312.90" y1="591.46" x2="320.10" y2="591.46" stroke="#1a1a1a" stroke-width="1.1"/>
<rect x="309.00" y="592.20" width="15.00" height="3.70" fill="#3a6650" stroke="#2b5a42" stroke-width="0.5"/>
<line x1="335.50" y1="538.55" x2="335.50" y2="547.43" stroke="#1a1a1a" stroke-width="1.1"/>
<line x1="331.90" y1="538.55" x2="339.10" y2="538.55" stroke="#1a1a1a" stroke-width="1.1"/>
<rect x="328.40" y="547.43" width="15.00" height="48.47" fill="#a4002b" stroke="#8e0022" stroke-width="0.5"/>
<line x1="355.50" y1="562.97" x2="355.50" y2="567.41" stroke="#1a1a1a" stroke-width="1.1"/>
<line x1="351.90" y1="562.97" x2="359.10" y2="562.97" stroke="#1a1a1a" stroke-width="1.1"/>
<rect x="347.75" y="567.41" width="15.00" height="28.49" fill="#3a6650" stroke="#2b5a42" stroke-width="0.5"/>
<line x1="284.75" y1="595.90" x2="375.00" y2="595.90" stroke="#111" stroke-width="1.5"/>
<line x1="282.90" y1="595.90" x2="285.50" y2="595.90" stroke="#111" stroke-width="1.5"/>
<text x="306.80" y="604.92" font-size="7.00" text-anchor="middle" stroke="#1e1e1e" stroke-width="0.12">ice</text>
<text x="345.60" y="604.92" font-size="7.00" text-anchor="middle" stroke="#1e1e1e" stroke-width="0.12" textLength="19.60" lengthAdjust="spacingAndGlyphs">60 min</text>
<text x="264.90" y="566.68" font-size="8.00" text-anchor="middle" stroke="#1e1e1e" stroke-width="0.12" textLength="35.00" lengthAdjust="spacingAndGlyphs" transform="rotate(-90 264.90 563.80)">MFI (x-fold)</text>
<rect x="289.25" y="537.00" width="5.80" height="3.40" fill="#a4002b"/>
<text x="298.00" y="540.89" font-size="5.80" stroke="#1e1e1e" stroke-width="0.04" textLength="21.00" lengthAdjust="spacingAndGlyphs">Wildtype</text>
<rect x="289.25" y="542.60" width="5.80" height="3.40" fill="#3a6650"/>
<text x="298.00" y="546.49" font-size="5.80" stroke="#1e1e1e" stroke-width="0.04" textLength="26.40" lengthAdjust="spacingAndGlyphs">L(E) mutant</text>
<line x1="318.00" y1="516.25" x2="360.50" y2="516.25" stroke="#444" stroke-width="1.1"/>
<text x="339.25" y="515.91" font-size="6.00" text-anchor="middle" fill="#222" stroke="#222" stroke-width="0.15">**</text>
<line x1="296.00" y1="525.50" x2="338.50" y2="525.50" stroke="#444" stroke-width="1.1"/>
<text x="317.25" y="525.16" font-size="6.00" text-anchor="middle" fill="#222" stroke="#222" stroke-width="0.15">***</text>
<line x1="336.75" y1="531.25" x2="361.00" y2="531.25" stroke="#444" stroke-width="1.1"/>
<text x="348.88" y="530.91" font-size="6.00" text-anchor="middle" fill="#222" stroke="#222" stroke-width="0.15">*</text>
<rect x="7.00" y="157.00" width="108.00" height="18.70" fill="#8b8b8b"/>
<rect x="7.00" y="177.20" width="108.00" height="18.40" fill="#888888"/>
<rect x="7.00" y="197.70" width="108.00" height="18.20" fill="#e2e2e2"/>
<rect x="7.00" y="218.30" width="108.00" height="18.10" fill="#8f8f8f"/>
<rect x="7.00" y="239.10" width="108.00" height="17.50" fill="#8b8b8b"/>
<rect x="7.00" y="259.10" width="108.00" height="18.50" fill="#929292"/>
<rect x="22.75" y="164.40" width="9.50" height="2.00" rx="1.71" ry="1.00" fill="#111" opacity="0.45" filter="url(#bl)"/>
<rect x="36.10" y="164.40" width="9.00" height="2.00" rx="1.62" ry="1.00" fill="#111" opacity="0.35" filter="url(#bl)"/>
<rect x="48.45" y="164.40" width="10.50" height="2.00" rx="1.89" ry="1.00" fill="#111" opacity="0.95" filter="url(#bl)"/>
<rect x="64.30" y="164.40" width="5.00" height="2.00" rx="0.90" ry="1.00" fill="#111" opacity="0.06" filter="url(#bl)"/>
<rect x="101.60" y="164.40" width="9.00" height="2.00" rx="1.62" ry="1.00" fill="#111" opacity="0.3" filter="url(#bl)"/>
<rect x="9.00" y="185.10" width="10.80" height="3.00" rx="1.94" ry="1.50" fill="#0a0a0a" opacity="1" filter="url(#bl)"/>
<rect x="22.10" y="185.30" width="10.80" height="2.60" rx="1.94" ry="1.30" fill="#0a0a0a" opacity="0.95" filter="url(#bl)"/>
<rect x="35.20" y="185.20" width="10.80" height="2.80" rx="1.94" ry="1.40" fill="#0a0a0a" opacity="0.95" filter="url(#bl)"/>
<rect x="48.30" y="185.25" width="10.80" height="2.70" rx="1.94" ry="1.35" fill="#0a0a0a" opacity="0.95" filter="url(#bl)"/>
<rect x="61.40" y="185.60" width="10.80" height="2.00" rx="1.94" ry="1.00" fill="#0a0a0a" opacity="0.8" filter="url(#bl)"/>
<rect x="74.50" y="185.30" width="10.80" height="2.60" rx="1.94" ry="1.30" fill="#0a0a0a" opacity="0.9" filter="url(#bl)"/>
<rect x="87.60" y="185.40" width="10.80" height="2.40" rx="1.94" ry="1.20" fill="#0a0a0a" opacity="0.9" filter="url(#bl)"/>
<rect x="100.70" y="185.20" width="10.80" height="2.80" rx="1.94" ry="1.40" fill="#0a0a0a" opacity="0.95" filter="url(#bl)"/>
<rect x="22.75" y="203.45" width="9.50" height="1.70" rx="1.71" ry="0.85" fill="#222" opacity="0.7" filter="url(#bl)"/>
<rect x="23.25" y="198.15" width="8.50" height="0.90" rx="1.53" ry="0.45" fill="#333" opacity="0.6" filter="url(#bl)"/>
<rect x="23.00" y="207.00" width="9.00" height="5.00" rx="1.62" ry="2.50" fill="#999" opacity="0.25" filter="url(#bl)"/>
<rect x="37.10" y="202.90" width="7.00" height="1.20" rx="1.26" ry="0.60" fill="#777" opacity="0.2" filter="url(#bl)"/>
<rect x="48.70" y="202.00" width="10.00" height="2.40" rx="1.80" ry="1.20" fill="#000" opacity="0.9" filter="url(#bl)"/>
<rect x="48.95" y="198.95" width="9.50" height="2.50" rx="1.71" ry="1.25" fill="#777" opacity="0.35" filter="url(#bl)"/>
<rect x="48.95" y="206.30" width="9.50" height="5.00" rx="1.71" ry="2.50" fill="#888" opacity="0.3" filter="url(#bl)"/>
<rect x="75.15" y="202.70" width="9.50" height="1.60" rx="1.71" ry="0.80" fill="#333" opacity="0.55" filter="url(#bl)"/>
<rect x="75.90" y="206.50" width="8.00" height="4.00" rx="1.44" ry="2.00" fill="#aaa" opacity="0.2" filter="url(#bl)"/>
<rect x="101.10" y="203.40" width="10.00" height="2.00" rx="1.80" ry="1.00" fill="#222" opacity="0.75" filter="url(#bl)"/>
<rect x="101.60" y="206.50" width="9.00" height="4.00" rx="1.62" ry="2.00" fill="#999" opacity="0.25" filter="url(#bl)"/>
<rect x="108.85" y="206.00" width="1.50" height="4.00" rx="0.27" ry="2.00" fill="#555" opacity="0.4" filter="url(#bl)"/>
<rect x="10.40" y="224.90" width="8.00" height="1.60" rx="1.44" ry="0.80" fill="#0a0a0a" opacity="0.3" filter="url(#bl)"/>
<rect x="22.50" y="225.50" width="10.00" height="2.60" rx="1.80" ry="1.30" fill="#0a0a0a" opacity="0.85" filter="url(#bl)"/>
<rect x="35.10" y="224.00" width="11.00" height="3.20" rx="1.98" ry="1.60" fill="#0a0a0a" opacity="1" filter="url(#bl)"/>
<rect x="48.70" y="223.90" width="10.00" height="2.60" rx="1.80" ry="1.30" fill="#0a0a0a" opacity="0.95" filter="url(#bl)"/>
<rect x="61.80" y="224.40" width="10.00" height="2.20" rx="1.80" ry="1.10" fill="#0a0a0a" opacity="0.8" filter="url(#bl)"/>
<rect x="74.40" y="223.40" width="11.00" height="3.00" rx="1.98" ry="1.50" fill="#0a0a0a" opacity="1" filter="url(#bl)"/>
<rect x="87.50" y="224.30" width="11.00" height="4.00" rx="1.98" ry="2.00" fill="#0a0a0a" opacity="1" filter="url(#bl)"/>
<rect x="101.10" y="225.30" width="10.00" height="2.60" rx="1.80" ry="1.30" fill="#0a0a0a" opacity="0.9" filter="url(#bl)"/>
<rect x="23.00" y="247.25" width="9.00" height="1.90" rx="1.62" ry="0.95" fill="#111" opacity="0.5" filter="url(#bl)"/>
<rect x="37.60" y="247.25" width="6.00" height="1.90" rx="1.08" ry="0.95" fill="#111" opacity="0.18" filter="url(#bl)"/>
<rect x="48.70" y="247.25" width="10.00" height="1.90" rx="1.80" ry="0.95" fill="#111" opacity="0.8" filter="url(#bl)"/>
<rect x="77.40" y="247.25" width="5.00" height="1.90" rx="0.90" ry="0.95" fill="#111" opacity="0.15" filter="url(#bl)"/>
<rect x="102.10" y="247.25" width="8.00" height="1.90" rx="1.44" ry="0.95" fill="#111" opacity="0.25" filter="url(#bl)"/>
<rect x="8.90" y="266.80" width="11.00" height="3.40" rx="1.98" ry="1.70" fill="#050505" opacity="0.95" filter="url(#bl)"/>
<rect x="22.00" y="267.00" width="11.00" height="3.00" rx="1.98" ry="1.50" fill="#050505" opacity="0.95" filter="url(#bl)"/>
<rect x="35.10" y="267.10" width="11.00" height="2.80" rx="1.98" ry="1.40" fill="#050505" opacity="0.95" filter="url(#bl)"/>
<rect x="48.20" y="267.10" width="11.00" height="2.80" rx="1.98" ry="1.40" fill="#050505" opacity="0.95" filter="url(#bl)"/>
<rect x="61.30" y="267.20" width="11.00" height="2.60" rx="1.98" ry="1.30" fill="#050505" opacity="0.95" filter="url(#bl)"/>
<rect x="74.40" y="267.20" width="11.00" height="2.60" rx="1.98" ry="1.30" fill="#050505" opacity="0.95" filter="url(#bl)"/>
<rect x="87.50" y="267.20" width="11.00" height="2.60" rx="1.98" ry="1.30" fill="#050505" opacity="0.95" filter="url(#bl)"/>
<rect x="101.35" y="267.30" width="9.50" height="2.40" rx="1.71" ry="1.20" fill="#050505" opacity="0.95" filter="url(#bl)"/>
<text x="118.70" y="167.90" font-size="6.40" stroke="#1e1e1e" stroke-width="0.12" textLength="21.70" lengthAdjust="spacingAndGlyphs">pPLC&#947;2</text>
<text x="118.70" y="188.40" font-size="6.40" stroke="#1e1e1e" stroke-width="0.12" textLength="20.00" lengthAdjust="spacingAndGlyphs">tPLC&#947;2</text>
<text x="118.70" y="208.90" font-size="6.40" stroke="#1e1e1e" stroke-width="0.12" textLength="13.56" lengthAdjust="spacingAndGlyphs">pSyk</text>
<text x="118.70" y="228.20" font-size="6.40" stroke="#1e1e1e" stroke-width="0.12" textLength="11.86" lengthAdjust="spacingAndGlyphs">tSyk</text>
<text x="118.70" y="248.70" font-size="6.40" stroke="#1e1e1e" stroke-width="0.12" textLength="12.21" lengthAdjust="spacingAndGlyphs">pAkt</text>
<text x="118.70" y="269.50" font-size="6.40" stroke="#1e1e1e" stroke-width="0.12" textLength="10.51" lengthAdjust="spacingAndGlyphs">tAkt</text>
<text x="13.80" y="286.50" font-size="6.40" text-anchor="middle" stroke="#1e1e1e" stroke-width="0.12">-</text>
<text x="25.80" y="286.50" font-size="6.40" text-anchor="middle" stroke="#1e1e1e" stroke-width="0.12">+</text>
<text x="39.20" y="286.50" font-size="6.40" text-anchor="middle" stroke="#1e1e1e" stroke-width="0.12">-</text>
<text x="51.30" y="286.50" font-size="6.40" text-anchor="middle" stroke="#1e1e1e" stroke-width="0.12">+</text>
<text x="63.80" y="286.50" font-size="6.40" text-anchor="middle" stroke="#1e1e1e" stroke-width="0.12">-</text>
<text x="75.80" y="286.50" font-size="6.40" text-anchor="middle" stroke="#1e1e1e" stroke-width="0.12">+</text>
<text x="89.50" y="286.50" font-size="6.40" text-anchor="middle" stroke="#1e1e1e" stroke-width="0.12">-</text>
<text x="106.20" y="286.50" font-size="6.40" text-anchor="middle" stroke="#1e1e1e" stroke-width="0.12">+</text>
<text x="118.50" y="286.50" font-size="6.40" stroke="#1e1e1e" stroke-width="0.12" textLength="16.95" lengthAdjust="spacingAndGlyphs">pRGD</text>
<text x="118.50" y="299.30" font-size="6.40" stroke="#1e1e1e" stroke-width="0.12" textLength="12.21" lengthAdjust="spacingAndGlyphs">PBS</text>
<line x1="10.00" y1="290.20" x2="30.40" y2="290.20" stroke="#222" stroke-width="1.1"/>
<line x1="35.50" y1="290.20" x2="56.50" y2="290.20" stroke="#222" stroke-width="1.1"/>
<line x1="59.80" y1="290.20" x2="80.80" y2="290.20" stroke="#222" stroke-width="1.1"/>
<line x1="88.30" y1="290.20" x2="109.00" y2="290.20" stroke="#222" stroke-width="1.1"/>
<text x="20.20" y="299.30" font-size="6.40" text-anchor="middle" stroke="#1e1e1e" stroke-width="0.12">1x</text>
<text x="47.10" y="299.30" font-size="6.40" text-anchor="middle" stroke="#1e1e1e" stroke-width="0.12">0,65x</text>
<text x="70.50" y="299.30" font-size="6.40" text-anchor="middle" stroke="#1e1e1e" stroke-width="0.12">1x</text>
<text x="99.10" y="299.30" font-size="6.40" text-anchor="middle" stroke="#1e1e1e" stroke-width="0.12">0,65x</text>
<line x1="15.60" y1="303.70" x2="55.20" y2="303.70" stroke="#222" stroke-width="1.1"/>
<line x1="66.80" y1="303.70" x2="106.40" y2="303.70" stroke="#222" stroke-width="1.1"/>
<text x="35.50" y="312.10" font-size="6.40" text-anchor="middle" stroke="#1e1e1e" stroke-width="0.12">WT</text>
<text x="86.20" y="312.10" font-size="6.40" text-anchor="middle" stroke="#1e1e1e" stroke-width="0.12">Sell<tspan font-size="3.8" dy="-2.2">-/-</tspan></text>
<text transform="translate(6.97 150.50) scale(1.079 1)" font-size="11.6" font-weight="bold" fill="#000" stroke="#000" stroke-width="0.12">D</text>
<text transform="translate(186.44 338.30) scale(1.130 1)" font-size="11.6" font-weight="bold" fill="#000" stroke="#000" stroke-width="0.12">I</text>
<rect x="203.90" y="341.90" width="108.50" height="18.90" fill="#e0e0e0"/>
<rect x="203.90" y="363.20" width="108.50" height="17.50" fill="#d6d6d6"/>
<rect x="203.90" y="385.80" width="108.50" height="18.40" fill="#e2e2e2"/>
<rect x="203.90" y="406.50" width="108.50" height="18.50" fill="#c6c6c6"/>
<rect x="203.90" y="427.80" width="108.50" height="19.10" fill="#a9a9a9"/>
<rect x="203.90" y="448.10" width="108.50" height="18.90" fill="#b0b0b0"/>
<rect x="203.90" y="341.9" width="108.50" height="18.9" fill="#000" filter="url(#noiseI)"/>
<circle cx="229.72" cy="352.02" r="0.63" fill="#222" opacity="0.86"/>
<circle cx="271.79" cy="343.65" r="0.31" fill="#222" opacity="0.80"/>
<circle cx="232.04" cy="346.60" r="1.20" fill="#222" opacity="0.58"/>
<circle cx="294.66" cy="350.84" r="0.88" fill="#222" opacity="0.39"/>
<circle cx="272.78" cy="357.69" r="0.77" fill="#222" opacity="0.74"/>
<circle cx="276.75" cy="343.62" r="0.98" fill="#222" opacity="0.65"/>
<circle cx="236.59" cy="343.04" r="1.08" fill="#222" opacity="0.58"/>
<circle cx="281.89" cy="357.88" r="0.94" fill="#222" opacity="0.85"/>
<circle cx="246.75" cy="356.52" r="0.70" fill="#222" opacity="0.86"/>
<circle cx="299.26" cy="344.21" r="0.42" fill="#222" opacity="0.43"/>
<circle cx="308.65" cy="350.13" r="0.86" fill="#222" opacity="0.48"/>
<circle cx="258.94" cy="349.25" r="0.62" fill="#222" opacity="0.65"/>
<circle cx="267.29" cy="358.32" r="0.91" fill="#222" opacity="0.86"/>
<circle cx="296.82" cy="359.84" r="0.90" fill="#222" opacity="0.40"/>
<circle cx="297.28" cy="359.38" r="1.11" fill="#222" opacity="0.64"/>
<circle cx="281.35" cy="346.19" r="1.05" fill="#222" opacity="0.64"/>
<circle cx="234.82" cy="343.61" r="1.07" fill="#222" opacity="0.89"/>
<circle cx="213.50" cy="356.51" r="0.67" fill="#222" opacity="0.59"/>
<circle cx="235.79" cy="355.95" r="1.09" fill="#222" opacity="0.33"/>
<circle cx="270.58" cy="343.29" r="0.95" fill="#222" opacity="0.50"/>
<circle cx="299.48" cy="359.66" r="0.75" fill="#222" opacity="0.90"/>
<circle cx="237.50" cy="343.85" r="0.84" fill="#222" opacity="0.32"/>
<circle cx="225.32" cy="349.64" r="0.85" fill="#222" opacity="0.59"/>
<circle cx="208.50" cy="357.69" r="0.58" fill="#222" opacity="1.00"/>
<circle cx="301.19" cy="349.11" r="0.71" fill="#222" opacity="0.61"/>
<circle cx="273.76" cy="352.92" r="0.80" fill="#222" opacity="0.67"/>
<circle cx="305.96" cy="351.37" r="0.69" fill="#222" opacity="0.73"/>
<circle cx="229.68" cy="347.77" r="1.18" fill="#222" opacity="0.81"/>
<circle cx="263.40" cy="342.70" r="0.67" fill="#222" opacity="0.65"/>
<circle cx="206.08" cy="353.28" r="0.87" fill="#222" opacity="0.54"/>
<rect x="206.00" y="350.10" width="18.00" height="1.80" rx="2.50" ry="0.90" fill="#111" opacity="0.35" filter="url(#bl)"/>
<rect x="233.40" y="350.10" width="18.00" height="1.80" rx="2.50" ry="0.90" fill="#111" opacity="0.95" filter="url(#bl)"/>
<rect x="259.60" y="350.10" width="19.00" height="1.80" rx="2.50" ry="0.90" fill="#111" opacity="0.85" filter="url(#bl)"/>
<rect x="286.00" y="350.10" width="20.00" height="1.80" rx="2.50" ry="0.90" fill="#111" opacity="0.85" filter="url(#bl)"/>
<rect x="213.60" y="354.00" width="8.00" height="2.00" rx="1.44" ry="1.00" fill="#111" opacity="0.6" filter="url(#bl)"/>
<circle cx="208" cy="353" r="1.2" fill="#111" opacity="0.7" filter="url(#bl)"/>
<circle cx="215" cy="355.3" r="1.5" fill="#111" opacity="0.8" filter="url(#bl)"/>
<circle cx="220.2" cy="350.7" r="1.2" fill="#111" opacity="0.6" filter="url(#bl)"/>
<circle cx="220.2" cy="343.2" r="1.0" fill="#111" opacity="0.6" filter="url(#bl)"/>
<circle cx="215" cy="359.3" r="1.0" fill="#111" opacity="0.6" filter="url(#bl)"/>
<circle cx="223" cy="359.3" r="1.0" fill="#111" opacity="0.5" filter="url(#bl)"/>
<circle cx="210" cy="357" r="0.9" fill="#111" opacity="0.5" filter="url(#bl)"/>
<circle cx="226" cy="356" r="0.8" fill="#111" opacity="0.4" filter="url(#bl)"/>
<rect x="207.10" y="370.30" width="21.00" height="1.80" rx="2.50" ry="0.90" fill="#333" opacity="0.6" filter="url(#bl)"/>
<rect x="233.10" y="370.30" width="21.00" height="1.80" rx="2.50" ry="0.90" fill="#333" opacity="0.6" filter="url(#bl)"/>
<rect x="257.90" y="370.30" width="21.00" height="1.80" rx="2.50" ry="0.90" fill="#333" opacity="0.7" filter="url(#bl)"/>
<rect x="285.50" y="370.30" width="21.00" height="1.80" rx="2.50" ry="0.90" fill="#333" opacity="0.7" filter="url(#bl)"/>
<rect x="232.60" y="392.50" width="22.00" height="4.00" rx="2.50" ry="2.00" fill="#000" opacity="1.0" filter="url(#bl)"/>
<rect x="285.00" y="393.10" width="22.00" height="2.80" rx="2.50" ry="1.40" fill="#111" opacity="0.8" filter="url(#bl)"/>
<rect x="233.60" y="387.90" width="20.00" height="1.20" rx="2.50" ry="0.60" fill="#666" opacity="0.35" filter="url(#bl)"/>
<rect x="286.00" y="387.90" width="20.00" height="1.20" rx="2.50" ry="0.60" fill="#666" opacity="0.3" filter="url(#bl)"/>
<rect x="208.60" y="393.75" width="18.00" height="1.50" rx="2.50" ry="0.75" fill="#888" opacity="0.2" filter="url(#bl)"/>
<rect x="206.60" y="414.70" width="22.00" height="2.20" rx="2.50" ry="1.10" fill="#222" opacity="0.85" filter="url(#bl)"/>
<rect x="232.50" y="414.70" width="21.00" height="2.20" rx="2.50" ry="1.10" fill="#222" opacity="0.85" filter="url(#bl)"/>
<rect x="257.40" y="414.70" width="22.00" height="2.20" rx="2.50" ry="1.10" fill="#222" opacity="0.85" filter="url(#bl)"/>
<rect x="284.00" y="414.70" width="24.00" height="2.20" rx="2.50" ry="1.10" fill="#222" opacity="0.85" filter="url(#bl)"/>
<rect x="237.70" y="436.45" width="17.00" height="1.90" rx="2.50" ry="0.95" fill="#000" opacity="0.95" filter="url(#bl)"/>
<rect x="284.00" y="436.65" width="20.00" height="1.50" rx="2.50" ry="0.75" fill="#333" opacity="0.45" filter="url(#bl)"/>
<line x1="257.00" y1="428.00" x2="257.00" y2="446.50" stroke="#9a9a9a" stroke-width="0.5"/>
<rect x="207.00" y="457.00" width="22.00" height="3.00" rx="2.50" ry="1.50" fill="#050505" opacity="0.95" filter="url(#bl)"/>
<rect x="232.20" y="457.00" width="22.00" height="3.00" rx="2.50" ry="1.50" fill="#050505" opacity="0.95" filter="url(#bl)"/>
<rect x="257.30" y="457.00" width="21.00" height="3.00" rx="2.50" ry="1.50" fill="#050505" opacity="0.95" filter="url(#bl)"/>
<rect x="283.10" y="457.00" width="25.00" height="3.00" rx="2.50" ry="1.50" fill="#050505" opacity="0.95" filter="url(#bl)"/>
<text x="314.80" y="358.00" font-size="6.40" stroke="#1e1e1e" stroke-width="0.12" textLength="21.70" lengthAdjust="spacingAndGlyphs">pPLC&#947;2</text>
<text x="314.80" y="375.30" font-size="6.40" stroke="#1e1e1e" stroke-width="0.12" textLength="20.00" lengthAdjust="spacingAndGlyphs">tPLC&#947;2</text>
<text x="314.80" y="398.20" font-size="6.40" stroke="#1e1e1e" stroke-width="0.12" textLength="13.56" lengthAdjust="spacingAndGlyphs">pSyk</text>
<text x="314.80" y="418.20" font-size="6.40" stroke="#1e1e1e" stroke-width="0.12" textLength="11.86" lengthAdjust="spacingAndGlyphs">tSyk</text>
<text x="314.80" y="439.50" font-size="6.40" stroke="#1e1e1e" stroke-width="0.12" textLength="12.21" lengthAdjust="spacingAndGlyphs">pAkt</text>
<text x="314.80" y="458.00" font-size="6.40" stroke="#1e1e1e" stroke-width="0.12" textLength="10.51" lengthAdjust="spacingAndGlyphs">tAkt</text>
<text x="187.20" y="476.00" font-size="6.40" stroke="#1e1e1e" stroke-width="0.12" textLength="16.50" lengthAdjust="spacingAndGlyphs">pRGD</text>
<text x="218.90" y="476.00" font-size="6.40" text-anchor="middle" stroke="#1e1e1e" stroke-width="0.12">-</text>
<text x="242.90" y="476.00" font-size="6.40" text-anchor="middle" stroke="#1e1e1e" stroke-width="0.12">+</text>
<text x="268.00" y="476.00" font-size="6.40" text-anchor="middle" stroke="#1e1e1e" stroke-width="0.12">-</text>
<text x="293.90" y="476.00" font-size="6.40" text-anchor="middle" stroke="#1e1e1e" stroke-width="0.12">+</text>
<line x1="207.40" y1="480.10" x2="255.60" y2="480.10" stroke="#222" stroke-width="1.1"/>
<line x1="259.30" y1="480.10" x2="307.80" y2="480.10" stroke="#222" stroke-width="1.1"/>
<text x="231.30" y="488.28" font-size="6.60" text-anchor="middle" stroke="#1e1e1e" stroke-width="0.12">DMSO</text>
<text x="283.30" y="488.28" font-size="6.60" text-anchor="middle" stroke="#1e1e1e" stroke-width="0.12">GM6001</text><rect x="0.65" y="0.65" width="518.7" height="642.7" fill="none" stroke="#000" stroke-width="1.3"/></svg></body></html>
